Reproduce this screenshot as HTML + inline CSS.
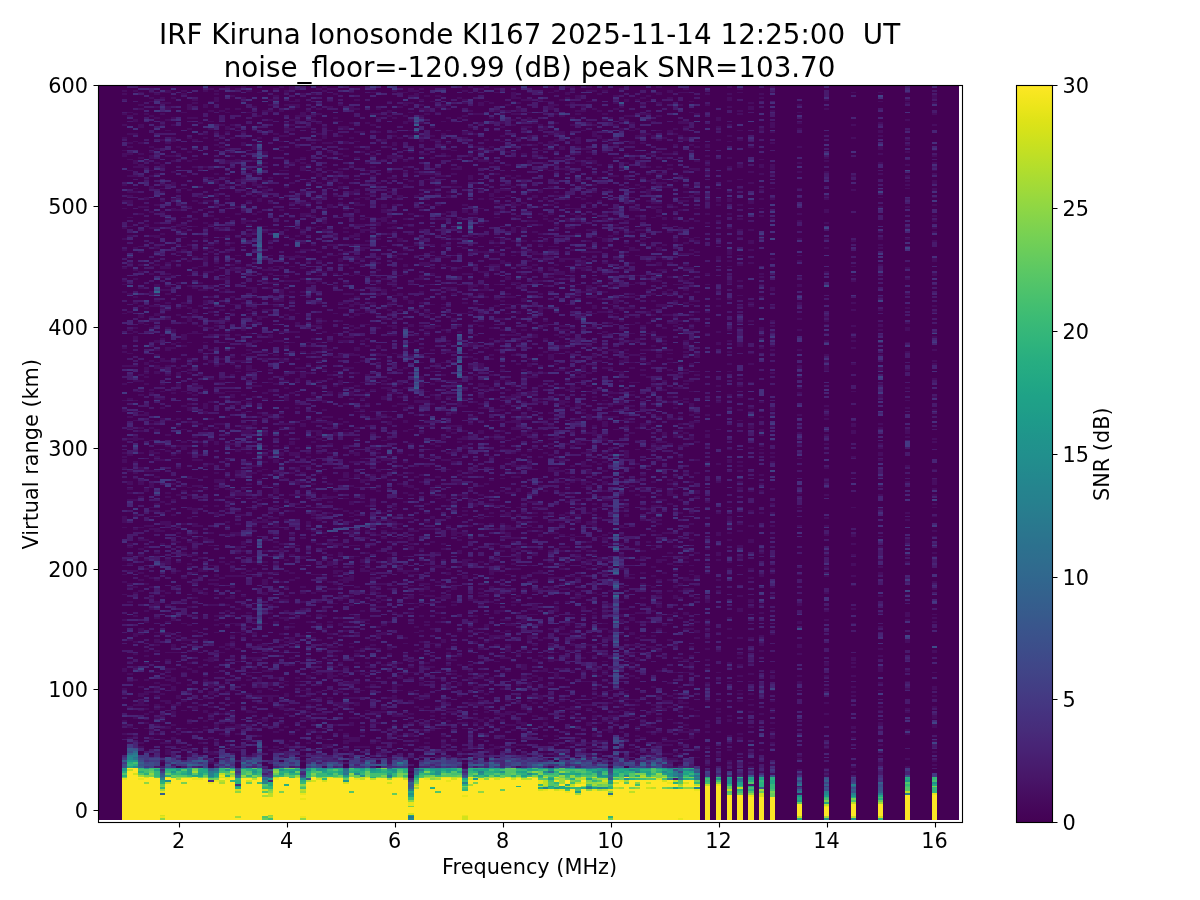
<!DOCTYPE html>
<html lang="en"><head><meta charset="utf-8"><title>IRF Kiruna Ionosonde KI167</title>
<style>html,body{margin:0;padding:0;background:#fff}svg{display:block}text{font-family:"DejaVu Sans","Liberation Sans",sans-serif;fill:#000}.t15{font-size:20.8333px}.t20{font-size:27.7778px}</style></head><body>
<svg width="1200" height="900" viewBox="0 0 1200 900">
<defs><clipPath id="axclip"><rect x="98" y="85" width="864" height="737"/></clipPath>
<linearGradient id="vir" x1="0" y1="0" x2="0" y2="1"><stop offset="0.0000" stop-color="#fde725"/><stop offset="0.0156" stop-color="#f4e61e"/><stop offset="0.0312" stop-color="#eae51a"/><stop offset="0.0469" stop-color="#dfe318"/><stop offset="0.0625" stop-color="#d5e21a"/><stop offset="0.0781" stop-color="#cae11f"/><stop offset="0.0938" stop-color="#c0df25"/><stop offset="0.1094" stop-color="#b5de2b"/><stop offset="0.1250" stop-color="#aadc32"/><stop offset="0.1406" stop-color="#a0da39"/><stop offset="0.1562" stop-color="#95d840"/><stop offset="0.1719" stop-color="#8bd646"/><stop offset="0.1875" stop-color="#81d34d"/><stop offset="0.2031" stop-color="#77d153"/><stop offset="0.2188" stop-color="#6ece58"/><stop offset="0.2344" stop-color="#65cb5e"/><stop offset="0.2500" stop-color="#5cc863"/><stop offset="0.2656" stop-color="#54c568"/><stop offset="0.2812" stop-color="#4cc26c"/><stop offset="0.2969" stop-color="#44bf70"/><stop offset="0.3125" stop-color="#3dbc74"/><stop offset="0.3281" stop-color="#37b878"/><stop offset="0.3438" stop-color="#31b57b"/><stop offset="0.3594" stop-color="#2cb17e"/><stop offset="0.3750" stop-color="#27ad81"/><stop offset="0.3906" stop-color="#24aa83"/><stop offset="0.4062" stop-color="#21a685"/><stop offset="0.4219" stop-color="#1fa287"/><stop offset="0.4375" stop-color="#1f9f88"/><stop offset="0.4531" stop-color="#1e9b8a"/><stop offset="0.4688" stop-color="#1f978b"/><stop offset="0.4844" stop-color="#20938c"/><stop offset="0.5000" stop-color="#21908d"/><stop offset="0.5156" stop-color="#228c8d"/><stop offset="0.5312" stop-color="#23888e"/><stop offset="0.5469" stop-color="#25848e"/><stop offset="0.5625" stop-color="#26818e"/><stop offset="0.5781" stop-color="#287d8e"/><stop offset="0.5938" stop-color="#29798e"/><stop offset="0.6094" stop-color="#2b758e"/><stop offset="0.6250" stop-color="#2c718e"/><stop offset="0.6406" stop-color="#2e6e8e"/><stop offset="0.6562" stop-color="#306a8e"/><stop offset="0.6719" stop-color="#31668e"/><stop offset="0.6875" stop-color="#33628d"/><stop offset="0.7031" stop-color="#355e8d"/><stop offset="0.7188" stop-color="#375a8c"/><stop offset="0.7344" stop-color="#39558c"/><stop offset="0.7500" stop-color="#3b518b"/><stop offset="0.7656" stop-color="#3d4d8a"/><stop offset="0.7812" stop-color="#3f4889"/><stop offset="0.7969" stop-color="#414487"/><stop offset="0.8125" stop-color="#423f85"/><stop offset="0.8281" stop-color="#443a83"/><stop offset="0.8438" stop-color="#453581"/><stop offset="0.8594" stop-color="#46307e"/><stop offset="0.8750" stop-color="#472c7a"/><stop offset="0.8906" stop-color="#482677"/><stop offset="0.9062" stop-color="#482173"/><stop offset="0.9219" stop-color="#481c6e"/><stop offset="0.9375" stop-color="#481769"/><stop offset="0.9531" stop-color="#471164"/><stop offset="0.9688" stop-color="#460b5e"/><stop offset="0.9844" stop-color="#450559"/><stop offset="1.0000" stop-color="#440154"/></linearGradient></defs>
<rect width="1200" height="900" fill="#fff"/>
<g clip-path="url(#axclip)" shape-rendering="crispEdges">
<rect x="94.953" y="84.327" width="863.878" height="735.781" fill="#440154"/>
<g transform="matrix(5.39924 0 0 -1.81227 94.9532 820.1079)" fill="none" stroke-width="1">
<path stroke="#470d60" d="M135 24.5h1m-78 1h1m66 0h1m-3 1h1m11 0h1m4 0h1m-83 1h1m71 0h1m-73 1h1m9 0h1m66 0h1m-94 1h1m35 0h1m5 0h1m22 0h1m13 0h1m18 0h1m9 0h1m-43 1h1m4 0h1m3 0h1m7 0h1m19 0h1m9 0h1m-135 1h1m30 0h1m1 0h1m13 0h1m52 0h1m23 0h1m-134 1h1m25 0h1m15 0h1m17 0h1m20 0h1m14 0h1m8 0h1m37 0h1m-102 1h1m15 0h1m16 0h1m18 0h2m5 0h1m16 0h1m19 0h1m-139 1h1m3 0h1m18 0h1m11 0h1m6 0h1m8 0h1m1 0h1m6 0h1m20 0h1m3 0h1m4 0h1m8 0h1m-102 1h1m6 0h1m10 0h1m5 0h1m3 0h1m21 0h1m2 0h2m2 0h1m17 0h1m5 0h1m23 0h1m14 0h1m14 0h1m-133 1h1m3 0h1m3 0h2m17 0h1m12 0h1m19 0h1m2 0h2m1 0h1m3 0h1m1 0h1m1 0h1m5 0h1m6 0h1m1 0h2m1 0h2m1 0h1m6 0h1m-103 1h1m7 0h1m11 0h2m12 0h1m4 0h1m14 0h1m2 0h1m2 0h1m3 0h1m12 0h1m8 0h1m2 0h1m4 0h1m13 0h1m33 0h1m-143 1h1m3 0h1m7 0h2m5 0h2m7 0h1m4 0h1m14 0h1m2 0h1m3 0h2m2 0h2m26 0h1m10 0h1m5 0h1m5 0h1m-107 1h1m4 0h1m2 0h1m10 0h2m4 0h1m1 0h1m1 0h1m12 0h1m5 0h1m2 0h1m4 0h2m4 0h1m11 0h1m5 0h1m1 0h1m8 0h1m16 0h1m9 0h1m-128 1h1m7 0h1m3 0h1m4 0h1m5 0h1m1 0h1m1 0h1m6 0h1m5 0h3m2 0h1m6 0h1m9 0h1m3 0h1m1 0h2m9 0h1m3 0h2m20 0h1m-90 1h1m10 0h1m1 0h1m4 0h2m13 0h1m6 0h1m8 0h1m4 0h2m24 0h3m1 0h1m26 0h1m9 0h1m-140 1h1m1 0h1m3 0h2m5 0h1m19 0h1m6 0h1m4 0h1m3 0h1m5 0h1m2 0h1m19 0h2m2 0h2m1 0h1m12 0h1m12 0h1m7 0h1m-104 1h1m5 0h1m7 0h1m3 0h1m5 0h3m3 0h1m6 0h1m6 0h1m26 0h2m10 0h3m47 0h1m-146 1h1m1 0h1m1 0h1m18 0h2m7 0h1m4 0h2m2 0h1m2 0h1m4 0h1m4 0h1m6 0h1m7 0h1m8 0h1m8 0h1m11 0h1m9 0h1m-114 1h1m3 0h1m3 0h1m6 0h1m24 0h3m12 0h1m13 0h1m13 0h1m11 0h1m3 0h1m4 0h1m8 0h1m5 0h1m14 0h1m-134 1h1m16 0h1m5 0h1m10 0h1m14 0h1m1 0h1m5 0h1m15 0h1m2 0h1m1 0h1m6 0h1m7 0h1m9 0h1m6 0h1m7 0h1m-121 1h1m5 0h1m3 0h1m7 0h1m2 0h1m9 0h1m9 0h1m8 0h1m2 0h1m13 0h1m19 0h2m9 0h1m15 0h1m30 0h1m-133 1h1m14 0h1m5 0h1m1 0h1m7 0h1m11 0h1m25 0h1m7 0h1m1 0h1m4 0h1m1 0h1m3 0h4m1 0h1m1 0h1m9 0h1m-116 1h1m4 0h1m4 0h1m8 0h1m4 0h1m2 0h1m1 0h2m4 0h1m9 0h1m4 0h1m1 0h1m6 0h1m7 0h1m3 0h1m12 0h2m4 0h1m9 0h1m34 0h1m4 0h1m-142 1h1m2 0h2m2 0h1m1 0h1m7 0h1m16 0h1m10 0h1m9 0h1m3 0h1m11 0h1m9 0h1m16 0h1m1 0h1m15 0h1m14 0h1m-135 1h1m6 0h1m6 0h1m1 0h1m1 0h4m3 0h1m3 0h1m2 0h1m10 0h1m21 0h1m3 0h1m16 0h1m7 0h1m1 0h2m9 0h1m7 0h1m18 0h1m14 0h1m-151 1h1m5 0h1m2 0h1m7 0h1m3 0h1m1 0h1m15 0h1m2 0h1m7 0h1m4 0h1m12 0h1m2 0h2m1 0h1m3 0h1m7 0h1m10 0h1m6 0h1m3 0h1m31 0h1m9 0h1m-147 1h1m7 0h1m5 0h1m1 0h1m8 0h1m12 0h1m3 0h2m5 0h1m2 0h1m5 0h2m1 0h1m7 0h2m3 0h1m7 0h1m1 0h1m7 0h1m5 0h1m17 0h1m19 0h1m-141 1h1m6 0h1m7 0h1m8 0h1m1 0h1m8 0h1m22 0h1m1 0h1m5 0h1m3 0h1m2 0h1m6 0h1m8 0h3m1 0h1m14 0h1m3 0h1m-109 1h1m7 0h1m5 0h1m6 0h2m7 0h2m1 0h1m2 0h1m24 0h2m2 0h2m7 0h1m6 0h1m10 0h1m2 0h1m1 0h1m8 0h1m1 0h1m32 0h1m-144 1h1m3 0h1m9 0h1m11 0h1m4 0h2m7 0h2m3 0h1m11 0h1m5 0h1m1 0h1m10 0h1m5 0h1m2 0h1m2 0h1m4 0h1m3 0h1m50 0h1m-144 1h1m42 0h3m4 0h1m12 0h1m5 0h1m6 0h1m3 0h1m2 0h2m2 0h1m11 0h1m5 0h1m37 0h1m-147 1h1m4 0h1m6 0h1m1 0h1m1 0h1m6 0h1m2 0h1m2 0h1m2 0h2m9 0h1m2 0h1m2 0h1m15 0h3m25 0h1m20 0h1m11 0h1m-126 1h1m3 0h1m5 0h1m1 0h1m1 0h2m2 0h2m9 0h1m11 0h3m8 0h1m2 0h2m5 0h1m3 0h2m2 0h1m7 0h1m3 0h1m3 0h1m2 0h1m3 0h1m4 0h1m6 0h1m5 0h1m3 0h1m24 0h1m-143 1h1m7 0h1m3 0h1m6 0h2m7 0h1m7 0h1m5 0h1m19 0h1m9 0h1m2 0h1m11 0h1m1 0h1m5 0h1m7 0h1m7 0h1m25 0h1m-137 1h1m1 0h1m6 0h1m15 0h2m3 0h1m13 0h1m6 0h1m3 0h3m5 0h1m6 0h1m3 0h1m3 0h3m1 0h1m7 0h1m3 0h3m2 0h1m1 0h1m4 0h1m9 0h1m24 0h1m-145 1h1m5 0h1m5 0h1m2 0h1m11 0h2m3 0h1m7 0h1m6 0h1m5 0h1m1 0h1m1 0h1m22 0h1m1 0h1m8 0h1m8 0h1m2 0h1m35 0h1m9 0h1m-149 1h3m1 0h1m2 0h2m3 0h1m15 0h1m3 0h1m5 0h2m1 0h1m21 0h2m12 0h1m5 0h2m2 0h1m5 0h1m2 0h2m16 0h1m-114 1h1m4 0h1m11 0h1m4 0h2m12 0h2m2 0h1m16 0h1m3 0h2m7 0h1m2 0h1m7 0h1m5 0h1m1 0h2m9 0h2m25 0h1m-128 1h1m3 0h2m2 0h1m15 0h1m6 0h2m17 0h1m5 0h1m6 0h1m4 0h1m3 0h1m5 0h1m9 0h1m3 0h1m4 0h2m1 0h1m4 0h1m1 0h1m3 0h1m5 0h1m-117 1h1m22 0h1m1 0h1m20 0h2m7 0h1m4 0h1m12 0h1m1 0h1m9 0h1m2 0h1m1 0h2m20 0h1m-107 1h1m4 0h1m6 0h1m4 0h1m8 0h1m1 0h1m2 0h3m5 0h2m3 0h3m20 0h1m3 0h1m5 0h1m4 0h2m8 0h1m-100 1h1m2 0h1m3 0h1m13 0h5m1 0h1m1 0h1m1 0h1m15 0h1m11 0h1m10 0h1m1 0h3m1 0h1m8 0h1m10 0h1m1 0h1m2 0h1m30 0h1m14 0h1m-148 1h2m2 0h1m8 0h1m5 0h2m6 0h1m25 0h1m10 0h1m25 0h1m8 0h1m11 0h1m1 0h1m-113 1h2m6 0h1m3 0h2m1 0h1m5 0h1m8 0h1m1 0h1m2 0h2m12 0h1m12 0h1m20 0h1m47 0h1m-130 1h1m2 0h1m10 0h1m4 0h1m6 0h3m8 0h2m6 0h1m38 0h1m2 0h1m20 0h1m5 0h1m19 0h1m-141 1h1m5 0h1m2 0h1m8 0h1m8 0h1m14 0h1m7 0h1m14 0h1m4 0h1m4 0h1m16 0h1m37 0h1m14 0h1m4 0h1m-148 1h1m5 0h1m6 0h1m8 0h1m19 0h1m4 0h1m9 0h1m4 0h2m11 0h1m8 0h1m10 0h1m4 0h1m4 0h1m26 0h1m14 0h1m-144 1h2m3 0h1m3 0h1m1 0h1m3 0h1m2 0h1m1 0h1m2 0h1m1 0h1m3 0h1m9 0h1m3 0h2m3 0h1m4 0h1m1 0h1m1 0h1m8 0h1m1 0h1m3 0h1m-74 1h1m3 0h1m16 0h1m1 0h1m11 0h3m11 0h1m1 0h1m4 0h1m12 0h1m25 0h1m3 0h1m2 0h1m16 0h1m14 0h1m-140 1h1m7 0h1m5 0h2m2 0h1m5 0h1m4 0h1m1 0h1m2 0h1m6 0h2m1 0h2m12 0h1m25 0h2m2 0h1m15 0h1m6 0h1m3 0h1m8 0h1m19 0h1m-144 1h1m1 0h1m3 0h2m5 0h1m5 0h1m1 0h1m1 0h1m29 0h1m8 0h1m3 0h1m4 0h1m3 0h1m4 0h1m27 0h1m-102 1h1m15 0h1m2 0h1m3 0h1m1 0h1m3 0h1m10 0h1m1 0h1m1 0h1m4 0h1m5 0h1m1 0h1m1 0h1m5 0h2m1 0h1m2 0h1m14 0h1m7 0h1m16 0h1m-113 1h1m6 0h1m7 0h1m10 0h1m3 0h2m1 0h1m9 0h1m10 0h1m2 0h1m8 0h1m1 0h1m3 0h1m7 0h1m5 0h1m19 0h1m5 0h1m4 0h1m4 0h1m4 0h1m-135 1h1m34 0h1m1 0h1m1 0h1m3 0h1m7 0h1m8 0h1m4 0h1m13 0h1m6 0h1m1 0h1m26 0h1m-112 1h2m4 0h1m1 0h1m3 0h1m5 0h1m12 0h3m6 0h1m7 0h2m4 0h1m20 0h1m21 0h1m1 0h2m4 0h1m39 0h1m-151 1h1m7 0h1m4 0h1m12 0h2m12 0h1m2 0h1m3 0h1m10 0h1m2 0h1m2 0h1m6 0h1m5 0h2m4 0h1m1 0h1m3 0h1m9 0h1m20 0h1m19 0h1m4 0h1m-146 1h1m7 0h2m2 0h1m7 0h1m3 0h1m10 0h1m16 0h1m17 0h1m3 0h1m3 0h1m2 0h1m6 0h1m1 0h1m3 0h1m10 0h1m2 0h1m31 0h1m-139 1h1m8 0h1m2 0h1m2 0h1m21 0h1m1 0h1m3 0h1m7 0h1m2 0h2m16 0h1m12 0h1m5 0h1m1 0h1m16 0h1m22 0h1m4 0h1m-118 1h1m7 0h1m6 0h1m9 0h1m1 0h1m4 0h1m4 0h1m1 0h1m1 0h1m9 0h1m30 0h1m8 0h1m15 0h1m-127 1h1m7 0h1m6 0h1m8 0h1m7 0h1m3 0h1m2 0h1m1 0h1m3 0h1m1 0h1m4 0h1m37 0h1m10 0h1m6 0h1m3 0h1m13 0h1m4 0h1m-135 1h1m11 0h1m2 0h1m4 0h1m12 0h1m12 0h1m9 0h1m9 0h1m1 0h1m2 0h1m3 0h2m1 0h1m9 0h1m-82 1h1m6 0h2m5 0h1m1 0h1m13 0h1m14 0h2m5 0h2m14 0h1m2 0h2m14 0h1m8 0h1m3 0h1m26 0h1m-125 1h1m4 0h2m2 0h1m2 0h3m5 0h1m2 0h1m7 0h1m4 0h1m4 0h1m17 0h2m6 0h1m3 0h1m2 0h1m7 0h1m1 0h1m7 0h1m10 0h1m20 0h1m-132 1h1m34 0h1m22 0h1m14 0h1m1 0h1m7 0h1m1 0h2m9 0h1m4 0h1m34 0h1m-139 1h1m23 0h1m11 0h1m4 0h1m5 0h1m2 0h1m7 0h1m12 0h1m20 0h1m19 0h1m10 0h1m-118 1h3m6 0h2m6 0h1m3 0h1m30 0h1m3 0h1m3 0h1m5 0h1m5 0h1m5 0h1m2 0h1m2 0h1m2 0h2m53 0h1m-147 1h1m1 0h1m6 0h1m13 0h1m6 0h1m5 0h1m2 0h1m10 0h1m16 0h1m3 0h1m3 0h1m3 0h1m15 0h1m10 0h1m5 0h1m1 0h1m31 0h1m-132 1h1m1 0h1m22 0h1m2 0h1m1 0h1m5 0h1m4 0h1m3 0h1m1 0h1m4 0h1m12 0h2m1 0h1m10 0h1m9 0h1m31 0h1m-132 1h1m8 0h1m1 0h1m6 0h1m10 0h2m2 0h1m2 0h1m3 0h1m8 0h1m30 0h1m3 0h1m3 0h2m1 0h1m4 0h1m19 0h1m-120 1h1m2 0h1m3 0h1m5 0h1m5 0h2m2 0h1m7 0h1m8 0h1m22 0h1m1 0h1m4 0h1m2 0h1m3 0h1m2 0h2m6 0h2m6 0h1m15 0h1m6 0h1m-115 1h1m3 0h1m3 0h1m22 0h1m9 0h1m3 0h3m2 0h1m13 0h1m7 0h1m34 0h1m-117 1h1m3 0h1m13 0h1m9 0h2m7 0h1m15 0h1m3 0h1m5 0h1m1 0h1m12 0h1m64 0h1m-145 1h1m4 0h1m4 0h3m1 0h1m8 0h2m3 0h1m1 0h1m4 0h1m9 0h1m12 0h1m8 0h1m6 0h1m1 0h1m5 0h1m6 0h1m2 0h1m7 0h1m43 0h1m-137 1h1m21 0h1m3 0h1m16 0h1m15 0h1m1 0h1m4 0h1m2 0h1m10 0h2m4 0h1m10 0h1m1 0h1m3 0h1m1 0h1m1 0h1m-115 1h1m7 0h1m9 0h1m12 0h1m6 0h1m6 0h1m20 0h3m4 0h2m8 0h1m1 0h1m2 0h1m5 0h1m1 0h1m19 0h1m-117 1h2m3 0h2m13 0h1m1 0h1m4 0h1m8 0h1m4 0h1m3 0h2m18 0h1m13 0h2m9 0h1m1 0h1m25 0h1m-115 1h1m1 0h1m8 0h1m3 0h1m2 0h1m10 0h1m1 0h1m2 0h1m7 0h1m5 0h1m9 0h2m4 0h1m2 0h1m3 0h1m2 0h1m2 0h1m6 0h1m3 0h1m5 0h1m5 0h1m3 0h1m-108 1h1m9 0h1m8 0h1m18 0h1m13 0h1m6 0h1m8 0h1m11 0h1m6 0h1m15 0h1m1 0h1m-106 1h1m26 0h1m6 0h1m19 0h1m7 0h1m10 0h1m2 0h1m1 0h1m6 0h2m9 0h1m4 0h2m6 0h1m-94 1h1m3 0h1m7 0h1m15 0h1m6 0h1m9 0h1m2 0h1m13 0h1m3 0h1m7 0h1m46 0h1m-129 1h1m4 0h1m3 0h1m14 0h1m1 0h1m1 0h1m7 0h1m7 0h1m10 0h1m3 0h2m4 0h1m4 0h1m1 0h1m15 0h1m4 0h1m2 0h1m-98 1h1m6 0h1m1 0h2m4 0h1m1 0h1m2 0h1m4 0h1m3 0h1m4 0h1m14 0h1m10 0h1m10 0h1m6 0h1m6 0h1m4 0h1m23 0h1m9 0h1m-132 1h1m3 0h1m15 0h1m3 0h1m5 0h1m3 0h1m2 0h1m7 0h1m3 0h1m2 0h1m1 0h1m6 0h1m7 0h2m8 0h1m8 0h1m2 0h1m1 0h1m8 0h1m18 0h1m24 0h1m-151 1h1m8 0h1m7 0h1m12 0h1m12 0h3m19 0h1m4 0h2m2 0h1m17 0h1m1 0h1m13 0h1m21 0h1m14 0h1m-140 1h1m20 0h1m1 0h2m1 0h1m7 0h1m2 0h1m15 0h1m34 0h1m6 0h1m1 0h1m8 0h1m37 0h1m-149 1h1m10 0h1m3 0h2m15 0h1m1 0h2m5 0h1m11 0h1m9 0h1m21 0h1m4 0h1m6 0h1m45 0h1m-134 1h1m6 0h1m6 0h1m6 0h1m2 0h1m14 0h1m23 0h2m6 0h1m5 0h1m2 0h1m1 0h1m4 0h1m1 0h1m2 0h1m40 0h1m4 0h1m-142 1h1m13 0h1m3 0h1m22 0h1m2 0h1m4 0h1m10 0h1m17 0h1m1 0h1m5 0h2m5 0h1m1 0h1m13 0h1m21 0h1m4 0h1m-142 1h1m14 0h1m10 0h1m13 0h1m24 0h2m9 0h1m17 0h1m15 0h1m15 0h1m-126 1h1m15 0h1m11 0h1m3 0h1m37 0h2m3 0h1m4 0h1m1 0h1m1 0h1m2 0h2m20 0h1m20 0h1m-124 1h1m33 0h3m5 0h1m3 0h2m16 0h1m3 0h1m4 0h1m11 0h1m1 0h1m16 0h1m-112 1h2m1 0h1m7 0h2m1 0h1m2 0h1m4 0h1m14 0h1m12 0h1m5 0h1m4 0h1m5 0h1m3 0h1m13 0h1m8 0h1m18 0h1m6 0h1m-120 1h1m6 0h1m4 0h1m13 0h1m6 0h1m4 0h1m7 0h1m1 0h1m14 0h1m15 0h1m3 0h2m5 0h1m28 0h1m-125 1h1m4 0h1m4 0h1m16 0h1m4 0h1m2 0h1m6 0h1m3 0h1m9 0h1m3 0h1m6 0h1m3 0h2m6 0h1m1 0h1m9 0h1m6 0h1m8 0h1m7 0h1m-88 1h2m9 0h1m2 0h1m4 0h1m15 0h2m1 0h1m40 0h1m7 0h1m-112 1h1m7 0h1m5 0h2m20 0h1m5 0h1m1 0h1m3 0h1m4 0h3m11 0h1m11 0h1m11 0h1m5 0h2m2 0h1m-100 1h1m12 0h1m1 0h1m7 0h1m9 0h1m1 0h1m10 0h1m2 0h2m1 0h2m5 0h2m5 0h1m10 0h2m13 0h1m2 0h1m11 0h1m5 0h1m19 0h1m-141 1h1m5 0h1m8 0h1m1 0h1m8 0h1m18 0h1m9 0h1m32 0h1m4 0h1m11 0h1m39 0h1m-144 1h1m5 0h1m6 0h1m10 0h1m6 0h1m1 0h1m11 0h1m18 0h1m2 0h1m1 0h1m12 0h1m2 0h1m11 0h1m30 0h1m-128 1h1m3 0h1m2 0h1m2 0h2m6 0h1m14 0h1m9 0h1m8 0h1m1 0h1m2 0h1m8 0h1m2 0h1m3 0h1m6 0h1m6 0h1m10 0h1m1 0h1m6 0h1m-98 1h1m3 0h1m10 0h1m9 0h2m6 0h1m2 0h1m6 0h1m4 0h1m4 0h1m4 0h1m2 0h1m2 0h1m1 0h1m1 0h2m5 0h1m15 0h2m44 0h1m-150 1h2m2 0h1m4 0h1m9 0h1m9 0h1m2 0h1m6 0h1m2 0h1m3 0h1m8 0h1m4 0h1m6 0h1m10 0h1m12 0h1m5 0h1m3 0h1m17 0h1m-104 1h1m2 0h1m15 0h1m13 0h1m2 0h1m16 0h1m26 0h1m4 0h1m3 0h1m28 0h1m-135 1h1m2 0h1m11 0h2m8 0h1m12 0h1m7 0h2m6 0h2m2 0h1m7 0h1m13 0h1m14 0h1m6 0h1m-104 1h1m12 0h1m12 0h1m2 0h1m8 0h1m2 0h1m10 0h1m5 0h1m2 0h1m88 0h1m-148 1h1m2 0h1m9 0h2m8 0h1m1 0h1m2 0h1m5 0h1m2 0h3m3 0h1m7 0h2m20 0h1m22 0h1m1 0h1m2 0h2m4 0h1m-106 1h1m5 0h1m6 0h1m13 0h1m8 0h2m3 0h1m16 0h1m4 0h1m10 0h3m2 0h1m5 0h1m2 0h2m9 0h1m1 0h1m9 0h1m-113 1h1m9 0h1m2 0h1m1 0h4m1 0h1m12 0h1m1 0h1m2 0h1m20 0h1m10 0h1m8 0h1m1 0h1m12 0h1m7 0h1m11 0h1m11 0h1m4 0h1m-136 1h1m16 0h1m9 0h1m7 0h2m16 0h2m5 0h1m7 0h1m2 0h1m22 0h1m10 0h1m6 0h1m5 0h1m6 0h1m14 0h1m-138 1h1m5 0h1m3 0h1m8 0h1m3 0h1m1 0h1m2 0h1m7 0h1m6 0h1m5 0h1m7 0h1m7 0h1m7 0h2m11 0h1m6 0h1m3 0h1m7 0h1m11 0h1m19 0h1m-140 1h2m7 0h1m3 0h2m4 0h1m2 0h1m6 0h1m8 0h2m3 0h2m5 0h4m13 0h2m7 0h1m24 0h1m2 0h1m-102 1h1m9 0h1m5 0h1m3 0h1m19 0h1m1 0h1m13 0h1m11 0h2m7 0h1m4 0h1m3 0h1m1 0h1m15 0h1m3 0h1m3 0h1m3 0h1m-109 1h1m26 0h1m2 0h1m8 0h1m5 0h3m7 0h1m2 0h1m14 0h1m2 0h1m9 0h1m31 0h1m9 0h1m-141 1h1m14 0h3m2 0h1m12 0h1m4 0h1m5 0h2m12 0h1m4 0h1m5 0h2m4 0h1m4 0h1m21 0h2m1 0h1m29 0h1m-135 1h1m6 0h1m3 0h1m6 0h1m5 0h1m2 0h1m9 0h1m6 0h1m2 0h1m1 0h1m5 0h1m6 0h1m8 0h1m8 0h1m3 0h1m15 0h1m6 0h1m26 0h1m-129 1h2m1 0h1m7 0h1m1 0h1m3 0h1m1 0h1m11 0h1m5 0h1m4 0h1m13 0h1m2 0h1m1 0h1m10 0h1m6 0h1m12 0h1m4 0h1m7 0h1m32 0h1m-146 1h1m1 0h1m1 0h1m3 0h1m21 0h1m9 0h1m3 0h1m1 0h1m2 0h1m7 0h1m1 0h1m3 0h2m3 0h1m13 0h1m1 0h1m1 0h1m1 0h3m4 0h1m3 0h2m9 0h1m29 0h1m-127 1h1m18 0h1m4 0h1m3 0h1m6 0h1m7 0h1m11 0h1m3 0h1m5 0h1m4 0h2m2 0h1m1 0h1m5 0h1m6 0h2m3 0h1m5 0h1m5 0h1m-118 1h1m20 0h1m1 0h1m6 0h1m9 0h1m8 0h1m19 0h2m6 0h1m11 0h1m3 0h1m4 0h1m2 0h1m7 0h1m1 0h1m35 0h1m-150 1h1m1 0h1m8 0h2m14 0h1m2 0h1m6 0h1m1 0h1m32 0h1m2 0h1m7 0h1m2 0h1m4 0h1m17 0h1m19 0h1m4 0h1m9 0h1m-140 1h1m4 0h1m9 0h1m18 0h1m4 0h1m3 0h1m8 0h1m3 0h1m38 0h1m4 0h1m3 0h1m7 0h1m31 0h1m-129 1h1m3 0h1m2 0h1m4 0h1m12 0h1m14 0h1m6 0h2m1 0h1m2 0h1m3 0h1m1 0h1m1 0h1m2 0h1m9 0h1m33 0h1m-128 1h1m9 0h1m7 0h1m7 0h1m7 0h1m15 0h1m1 0h1m3 0h1m12 0h2m3 0h1m7 0h1m9 0h1m2 0h1m9 0h1m9 0h1m-118 1h1m2 0h1m6 0h1m9 0h1m6 0h1m24 0h1m14 0h1m1 0h1m2 0h1m7 0h2m19 0h1m11 0h1m25 0h1m-125 1h1m6 0h1m7 0h2m1 0h1m5 0h1m1 0h2m2 0h1m3 0h1m35 0h1m2 0h1m1 0h1m3 0h1m2 0h1m3 0h1m7 0h1m3 0h1m-114 1h1m5 0h1m14 0h1m6 0h1m6 0h1m1 0h3m12 0h1m5 0h1m9 0h1m4 0h1m15 0h1m1 0h1m15 0h1m26 0h1m-127 1h2m1 0h2m8 0h1m5 0h1m6 0h1m2 0h1m11 0h1m6 0h1m14 0h1m13 0h1m4 0h1m5 0h1m18 0h1m28 0h1m-143 1h2m10 0h2m9 0h1m26 0h1m8 0h1m26 0h1m9 0h1m1 0h1m3 0h1m6 0h1m3 0h1m28 0h1m-135 1h1m1 0h1m1 0h1m17 0h1m11 0h1m2 0h1m2 0h1m1 0h1m16 0h4m9 0h1m5 0h1m13 0h1m4 0h1m-89 1h1m1 0h2m13 0h1m24 0h1m14 0h1m4 0h1m1 0h2m2 0h1m46 0h1m4 0h1m9 0h1m-139 1h1m6 0h1m1 0h1m6 0h1m2 0h1m11 0h1m3 0h1m4 0h1m8 0h1m1 0h1m7 0h1m5 0h1m3 0h1m1 0h1m5 0h1m2 0h1m6 0h1m10 0h1m19 0h1m4 0h1m-126 1h1m5 0h1m3 0h2m15 0h1m4 0h1m3 0h1m2 0h1m11 0h3m7 0h1m7 0h2m9 0h1m9 0h2m3 0h1m4 0h1m1 0h1m-107 1h2m5 0h1m21 0h1m6 0h2m1 0h1m2 0h1m4 0h2m3 0h1m2 0h1m8 0h1m4 0h1m1 0h1m20 0h1m15 0h1m35 0h1m-149 1h1m2 0h2m2 0h1m20 0h1m3 0h1m15 0h2m3 0h3m2 0h1m8 0h1m1 0h2m15 0h1m-89 1h1m2 0h1m13 0h1m5 0h1m3 0h2m8 0h1m2 0h1m5 0h1m1 0h1m22 0h2m3 0h1m15 0h2m18 0h1m5 0h1m-115 1h2m2 0h1m1 0h1m2 0h2m4 0h1m4 0h1m1 0h1m1 0h1m21 0h1m9 0h1m3 0h1m6 0h1m3 0h1m11 0h1m4 0h1m19 0h1m3 0h1m3 0h1m4 0h1m4 0h1m-124 1h2m2 0h1m1 0h1m7 0h1m6 0h1m5 0h1m16 0h1m14 0h1m1 0h1m1 0h1m2 0h1m7 0h1m4 0h2m11 0h1m5 0h1m8 0h1m-115 1h1m6 0h2m10 0h1m4 0h4m6 0h1m7 0h1m3 0h1m2 0h2m5 0h1m17 0h1m1 0h1m2 0h1m4 0h1m1 0h1m-87 1h1m23 0h1m1 0h1m3 0h1m5 0h1m2 0h1m7 0h1m1 0h1m22 0h1m11 0h1m2 0h1m8 0h1m1 0h2m12 0h1m32 0h1m-146 1h1m11 0h1m8 0h1m5 0h2m6 0h1m16 0h2m3 0h1m2 0h1m5 0h1m15 0h1m5 0h1m9 0h1m13 0h1m17 0h1m-131 1h1m1 0h1m2 0h1m20 0h1m9 0h1m5 0h1m7 0h2m5 0h1m10 0h1m6 0h2m7 0h1m8 0h1m18 0h1m37 0h1m-149 1h1m6 0h1m7 0h1m3 0h2m6 0h1m5 0h1m1 0h1m5 0h1m19 0h1m6 0h2m1 0h1m5 0h1m1 0h1m1 0h2m8 0h1m-77 1h1m17 0h1m2 0h1m3 0h1m5 0h1m7 0h1m11 0h1m2 0h1m2 0h1m1 0h1m1 0h1m3 0h1m3 0h1m11 0h2m3 0h1m1 0h1m4 0h1m7 0h1m1 0h1m24 0h1m-141 1h2m1 0h1m4 0h1m7 0h1m5 0h2m2 0h1m4 0h1m4 0h1m1 0h1m19 0h1m23 0h1m2 0h1m1 0h1m9 0h1m13 0h1m-105 1h2m5 0h1m4 0h1m15 0h1m9 0h1m10 0h1m5 0h1m8 0h1m16 0h1m3 0h1m42 0h1m-136 1h1m6 0h1m22 0h1m27 0h1m9 0h1m3 0h2m9 0h1m7 0h1m15 0h1m12 0h1m9 0h1m14 0h1m-136 1h1m1 0h1m7 0h1m2 0h1m7 0h1m8 0h1m4 0h1m9 0h1m4 0h1m3 0h1m4 0h1m17 0h2m4 0h2m-94 1h1m1 0h1m10 0h1m12 0h1m9 0h1m3 0h1m9 0h1m4 0h1m3 0h1m1 0h2m15 0h1m2 0h1m13 0h1m18 0h1m29 0h1m-144 1h1m12 0h1m17 0h1m3 0h1m1 0h1m1 0h1m5 0h1m11 0h1m10 0h2m5 0h1m15 0h1m9 0h1m-108 1h2m6 0h1m15 0h1m4 0h1m5 0h1m23 0h1m3 0h1m4 0h1m19 0h2m1 0h1m6 0h2m2 0h1m-89 1h1m8 0h1m1 0h1m2 0h1m8 0h1m2 0h1m4 0h1m2 0h1m8 0h1m5 0h1m20 0h1m16 0h1m-100 1h1m4 0h1m10 0h2m3 0h1m2 0h1m6 0h1m2 0h3m4 0h1m14 0h1m1 0h1m1 0h1m24 0h1m7 0h1m9 0h1m-97 1h1m1 0h1m8 0h2m8 0h3m3 0h1m6 0h1m8 0h1m3 0h1m1 0h1m2 0h2m2 0h1m9 0h1m15 0h1m2 0h1m3 0h1m1 0h2m27 0h1m9 0h1m9 0h1m-150 1h1m6 0h1m12 0h3m4 0h1m6 0h1m16 0h1m16 0h1m1 0h2m2 0h1m5 0h1m19 0h1m4 0h1m18 0h1m-122 1h1m6 0h1m1 0h1m6 0h1m7 0h1m10 0h1m7 0h1m22 0h1m2 0h1m4 0h1m10 0h1m4 0h1m6 0h1m4 0h1m9 0h1m1 0h1m-118 1h1m2 0h1m10 0h1m1 0h1m1 0h2m1 0h1m5 0h1m6 0h1m10 0h1m7 0h1m2 0h1m6 0h1m8 0h1m8 0h1m13 0h1m2 0h1m2 0h1m11 0h1m5 0h1m29 0h1m-146 1h1m6 0h1m1 0h1m28 0h1m3 0h1m5 0h1m17 0h1m13 0h1m9 0h1m18 0h1m1 0h1m-112 1h1m5 0h1m1 0h2m2 0h1m8 0h1m1 0h1m13 0h1m9 0h2m4 0h1m7 0h1m10 0h1m8 0h1m7 0h1m7 0h1m37 0h1m-140 1h1m1 0h1m1 0h1m3 0h1m13 0h1m8 0h1m2 0h1m2 0h1m12 0h1m10 0h1m4 0h1m14 0h1m2 0h1m3 0h1m3 0h1m7 0h1m16 0h1m31 0h1m-150 1h1m1 0h1m13 0h2m13 0h2m10 0h1m10 0h1m5 0h2m18 0h1m1 0h1m1 0h2m2 0h1m8 0h1m3 0h1m2 0h1m4 0h1m3 0h1m15 0h1m14 0h1m4 0h1m-134 1h2m6 0h1m14 0h2m2 0h2m3 0h1m18 0h1m15 0h1m10 0h1m5 0h1m48 0h1m-149 1h1m7 0h1m1 0h2m16 0h1m11 0h1m5 0h1m7 0h1m13 0h1m6 0h1m2 0h1m1 0h1m1 0h1m2 0h1m1 0h1m4 0h1m35 0h1m-125 1h1m5 0h1m2 0h1m3 0h1m1 0h1m7 0h1m7 0h1m3 0h1m1 0h1m1 0h1m8 0h1m3 0h1m4 0h1m8 0h2m9 0h1m18 0h1m37 0h1m-118 1h1m2 0h1m14 0h1m1 0h1m2 0h1m1 0h1m2 0h1m3 0h1m6 0h1m33 0h1m21 0h1m-117 1h1m14 0h1m3 0h1m1 0h2m3 0h1m2 0h1m1 0h1m2 0h1m4 0h1m11 0h1m10 0h1m8 0h1m8 0h1m3 0h1m5 0h1m11 0h1m1 0h1m-106 1h1m2 0h3m14 0h1m3 0h1m3 0h1m17 0h1m2 0h1m11 0h1m1 0h1m6 0h1m7 0h3m4 0h1m2 0h1m24 0h1m-113 1h3m21 0h1m4 0h2m2 0h1m11 0h1m12 0h1m4 0h1m9 0h2m2 0h1m5 0h1m16 0h1m47 0h1m-151 1h1m2 0h1m6 0h1m21 0h1m17 0h1m14 0h1m2 0h1m10 0h2m13 0h1m35 0h1m-116 1h1m7 0h2m4 0h1m3 0h2m5 0h1m5 0h1m7 0h1m1 0h1m15 0h2m1 0h1m7 0h1m1 0h2m5 0h1m21 0h1m30 0h1m-130 1h1m55 0h1m2 0h1m9 0h1m2 0h1m1 0h1m4 0h1m14 0h1m-111 1h1m1 0h1m20 0h1m2 0h1m1 0h1m2 0h1m10 0h2m1 0h1m1 0h1m4 0h1m8 0h1m23 0h1m1 0h1m1 0h1m18 0h1m3 0h1m1 0h1m5 0h1m-121 1h1m5 0h2m5 0h2m4 0h1m5 0h1m2 0h1m19 0h3m8 0h2m14 0h1m4 0h2m17 0h1m6 0h1m5 0h1m27 0h1m-132 1h2m6 0h1m9 0h1m5 0h1m10 0h1m2 0h2m12 0h2m8 0h1m9 0h1m6 0h1m3 0h1m8 0h1m23 0h1m-126 1h1m5 0h1m27 0h1m4 0h1m17 0h1m10 0h1m8 0h1m8 0h1m6 0h1m9 0h1m16 0h1m14 0h1m-135 1h1m7 0h1m4 0h1m11 0h1m2 0h1m1 0h2m10 0h1m5 0h1m3 0h1m9 0h1m10 0h1m4 0h1m13 0h1m46 0h1m-141 1h1m2 0h1m1 0h2m3 0h1m1 0h1m10 0h1m5 0h1m1 0h2m1 0h1m1 0h1m1 0h1m3 0h2m3 0h1m3 0h1m8 0h1m6 0h1m4 0h1m5 0h1m6 0h2m2 0h1m3 0h1m24 0h1m1 0h1m19 0h1m-136 1h1m2 0h1m12 0h1m5 0h1m18 0h1m14 0h1m7 0h1m3 0h1m1 0h1m10 0h1m3 0h1m2 0h1m-88 1h1m4 0h1m1 0h1m7 0h1m2 0h1m9 0h1m4 0h1m17 0h1m3 0h1m2 0h1m1 0h1m1 0h1m1 0h2m23 0h1m2 0h1m13 0h1m5 0h1m11 0h1m-122 1h1m1 0h1m10 0h1m9 0h1m3 0h1m9 0h2m15 0h1m9 0h1m2 0h1m2 0h1m10 0h1m7 0h1m17 0h1m23 0h1m-133 1h1m1 0h3m2 0h1m10 0h1m1 0h1m1 0h1m3 0h1m6 0h1m16 0h1m4 0h1m6 0h1m12 0h1m15 0h1m3 0h2m3 0h1m9 0h1m-113 1h2m7 0h1m1 0h1m1 0h2m10 0h1m6 0h1m14 0h1m3 0h1m21 0h1m2 0h1m1 0h2m1 0h1m10 0h1m2 0h1m23 0h1m4 0h1m9 0h1m-130 1h1m2 0h1m2 0h1m13 0h1m3 0h1m26 0h1m14 0h1m6 0h1m14 0h2m5 0h1m43 0h1m-151 1h1m1 0h1m2 0h1m7 0h1m2 0h1m31 0h1m35 0h1m4 0h1m5 0h1m2 0h1m21 0h1m-120 1h3m12 0h1m6 0h1m8 0h1m3 0h1m6 0h1m5 0h1m7 0h1m1 0h1m2 0h2m3 0h1m1 0h2m1 0h1m3 0h1m2 0h2m8 0h1m15 0h1m44 0h1m-149 1h1m10 0h1m20 0h2m23 0h1m3 0h1m4 0h1m4 0h1m6 0h1m12 0h1m8 0h1m2 0h1m2 0h1m36 0h1m-138 1h1m10 0h1m6 0h1m3 0h1m5 0h1m2 0h1m24 0h1m4 0h1m4 0h2m2 0h1m8 0h1m1 0h1m10 0h1m1 0h2m4 0h1m9 0h1m11 0h1m-109 1h2m2 0h1m9 0h1m2 0h1m1 0h1m4 0h1m8 0h1m5 0h1m4 0h1m7 0h1m1 0h1m9 0h2m6 0h1m5 0h1m3 0h1m20 0h1m9 0h1m9 0h1m-143 1h1m2 0h1m15 0h3m3 0h1m6 0h2m15 0h1m7 0h1m2 0h1m2 0h1m3 0h1m4 0h1m7 0h1m3 0h1m14 0h2m4 0h1m9 0h1m16 0h1m9 0h1m-140 1h1m4 0h1m8 0h1m2 0h1m7 0h1m6 0h1m2 0h1m4 0h1m6 0h1m6 0h2m6 0h1m3 0h2m1 0h3m7 0h1m5 0h1m18 0h1m7 0h1m26 0h1m-145 1h1m1 0h1m1 0h1m9 0h1m1 0h1m4 0h1m6 0h1m1 0h1m6 0h1m4 0h1m28 0h2m11 0h1m9 0h1m8 0h2m10 0h1m23 0h1m-131 1h1m11 0h2m9 0h1m11 0h1m9 0h3m2 0h3m16 0h1m7 0h1m1 0h1m3 0h1m2 0h1m19 0h1m3 0h1m4 0h1m9 0h1m-131 1h1m7 0h2m2 0h2m5 0h1m4 0h3m1 0h1m4 0h1m1 0h1m8 0h1m14 0h1m8 0h1m4 0h1m10 0h1m6 0h2m5 0h1m1 0h1m29 0h1m4 0h1m-135 1h1m5 0h1m11 0h1m10 0h4m2 0h1m7 0h1m2 0h1m18 0h3m9 0h1m5 0h1m4 0h1m3 0h1m6 0h2m-105 1h1m1 0h2m2 0h2m23 0h1m18 0h1m3 0h2m6 0h3m2 0h2m1 0h2m4 0h1m9 0h1m4 0h1m20 0h1m-108 1h1m2 0h1m5 0h1m11 0h1m7 0h1m3 0h1m5 0h2m2 0h1m19 0h1m3 0h2m3 0h1m4 0h1m1 0h1m2 0h1m3 0h1m7 0h2m27 0h1m-130 1h1m17 0h1m5 0h1m3 0h1m7 0h2m8 0h1m1 0h1m14 0h2m11 0h1m2 0h1m5 0h1m2 0h3m7 0h1m3 0h1m12 0h1m1 0h1m-116 1h2m21 0h2m16 0h1m3 0h1m5 0h1m1 0h1m3 0h1m13 0h1m11 0h1m6 0h1m11 0h1m2 0h1m11 0h1m4 0h1m4 0h1m-127 1h1m10 0h1m6 0h1m2 0h1m35 0h1m17 0h1m5 0h1m20 0h1m-107 1h1m1 0h1m11 0h2m27 0h1m2 0h1m2 0h1m15 0h1m3 0h1m20 0h1m14 0h1m10 0h1m-117 1h1m11 0h1m24 0h1m6 0h1m24 0h2m1 0h2m1 0h1m9 0h1m5 0h1m2 0h1m17 0h1m1 0h1m5 0h1m9 0h1m19 0h1m-144 1h1m4 0h1m2 0h1m14 0h1m1 0h1m10 0h1m8 0h1m13 0h2m13 0h1m1 0h1m12 0h1m5 0h1m13 0h1m3 0h1m24 0h1m-135 1h1m3 0h1m28 0h1m5 0h1m2 0h1m5 0h1m2 0h2m6 0h1m2 0h1m8 0h1m1 0h1m5 0h1m2 0h2m10 0h1m2 0h1m21 0h1m-119 1h1m2 0h1m5 0h1m10 0h1m8 0h1m3 0h1m5 0h2m4 0h1m4 0h1m3 0h1m4 0h1m9 0h1m2 0h1m4 0h1m1 0h2m9 0h1m2 0h1m-90 1h1m6 0h1m13 0h1m16 0h3m5 0h1m2 0h1m8 0h1m1 0h2m3 0h2m9 0h1m6 0h1m1 0h1m2 0h1m5 0h1m7 0h1m-119 1h1m1 0h1m9 0h1m9 0h1m7 0h1m6 0h1m16 0h3m4 0h1m17 0h1m1 0h1m7 0h1m2 0h1m7 0h1m1 0h2m8 0h1m32 0h1m-145 1h1m4 0h2m11 0h1m6 0h1m3 0h1m4 0h1m6 0h1m1 0h1m3 0h1m9 0h1m4 0h1m3 0h1m1 0h1m1 0h1m1 0h1m3 0h1m18 0h1m7 0h1m3 0h1m1 0h1m-91 1h1m3 0h1m5 0h1m14 0h1m2 0h1m2 0h1m2 0h1m3 0h1m1 0h2m4 0h1m4 0h2m14 0h1m2 0h1m10 0h1m12 0h1m25 0h1m9 0h1m-148 1h1m9 0h1m6 0h1m1 0h1m12 0h1m6 0h1m9 0h1m4 0h1m5 0h1m2 0h1m5 0h2m1 0h1m4 0h1m13 0h1m17 0h1m27 0h1m-136 1h1m3 0h1m2 0h1m4 0h2m7 0h1m4 0h1m6 0h1m1 0h1m1 0h1m2 0h1m3 0h2m22 0h1m1 0h2m13 0h2m33 0h1m-124 1h1m4 0h1m3 0h1m7 0h3m5 0h1m10 0h1m3 0h1m10 0h1m2 0h1m8 0h1m9 0h1m3 0h1m7 0h1m2 0h1m2 0h2m3 0h1m6 0h1m29 0h1m-133 1h1m1 0h1m3 0h1m5 0h1m11 0h1m16 0h1m1 0h1m2 0h1m1 0h1m11 0h1m3 0h1m1 0h1m1 0h1m4 0h1m5 0h2m3 0h2m3 0h1m7 0h1m-71 1h1m10 0h1m6 0h2m2 0h1m7 0h1m7 0h1m14 0h2m17 0h2m21 0h1m19 0h1m-136 1h1m2 0h2m8 0h3m10 0h1m2 0h1m3 0h1m11 0h1m10 0h2m4 0h1m1 0h1m2 0h1m5 0h1m2 0h1m11 0h2m10 0h1m3 0h1m-115 1h1m3 0h1m2 0h1m2 0h1m17 0h1m11 0h1m7 0h1m2 0h1m1 0h1m1 0h1m1 0h1m3 0h2m3 0h1m37 0h1m35 0h1m-124 1h2m8 0h1m7 0h1m4 0h1m1 0h1m1 0h3m4 0h1m3 0h1m13 0h1m24 0h2m20 0h1m-115 1h2m9 0h1m15 0h2m1 0h1m3 0h1m3 0h1m7 0h1m9 0h1m1 0h3m6 0h1m1 0h1m10 0h1m9 0h1m5 0h1m1 0h1m3 0h2m-90 1h1m1 0h1m8 0h1m4 0h1m5 0h1m7 0h1m2 0h1m5 0h1m8 0h1m5 0h1m43 0h1m35 0h1m-147 1h1m18 0h1m5 0h1m3 0h1m21 0h1m8 0h1m9 0h3m7 0h2m11 0h1m27 0h1m-123 1h1m4 0h1m1 0h1m3 0h1m5 0h1m9 0h1m2 0h1m4 0h1m1 0h1m4 0h1m13 0h1m5 0h1m2 0h1m5 0h1m10 0h1m10 0h1m6 0h1m2 0h1m-103 1h1m1 0h1m3 0h1m1 0h1m10 0h1m9 0h2m8 0h1m32 0h1m1 0h1m5 0h1m1 0h1m5 0h1m11 0h1m15 0h1m-115 1h1m14 0h1m10 0h1m6 0h1m17 0h1m5 0h1m2 0h1m10 0h1m4 0h1m1 0h1m7 0h1m9 0h1m3 0h1m5 0h1m-109 1h1m7 0h1m10 0h2m2 0h1m9 0h1m13 0h1m18 0h1m3 0h1m5 0h2m3 0h1m1 0h1m8 0h1m4 0h1m2 0h1m25 0h1m9 0h1m4 0h1m-142 1h1m1 0h2m2 0h1m10 0h1m1 0h1m8 0h2m1 0h1m5 0h2m9 0h1m5 0h1m5 0h1m1 0h1m15 0h1m2 0h1m3 0h2m3 0h1m30 0h1m4 0h1m9 0h1m-141 1h3m3 0h1m1 0h1m8 0h1m5 0h1m12 0h1m27 0h1m1 0h1m8 0h1m1 0h1m7 0h1m1 0h1m15 0h1m21 0h1m4 0h1m-127 1h1m13 0h1m1 0h1m13 0h1m12 0h1m10 0h1m7 0h1m6 0h1m1 0h1m4 0h1m16 0h1m7 0h1m6 0h1m3 0h1m18 0h1m14 0h1m-147 1h1m1 0h1m2 0h1m2 0h1m3 0h1m11 0h1m14 0h1m11 0h1m3 0h1m25 0h1m6 0h1m1 0h1m2 0h1m3 0h1m-97 1h1m1 0h2m4 0h1m2 0h1m3 0h3m6 0h2m5 0h1m7 0h1m31 0h1m10 0h2m3 0h2m2 0h1m33 0h1m19 0h1m-144 1h1m2 0h1m1 0h1m5 0h1m7 0h1m2 0h1m2 0h1m4 0h1m9 0h1m1 0h1m11 0h1m3 0h1m2 0h1m6 0h1m3 0h1m3 0h1m6 0h1m2 0h1m7 0h1m-82 1h1m18 0h2m15 0h1m7 0h1m5 0h1m8 0h1m7 0h1m8 0h1m2 0h1m6 0h1m-101 1h1m8 0h1m6 0h1m5 0h1m1 0h1m9 0h1m1 0h2m3 0h2m2 0h1m1 0h1m14 0h1m3 0h1m4 0h1m1 0h1m7 0h1m6 0h2m3 0h1m4 0h1m1 0h1m23 0h1m9 0h1m-140 1h1m21 0h1m10 0h1m6 0h2m3 0h2m2 0h1m19 0h1m2 0h1m6 0h1m2 0h1m9 0h1m7 0h1m4 0h1m3 0h1m5 0h1m3 0h1m-121 1h1m13 0h1m11 0h1m6 0h1m1 0h1m23 0h3m16 0h1m3 0h1m8 0h1m7 0h1m4 0h1m7 0h1m32 0h1m-140 1h1m1 0h1m7 0h1m6 0h1m13 0h2m4 0h1m8 0h1m4 0h1m6 0h1m4 0h1m20 0h2m1 0h1m2 0h2m2 0h2m18 0h1m4 0h1m24 0h1m-151 1h1m7 0h2m20 0h1m6 0h1m5 0h1m3 0h1m7 0h1m11 0h1m3 0h2m8 0h2m5 0h1m15 0h1m13 0h1m16 0h1m-125 1h1m18 0h1m3 0h1m10 0h1m1 0h1m16 0h1m3 0h1m12 0h1m4 0h1m2 0h1m8 0h1m5 0h1m9 0h1m5 0h1m-112 1h1m12 0h1m37 0h1m3 0h2m7 0h1m26 0h1m9 0h1m3 0h1m-109 1h1m3 0h1m1 0h1m2 0h1m3 0h1m3 0h2m2 0h1m3 0h1m2 0h1m1 0h1m4 0h1m4 0h1m6 0h1m4 0h1m6 0h1m2 0h2m12 0h2m5 0h1m3 0h1m2 0h1m2 0h1m10 0h1m3 0h1m30 0h1m-140 1h1m17 0h2m2 0h2m8 0h1m1 0h2m2 0h1m9 0h1m5 0h1m9 0h1m2 0h1m6 0h1m6 0h1m4 0h1m1 0h2m4 0h1m3 0h1m7 0h1m17 0h1m4 0h1m-134 1h1m4 0h1m3 0h1m23 0h1m9 0h1m18 0h1m3 0h1m1 0h1m3 0h1m3 0h1m4 0h1m7 0h1m3 0h1m2 0h1m21 0h1m-119 1h1m8 0h1m7 0h1m7 0h1m13 0h2m33 0h1m4 0h1m10 0h1m5 0h3m34 0h1m14 0h1m-144 1h1m3 0h1m4 0h1m1 0h1m2 0h1m3 0h1m1 0h1m21 0h2m3 0h1m1 0h1m8 0h1m5 0h3m2 0h1m3 0h1m1 0h1m6 0h1m28 0h1m-118 1h1m10 0h3m8 0h1m15 0h1m35 0h1m6 0h2m6 0h1m3 0h1m2 0h2m9 0h1m21 0h1m4 0h1m-134 1h1m6 0h1m3 0h1m5 0h1m9 0h1m1 0h2m4 0h1m11 0h1m6 0h1m3 0h1m1 0h1m9 0h1m16 0h1m8 0h1m11 0h1m9 0h1m-120 1h1m7 0h1m10 0h1m1 0h1m19 0h1m16 0h1m10 0h1m1 0h1m1 0h1m1 0h1m4 0h2m9 0h1m3 0h1m6 0h1m8 0h1m5 0h1m6 0h1m14 0h1m4 0h1m-144 1h1m2 0h1m2 0h1m7 0h1m26 0h1m3 0h1m2 0h1m5 0h2m6 0h1m3 0h1m8 0h1m5 0h1m1 0h3m12 0h1m4 0h1m8 0h1m3 0h1m26 0h1m-132 1h1m2 0h1m17 0h2m5 0h1m6 0h2m2 0h1m1 0h1m1 0h2m3 0h1m3 0h1m11 0h1m2 0h2m13 0h1m5 0h1m5 0h1m11 0h1m14 0h1m4 0h1m-137 1h1m8 0h1m9 0h1m8 0h1m11 0h2m7 0h1m10 0h2m12 0h1m15 0h1m8 0h1m1 0h1m24 0h1m9 0h1m-138 1h1m7 0h1m5 0h1m6 0h1m7 0h1m3 0h1m53 0h1m4 0h1m1 0h1m3 0h2m11 0h1m30 0h1m-141 1h2m5 0h1m6 0h1m4 0h1m12 0h1m2 0h1m9 0h1m15 0h1m11 0h1m13 0h1m9 0h2m2 0h1m9 0h1m3 0h1m9 0h1m-123 1h1m3 0h1m5 0h1m6 0h1m4 0h1m5 0h1m11 0h1m12 0h1m7 0h2m2 0h1m10 0h1m6 0h1m6 0h1m26 0h1m-123 1h1m1 0h1m6 0h1m10 0h1m1 0h2m15 0h1m32 0h1m19 0h1m6 0h1m27 0h1m-128 1h1m2 0h1m3 0h1m2 0h1m16 0h1m12 0h1m3 0h1m8 0h1m9 0h1m18 0h1m4 0h1m2 0h1m4 0h1m1 0h2m3 0h1m-106 1h1m5 0h2m12 0h1m2 0h1m8 0h1m6 0h1m1 0h1m1 0h2m1 0h1m2 0h1m12 0h2m2 0h1m1 0h1m2 0h1m1 0h1m9 0h1m2 0h2m3 0h1m4 0h2m4 0h1m-102 1h1m11 0h1m2 0h1m28 0h1m10 0h1m7 0h1m8 0h1m1 0h1m1 0h1m10 0h2m7 0h1m8 0h1m1 0h1m41 0h1m-143 1h1m4 0h1m4 0h1m1 0h1m2 0h1m2 0h2m3 0h1m11 0h1m5 0h1m1 0h1m2 0h1m12 0h1m9 0h1m12 0h1m1 0h1m5 0h1m36 0h1m4 0h1m-137 1h1m2 0h1m2 0h1m1 0h1m3 0h1m7 0h1m15 0h2m6 0h1m6 0h1m3 0h1m11 0h1m5 0h2m8 0h1m3 0h1m1 0h2m50 0h1m-143 1h1m1 0h2m4 0h1m2 0h1m13 0h1m13 0h1m1 0h1m4 0h1m19 0h1m17 0h1m11 0h2m9 0h1m3 0h1m1 0h1m3 0h1m29 0h1m-131 1h2m5 0h1m7 0h1m6 0h2m2 0h1m10 0h1m1 0h1m5 0h1m5 0h1m1 0h2m7 0h1m7 0h1m8 0h2m4 0h1m19 0h1m-124 1h1m5 0h1m2 0h1m3 0h1m3 0h1m2 0h1m1 0h1m11 0h1m3 0h2m1 0h1m2 0h1m2 0h2m2 0h1m1 0h1m7 0h1m1 0h1m25 0h1m12 0h1m11 0h1m8 0h1m9 0h1m-130 1h1m8 0h1m12 0h2m1 0h1m21 0h1m16 0h1m3 0h1m16 0h1m6 0h1m3 0h1m2 0h2m-85 1h1m6 0h1m12 0h1m9 0h1m6 0h1m9 0h1m4 0h1m13 0h1m2 0h1m18 0h1m1 0h1m-111 1h1m13 0h1m3 0h1m3 0h1m18 0h1m20 0h1m2 0h1m3 0h2m10 0h1m2 0h2m4 0h1m1 0h1m23 0h1m21 0h1m-129 1h1m17 0h1m5 0h1m10 0h1m2 0h2m31 0h1m3 0h1m7 0h1m6 0h1m11 0h1m-114 1h1m3 0h1m2 0h1m20 0h1m11 0h2m4 0h1m3 0h1m9 0h1m4 0h1m4 0h1m5 0h1m6 0h1m9 0h1m2 0h2m2 0h1m2 0h1m40 0h1m-146 1h1m4 0h1m12 0h1m5 0h1m4 0h1m1 0h1m1 0h1m12 0h1m1 0h1m6 0h1m29 0h3m1 0h1m10 0h1m5 0h1m-100 1h2m5 0h2m3 0h1m4 0h1m4 0h1m13 0h1m4 0h1m1 0h1m9 0h1m5 0h2m19 0h1m9 0h1m3 0h1m2 0h1m5 0h1m9 0h1m-118 1h1m9 0h1m4 0h1m4 0h2m2 0h1m19 0h1m12 0h2m2 0h1m2 0h1m3 0h1m2 0h1m8 0h1m2 0h1m27 0h1m5 0h1m-115 1h1m1 0h1m3 0h1m3 0h1m11 0h1m10 0h1m10 0h1m13 0h2m1 0h1m5 0h1m4 0h1m7 0h1m1 0h1m2 0h1m12 0h1m20 0h1m-126 1h1m5 0h1m12 0h1m10 0h1m25 0h1m6 0h1m1 0h2m2 0h1m12 0h1m1 0h1m5 0h1m3 0h1m7 0h2m1 0h1m2 0h1m9 0h1m6 0h1m-116 1h1m3 0h1m12 0h2m5 0h2m5 0h1m5 0h1m1 0h2m2 0h1m18 0h2m2 0h1m11 0h1m2 0h1m3 0h1m16 0h1m-113 1h1m25 0h1m3 0h3m1 0h1m1 0h1m9 0h1m29 0h2m20 0h2m4 0h1m7 0h1m1 0h1m20 0h1m-134 1h1m15 0h2m13 0h1m14 0h1m1 0h1m3 0h2m8 0h1m6 0h1m8 0h1m1 0h1m4 0h1m2 0h1m12 0h1m1 0h1m39 0h1m-139 1h2m10 0h1m10 0h1m16 0h1m7 0h1m11 0h1m3 0h1m2 0h1m4 0h1m3 0h1m12 0h1m4 0h1m1 0h1m14 0h1m6 0h1m-117 1h1m2 0h1m1 0h1m14 0h1m6 0h1m5 0h1m1 0h1m5 0h2m3 0h1m39 0h1m16 0h1m22 0h1m14 0h1m-146 1h1m2 0h1m18 0h1m11 0h1m3 0h1m2 0h1m5 0h1m4 0h1m5 0h2m9 0h1m5 0h2m7 0h1m18 0h1m9 0h1m21 0h1m9 0h1m-148 1h1m11 0h2m19 0h2m28 0h2m9 0h1m2 0h2m1 0h1m46 0h1m-129 1h1m14 0h1m2 0h3m3 0h2m7 0h1m11 0h1m2 0h1m1 0h1m8 0h1m7 0h1m6 0h1m2 0h1m5 0h1m13 0h2m-101 1h1m6 0h2m4 0h1m6 0h1m1 0h1m1 0h1m2 0h1m1 0h1m3 0h1m8 0h1m14 0h1m4 0h1m6 0h1m5 0h1m3 0h1m4 0h3m17 0h2m39 0h1m-145 1h1m3 0h1m1 0h2m1 0h1m3 0h2m1 0h1m5 0h1m4 0h2m1 0h1m8 0h1m4 0h1m6 0h1m7 0h1m3 0h2m5 0h1m1 0h1m1 0h1m27 0h1m8 0h1m22 0h1m-133 1h1m2 0h1m13 0h1m20 0h1m2 0h1m7 0h1m2 0h2m2 0h1m8 0h2m6 0h1m3 0h1m4 0h1m13 0h1m4 0h1m9 0h1m25 0h1m-140 1h1m6 0h1m8 0h1m3 0h1m21 0h1m3 0h1m7 0h2m13 0h2m12 0h2m3 0h1m4 0h1m4 0h1m1 0h1m14 0h1m-108 1h1m2 0h1m2 0h1m18 0h1m1 0h1m3 0h1m5 0h1m23 0h1m4 0h1m2 0h1m2 0h1m3 0h1m11 0h1m14 0h1m12 0h1m24 0h1m-136 1h1m24 0h1m2 0h2m6 0h1m5 0h1m19 0h1m3 0h4m1 0h1m4 0h2m7 0h1m9 0h1m9 0h1m29 0h1m-138 1h1m1 0h1m14 0h4m9 0h1m3 0h1m2 0h1m7 0h3m17 0h2m19 0h1m10 0h1m-105 1h1m14 0h1m5 0h1m4 0h1m5 0h2m14 0h1m17 0h1m5 0h1m8 0h1m5 0h1m1 0h1m18 0h1m10 0h1m-86 1h1m10 0h1m10 0h1m4 0h1m8 0h2m25 0h3m6 0h1m-110 1h1m6 0h1m5 0h1m2 0h1m12 0h1m3 0h1m4 0h1m15 0h1m6 0h4m1 0h1m3 0h1m1 0h2m8 0h4m17 0h1m5 0h1m-113 1h1m10 0h1m1 0h1m1 0h1m17 0h2m9 0h1m7 0h1m12 0h1m8 0h1m4 0h2m2 0h1m7 0h1m2 0h2m3 0h1m5 0h1m6 0h1m3 0h1m-115 1h1m3 0h1m9 0h1m3 0h1m6 0h1m16 0h2m17 0h1m7 0h1m14 0h1m7 0h1m4 0h1m30 0h1m9 0h1m-138 1h1m2 0h1m4 0h1m15 0h1m20 0h1m2 0h3m5 0h1m9 0h1m3 0h2m4 0h2m12 0h1m4 0h1m-87 1h1m2 0h2m2 0h1m15 0h1m2 0h2m2 0h1m1 0h2m8 0h1m2 0h1m1 0h2m16 0h1m22 0h1m39 0h1m-124 1h1m2 0h1m12 0h1m35 0h1m3 0h1m19 0h1m2 0h1m7 0h1m11 0h1m-90 1h1m17 0h1m5 0h1m16 0h1m1 0h1m1 0h1m1 0h1m1 0h1m1 0h1m3 0h1m3 0h1m2 0h1m12 0h1m3 0h1m9 0h1m18 0h1m14 0h1m-151 1h1m14 0h1m12 0h1m2 0h1m15 0h1m3 0h1m3 0h1m3 0h1m1 0h1m1 0h1m6 0h1m18 0h1m6 0h1m5 0h1m2 0h1m19 0h1m4 0h1m9 0h1m4 0h1m-140 1h1m4 0h1m6 0h2m1 0h1m20 0h1m22 0h1m7 0h1m5 0h1m8 0h1m2 0h2m1 0h1m9 0h1m1 0h1m7 0h1m25 0h1m-140 1h1m3 0h2m8 0h1m3 0h1m3 0h1m6 0h1m1 0h1m6 0h1m2 0h2m3 0h1m12 0h1m3 0h1m1 0h1m20 0h1m2 0h1m27 0h1m-112 1h1m15 0h1m9 0h1m4 0h1m4 0h1m5 0h1m3 0h1m23 0h1m6 0h1m6 0h1m1 0h1m-83 1h1m12 0h1m1 0h1m14 0h1m2 0h1m5 0h1m21 0h1m3 0h1m17 0h1m6 0h1m1 0h1m36 0h1m9 0h1m-141 1h1m6 0h1m2 0h1m3 0h1m2 0h2m1 0h1m2 0h1m3 0h2m5 0h3m8 0h1m6 0h1m9 0h1m1 0h1m5 0h1m5 0h2m4 0h1m2 0h2m17 0h1m1 0h1m-117 1h1m4 0h2m2 0h1m1 0h1m3 0h1m2 0h1m16 0h1m5 0h1m7 0h2m10 0h1m10 0h1m1 0h1m7 0h2m9 0h1m9 0h1m8 0h1m32 0h1m4 0h1m-150 1h1m8 0h1m2 0h1m12 0h1m5 0h1m1 0h1m1 0h1m13 0h1m2 0h1m17 0h1m11 0h1m12 0h1m-93 1h1m5 0h2m4 0h1m6 0h1m19 0h2m2 0h1m4 0h1m9 0h1m12 0h1m1 0h1m2 0h1m10 0h1m8 0h1m-95 1h1m8 0h1m6 0h1m14 0h1m8 0h2m1 0h2m15 0h1m18 0h1m22 0h1m21 0h1m-122 1h1m12 0h2m13 0h1m10 0h1m26 0h2m2 0h1m2 0h1m1 0h1m5 0h1m2 0h1m10 0h1m1 0h1m3 0h1m14 0h1m24 0h1m-143 1h1m4 0h1m3 0h1m7 0h1m18 0h1m2 0h2m3 0h1m5 0h2m2 0h1m2 0h1m12 0h1m3 0h1m6 0h1m2 0h1m1 0h1m1 0h1m3 0h1m1 0h1m11 0h1m5 0h1m-120 1h1m9 0h1m7 0h1m11 0h1m10 0h1m2 0h2m1 0h2m7 0h1m1 0h1m9 0h1m2 0h1m11 0h2m4 0h1m5 0h1m1 0h1m1 0h1m1 0h1m-87 1h1m16 0h1m1 0h1m13 0h1m5 0h1m17 0h1m1 0h1m2 0h1m5 0h1m10 0h1m3 0h1m18 0h1m31 0h1m-148 1h1m17 0h1m2 0h1m8 0h2m18 0h1m5 0h1m4 0h2m11 0h1m1 0h1m3 0h1m5 0h1m18 0h1m3 0h1m12 0h1m-121 1h1m1 0h1m5 0h1m8 0h1m2 0h1m17 0h1m4 0h2m10 0h1m2 0h1m5 0h1m29 0h1m30 0h1m-122 1h2m18 0h1m7 0h1m3 0h1m1 0h1m4 0h1m14 0h1m6 0h1m13 0h1m6 0h1m2 0h2m3 0h1m3 0h1m26 0h1m-131 1h1m8 0h1m1 0h1m3 0h1m11 0h1m38 0h1m2 0h1m5 0h1m7 0h2m1 0h1m7 0h1m3 0h1m7 0h1m1 0h1m9 0h1m-116 1h2m7 0h1m7 0h2m12 0h1m3 0h1m9 0h1m6 0h1m21 0h1m17 0h1m2 0h2m2 0h1m37 0h1m4 0h1m-140 1h1m4 0h1m5 0h1m15 0h1m4 0h1m2 0h1m1 0h2m3 0h1m1 0h1m5 0h1m1 0h1m4 0h1m6 0h1m1 0h2m5 0h1m2 0h1m18 0h1m8 0h1m3 0h1m35 0h1m-150 1h1m12 0h1m12 0h1m3 0h1m1 0h2m5 0h1m2 0h1m25 0h1m2 0h1m1 0h1m5 0h1m5 0h1m7 0h1m3 0h2m16 0h1m-117 1h2m5 0h1m5 0h1m1 0h2m6 0h1m1 0h1m10 0h1m51 0h1m8 0h1m5 0h2m3 0h1m1 0h1m1 0h1m3 0h1m-113 1h1m4 0h1m7 0h1m1 0h1m5 0h1m3 0h1m6 0h1m6 0h1m1 0h1m4 0h1m15 0h1m1 0h1m9 0h1m3 0h1m2 0h1m5 0h1m18 0h1m1 0h1m5 0h1m1 0h1m9 0h1m-127 1h1m5 0h1m3 0h1m11 0h2m3 0h1m12 0h2m5 0h1m8 0h1m8 0h1m5 0h2m17 0h1m7 0h2m1 0h1m34 0h1m9 0h1m-150 1h1m12 0h2m1 0h1m6 0h1m12 0h1m1 0h1m11 0h1m2 0h1m5 0h1m7 0h1m2 0h1m4 0h1m3 0h2m4 0h1m18 0h1m24 0h1m-114 1h1m7 0h1m7 0h1m8 0h1m2 0h2m8 0h1m2 0h1m9 0h1m28 0h1m8 0h1m-106 1h2m4 0h1m2 0h1m10 0h1m1 0h1m2 0h1m6 0h1m8 0h2m5 0h1m10 0h1m8 0h1m5 0h1m1 0h1m2 0h1m6 0h1m9 0h1m6 0h1m7 0h1m-101 1h1m13 0h1m16 0h1m12 0h2m8 0h1m2 0h3m5 0h1m12 0h1m6 0h1m20 0h1m16 0h1m4 0h1m9 0h1m-149 1h1m2 0h1m1 0h1m3 0h1m7 0h1m7 0h1m12 0h1m6 0h1m1 0h1m1 0h1m6 0h1m15 0h1m14 0h1m2 0h1m2 0h1m3 0h1m2 0h1m2 0h1m2 0h1m1 0h1m3 0h1m5 0h1m4 0h1m19 0h1m4 0h1m-146 1h1m12 0h2m2 0h1m3 0h1m3 0h1m9 0h1m20 0h2m9 0h1m6 0h1m5 0h1m7 0h1m2 0h1m3 0h2m2 0h1m-105 1h1m6 0h1m1 0h1m12 0h1m1 0h2m11 0h1m14 0h1m5 0h1m12 0h1m13 0h1m1 0h1m7 0h1m3 0h1m45 0h1m-137 1h1m5 0h1m1 0h1m6 0h1m6 0h1m4 0h1m3 0h1m4 0h1m1 0h1m13 0h1m12 0h1m24 0h2m15 0h1m33 0h1m-134 1h1m3 0h1m4 0h1m11 0h1m14 0h1m3 0h1m22 0h1m16 0h2m3 0h1m9 0h1m32 0h1m4 0h1m-147 1h1m16 0h1m12 0h1m21 0h2m6 0h1m8 0h3m9 0h1m7 0h1m9 0h1m10 0h1m-99 1h1m2 0h1m2 0h1m4 0h1m11 0h1m1 0h1m7 0h2m13 0h1m7 0h1m15 0h1m4 0h1m2 0h1m7 0h1m-104 1h2m2 0h1m5 0h1m24 0h1m9 0h1m11 0h2m4 0h1m6 0h1m1 0h1m16 0h2m11 0h1m31 0h1m9 0h1m-140 1h1m10 0h1m18 0h1m3 0h1m14 0h3m3 0h1m7 0h1m17 0h1m9 0h1m1 0h2m7 0h1m9 0h1m1 0h1m19 0h1m9 0h1m-142 1h1m14 0h1m10 0h1m4 0h1m8 0h1m2 0h1m1 0h1m3 0h1m21 0h1m27 0h1m7 0h1m8 0h1m4 0h1m-130 1h1m3 0h1m23 0h2m2 0h1m4 0h1m6 0h1m33 0h1m2 0h2m20 0h1m1 0h1m5 0h1m37 0h1m-137 1h1m1 0h1m6 0h1m9 0h1m6 0h1m20 0h2m15 0h1m2 0h2m7 0h1m1 0h1m8 0h1m3 0h2m13 0h1m-119 1h3m2 0h1m5 0h1m1 0h1m9 0h1m7 0h1m3 0h1m8 0h1m5 0h1m9 0h1m34 0h1m1 0h1m12 0h1m1 0h1m3 0h1m1 0h1m-118 1h1m3 0h1m22 0h1m3 0h1m7 0h1m28 0h1m8 0h1m4 0h1m2 0h1m7 0h1m4 0h1m6 0h1m5 0h1m3 0h1m1 0h1m24 0h1m-144 1h1m3 0h1m12 0h1m6 0h1m4 0h1m1 0h1m11 0h1m22 0h1m6 0h1m2 0h1m4 0h1m1 0h1m1 0h1m5 0h1m2 0h1m28 0h1m14 0h1m9 0h1m-149 1h1m1 0h1m4 0h1m2 0h1m6 0h3m2 0h1m7 0h1m14 0h1m4 0h1m13 0h2m7 0h1m6 0h1m1 0h1m1 0h2m18 0h1m1 0h1m21 0h1m-130 1h1m9 0h1m1 0h1m7 0h1m8 0h1m1 0h1m6 0h1m8 0h1m4 0h1m7 0h1m4 0h1m27 0h1m4 0h1m18 0h1m-116 1h1m1 0h1m18 0h1m1 0h1m6 0h1m9 0h1m5 0h3m5 0h1m4 0h1m13 0h1m3 0h3m3 0h1m4 0h1m2 0h1m5 0h1m11 0h1m17 0h1m-131 1h1m4 0h1m2 0h2m10 0h1m20 0h1m4 0h1m2 0h2m9 0h1m3 0h1m12 0h1m30 0h1m41 0h1m-151 1h2m1 0h1m6 0h1m15 0h1m13 0h1m14 0h2m2 0h1m4 0h1m9 0h1m1 0h1m7 0h1m8 0h1m3 0h2m1 0h2m38 0h1m-136 1h1m6 0h1m6 0h1m6 0h1m11 0h1m5 0h1m1 0h1m6 0h1m12 0h1m1 0h1m2 0h2m13 0h1m2 0h1m9 0h1m2 0h1m2 0h1m39 0h1m-146 1h1m28 0h1m4 0h1m21 0h1m4 0h1m2 0h3m10 0h1m72 0h1m-145 1h1m12 0h1m4 0h1m16 0h1m3 0h1m14 0h1m6 0h1m5 0h1m4 0h1m2 0h1m3 0h2m53 0h1m-140 1h1m3 0h1m4 0h1m7 0h1m5 0h1m4 0h1m2 0h1m10 0h1m5 0h1m15 0h2m1 0h1m12 0h1m2 0h1m21 0h1m1 0h1m7 0h1m8 0h1m14 0h1m-124 1h1m4 0h1m1 0h1m25 0h1m8 0h1m14 0h1m1 0h1m2 0h1m11 0h1m10 0h1m2 0h1m2 0h1m36 0h1m-145 1h1m1 0h1m4 0h1m13 0h1m2 0h1m9 0h1m1 0h2m2 0h1m8 0h1m7 0h1m1 0h1m16 0h1m1 0h1m4 0h1m5 0h1m3 0h1m1 0h1m23 0h1m-119 1h1m6 0h1m19 0h1m9 0h1m1 0h1m1 0h1m3 0h2m6 0h1m7 0h2m5 0h1m1 0h2m5 0h2m3 0h1m2 0h1m4 0h1m1 0h1m11 0h1m5 0h1m-106 1h1m1 0h1m3 0h1m3 0h1m18 0h1m11 0h1m6 0h1m1 0h2m8 0h1m12 0h1m2 0h2m4 0h1m9 0h1m3 0h2m5 0h1m3 0h1m30 0h1m-146 1h1m8 0h1m2 0h1m2 0h1m4 0h1m1 0h1m2 0h1m11 0h1m4 0h1m8 0h1m11 0h1m9 0h1m1 0h1m8 0h1m3 0h1m11 0h1m3 0h1m30 0h1m-118 1h1m10 0h2m6 0h1m2 0h1m9 0h1m2 0h1m1 0h1m1 0h1m12 0h1m4 0h1m11 0h2m6 0h2m1 0h1m4 0h1m8 0h1m27 0h1m-140 1h2m12 0h1m12 0h1m7 0h1m22 0h1m3 0h1m1 0h1m13 0h1m1 0h1m5 0h1m8 0h2m4 0h1m-86 1h1m1 0h1m2 0h1m20 0h2m2 0h1m2 0h1m12 0h2m6 0h1m8 0h2m5 0h1m13 0h1m18 0h1m19 0h1m-133 1h1m15 0h1m5 0h2m6 0h1m7 0h1m6 0h1m6 0h1m8 0h1m4 0h1m10 0h1m6 0h1m1 0h1m4 0h1m1 0h1m2 0h1m5 0h1m3 0h1m3 0h1m21 0h1m4 0h1m-134 1h1m3 0h1m2 0h1m10 0h2m9 0h1m35 0h2m13 0h1m2 0h1m6 0h1m15 0h1m6 0h1m-123 1h1m15 0h1m1 0h1m12 0h1m2 0h1m2 0h2m15 0h1m6 0h1m5 0h1m3 0h2m2 0h1m25 0h1m5 0h1m9 0h1m-121 1h1m2 0h1m3 0h1m1 0h1m8 0h1m1 0h1m10 0h1m14 0h1m25 0h1m4 0h1m1 0h1m3 0h1m3 0h1m3 0h1m20 0h1m7 0h1m14 0h1m14 0h1m-137 1h1m15 0h1m5 0h1m5 0h1m2 0h1m6 0h1m2 0h1m10 0h1m3 0h1m5 0h1m3 0h1m5 0h1m7 0h1m8 0h2m15 0h1m4 0h1m14 0h1m-139 1h1m4 0h1m8 0h1m22 0h2m11 0h2m5 0h1m9 0h2m2 0h2m9 0h1m13 0h1m4 0h2m-103 1h1m5 0h1m18 0h1m3 0h2m2 0h1m17 0h1m18 0h1m2 0h1m13 0h1m2 0h2m3 0h1m12 0h1m34 0h1m-140 1h1m2 0h1m2 0h2m25 0h1m7 0h1m2 0h1m9 0h1m1 0h1m5 0h1m6 0h1m7 0h1m6 0h1m19 0h1m-110 1h1m3 0h1m19 0h1m6 0h2m1 0h1m13 0h1m2 0h1m2 0h1m7 0h1m17 0h1m11 0h2m4 0h1m-100 1h1m1 0h1m1 0h1m2 0h1m25 0h1m2 0h1m9 0h2m8 0h1m8 0h2m3 0h1m1 0h2m6 0h1m3 0h1m4 0h1m6 0h2m8 0h1m7 0h1m35 0h1m-150 1h1m9 0h1m7 0h1m3 0h1m9 0h1m15 0h1m3 0h1m4 0h1m16 0h1m2 0h1m26 0h1m19 0h1m-110 1h1m1 0h1m7 0h2m1 0h1m4 0h1m14 0h1m6 0h1m7 0h1m4 0h1m1 0h1m1 0h1m10 0h2m2 0h1m25 0h1m5 0h1m-118 1h1m4 0h1m3 0h1m6 0h1m1 0h1m9 0h1m4 0h1m5 0h2m3 0h1m7 0h2m3 0h1m12 0h1m5 0h1m7 0h1m3 0h1m24 0h1m13 0h1m-125 1h1m1 0h1m3 0h1m2 0h1m8 0h1m7 0h1m5 0h1m3 0h1m8 0h1m6 0h2m19 0h1m5 0h1m6 0h1m19 0h1m3 0h1m-114 1h1m8 0h1m2 0h1m11 0h1m2 0h3m7 0h1m11 0h1m2 0h1m3 0h1m6 0h1m4 0h1m7 0h2m1 0h1m13 0h1m6 0h1m4 0h1m16 0h1m-119 1h2m4 0h1m38 0h2m9 0h1m2 0h1m1 0h1m4 0h1m9 0h1m7 0h1m7 0h1m16 0h1m28 0h1m4 0h1m-146 1h1m10 0h2m4 0h1m8 0h2m5 0h1m10 0h1m7 0h1m9 0h1m4 0h1m5 0h2m6 0h2m5 0h1m3 0h1m7 0h1m34 0h1m-128 1h1m3 0h1m9 0h2m3 0h1m10 0h1m11 0h1m7 0h1m10 0h2m1 0h1m3 0h1m11 0h1m1 0h1m16 0h1m17 0h1m14 0h1m-141 1h1m1 0h1m1 0h1m7 0h1m4 0h1m39 0h1m9 0h2m8 0h1m1 0h1m11 0h1m4 0h1m10 0h1m5 0h1m31 0h1m-131 1h1m7 0h1m24 0h2m1 0h1m1 0h1m13 0h1m11 0h1m6 0h1m5 0h1m52 0h1m-151 1h1m5 0h1m4 0h1m5 0h1m15 0h1m1 0h1m3 0h1m14 0h1m17 0h1m9 0h1m5 0h1m10 0h1m8 0h1m3 0h1m5 0h1m-116 1h1m1 0h1m1 0h2m16 0h1m4 0h1m11 0h1m3 0h1m4 0h2m16 0h1m2 0h1m2 0h1m3 0h1m2 0h1m16 0h1m1 0h1m1 0h2m9 0h1m5 0h1m14 0h1m4 0h1m-141 1h1m1 0h1m5 0h1m2 0h1m3 0h1m1 0h1m5 0h1m6 0h1m6 0h1m12 0h1m2 0h2m8 0h1m16 0h1m2 0h1m2 0h2m1 0h1m11 0h1m-86 1h1m4 0h1m6 0h1m2 0h1m4 0h1m1 0h2m13 0h1m1 0h1m10 0h1m2 0h1m22 0h1m11 0h1m9 0h1m-96 1h1m2 0h1m6 0h1m1 0h1m5 0h1m26 0h1m2 0h1m11 0h1m2 0h2m2 0h1m12 0h1m12 0h1m7 0h1m-103 1h1m1 0h1m12 0h1m12 0h1m11 0h1m10 0h2m3 0h1m1 0h1m11 0h2m3 0h1m4 0h1"/>
<path stroke="#481a6c" d="M130 14.5h1m-1 4h1m-10 1h1m-15 3h1m32 2h1m-110 1h1m87 0h1m10 0h1m4 0h1m9 0h1m-1 1h1m-33 1h1m7 0h1m-91 1h1m85 0h1m37 0h1m-145 1h2m3 0h1m2 0h1m2 0h1m13 0h1m14 0h1m18 0h1m35 0h1m3 0h1m4 0h1m1 0h1m5 0h1m-110 1h1m43 0h1m36 0h1m14 0h1m8 0h1m3 0h1m-102 1h1m18 0h1m4 0h1m45 0h1m7 0h1m5 0h1m6 0h1m3 0h1m1 0h1m-99 1h1m4 0h1m15 0h1m2 0h1m3 0h1m17 0h1m14 0h1m12 0h1m2 0h1m1 0h1m5 0h2m5 0h1m1 0h1m7 0h1m1 0h1m9 0h1m9 0h1m-131 1h1m4 0h1m23 0h1m38 0h1m7 0h1m2 0h1m3 0h1m3 0h1m52 0h1m-132 1h1m32 0h2m7 0h1m4 0h1m5 0h1m4 0h1m8 0h1m6 0h2m4 0h1m3 0h1m10 0h1m3 0h1m-110 1h1m4 0h1m7 0h1m1 0h1m5 0h1m6 0h2m1 0h1m1 0h1m3 0h1m1 0h1m2 0h1m1 0h1m6 0h1m4 0h1m1 0h1m6 0h1m1 0h1m4 0h1m5 0h1m3 0h1m1 0h1m5 0h1m2 0h1m15 0h1m-110 1h1m10 0h1m3 0h1m1 0h1m3 0h1m5 0h1m10 0h1m3 0h1m11 0h1m13 0h1m1 0h1m6 0h1m27 0h1m1 0h1m8 0h1m-122 1h1m1 0h1m10 0h1m12 0h3m6 0h1m4 0h2m2 0h1m9 0h2m10 0h1m3 0h1m6 0h1m2 0h1m11 0h1m13 0h1m29 0h1m-136 1h1m5 0h1m1 0h1m1 0h1m17 0h1m1 0h1m14 0h1m1 0h1m7 0h2m16 0h1m6 0h1m3 0h1m26 0h1m-107 1h1m14 0h1m3 0h1m10 0h1m15 0h1m14 0h1m6 0h1m5 0h1m12 0h3m6 0h1m1 0h1m1 0h1m34 0h1m-138 1h2m11 0h2m8 0h1m1 0h1m4 0h1m8 0h1m1 0h1m6 0h1m2 0h1m4 0h1m1 0h1m3 0h1m6 0h2m19 0h1m5 0h1m7 0h1m17 0h1m19 0h1m-139 1h1m4 0h1m4 0h1m26 0h1m10 0h1m2 0h2m11 0h1m3 0h1m4 0h1m3 0h1m4 0h1m9 0h1m5 0h1m9 0h1m14 0h1m14 0h1m-141 1h1m4 0h1m1 0h1m30 0h2m14 0h1m16 0h1m3 0h1m1 0h2m3 0h1m4 0h1m-96 1h1m43 0h1m5 0h2m5 0h1m7 0h1m15 0h1m11 0h1m20 0h1m13 0h1m-131 1h1m9 0h1m3 0h2m18 0h1m16 0h1m9 0h1m2 0h1m6 0h2m2 0h2m3 0h1m4 0h1m7 0h1m1 0h1m7 0h1m36 0h1m-139 1h1m33 0h1m12 0h1m14 0h1m4 0h1m4 0h3m15 0h1m-69 1h1m16 0h1m2 0h1m4 0h1m4 0h1m14 0h2m22 0h1m56 0h1m-150 1h1m17 0h1m19 0h1m12 0h1m6 0h1m4 0h1m10 0h1m8 0h1m8 0h1m8 0h1m22 0h1m-121 1h1m1 0h1m1 0h1m1 0h1m2 0h1m33 0h1m1 0h1m20 0h1m9 0h1m16 0h1m2 0h1m14 0h1m18 0h1m-119 1h2m1 0h1m1 0h1m24 0h1m1 0h1m4 0h1m6 0h1m3 0h1m8 0h1m3 0h1m6 0h1m13 0h1m1 0h1m1 0h1m21 0h1m-124 1h1m21 0h2m1 0h1m9 0h1m19 0h2m10 0h1m12 0h1m1 0h1m5 0h1m-91 1h1m6 0h1m15 0h1m3 0h2m17 0h1m10 0h1m3 0h1m15 0h1m4 0h1m1 0h1m33 0h1m11 0h1m-130 1h1m33 0h1m4 0h2m4 0h1m5 0h1m3 0h1m3 0h1m4 0h1m16 0h1m8 0h1m33 0h1m-109 1h1m14 0h1m22 0h1m11 0h1m35 0h1m6 0h1m3 0h1m1 0h1m-105 1h1m20 0h1m20 0h1m1 0h1m11 0h1m27 0h1m13 0h1m5 0h1m1 0h1m6 0h1m-110 1h1m3 0h1m34 0h1m12 0h1m3 0h2m3 0h1m3 0h1m7 0h1m4 0h1m45 0h1m-134 1h1m6 0h1m4 0h2m5 0h1m2 0h1m15 0h1m7 0h1m10 0h1m4 0h1m3 0h1m3 0h1m11 0h1m14 0h1m5 0h1m-108 1h1m2 0h1m2 0h1m6 0h1m7 0h1m6 0h1m12 0h1m18 0h1m8 0h1m7 0h2m6 0h1m-89 1h1m6 0h1m27 0h1m9 0h2m4 0h1m7 0h1m1 0h1m3 0h1m7 0h2m4 0h2m18 0h1m50 0h1m-114 1h2m3 0h1m9 0h1m9 0h1m6 0h1m11 0h1m8 0h1m2 0h1m3 0h1m42 0h1m-133 1h1m21 0h1m1 0h2m2 0h1m19 0h3m21 0h1m5 0h1m13 0h1m44 0h1m-144 1h2m5 0h1m21 0h1m4 0h1m2 0h1m2 0h1m107 0h1m-145 1h1m5 0h1m9 0h1m1 0h1m10 0h1m4 0h1m5 0h1m16 0h1m3 0h1m2 0h1m3 0h2m12 0h1m10 0h1m18 0h1m-100 1h1m9 0h1m6 0h1m2 0h1m19 0h2m3 0h1m9 0h1m12 0h1m6 0h1m7 0h1m32 0h1m-126 1h1m2 0h1m2 0h1m1 0h1m12 0h2m8 0h2m8 0h1m1 0h1m5 0h1m3 0h1m3 0h2m9 0h1m1 0h1m6 0h3m7 0h1m2 0h2m23 0h1m19 0h1m-122 1h1m6 0h1m4 0h1m1 0h1m7 0h1m4 0h1m15 0h1m5 0h1m5 0h1m3 0h1m28 0h1m12 0h1m19 0h1m4 0h1m-148 1h1m10 0h1m21 0h1m7 0h1m10 0h1m5 0h1m7 0h1m12 0h1m1 0h1m1 0h1m6 0h1m5 0h1m6 0h1m3 0h1m14 0h1m9 0h1m4 0h1m4 0h1m4 0h1m-151 1h1m12 0h1m2 0h1m2 0h1m3 0h1m20 0h1m3 0h1m11 0h1m5 0h1m23 0h1m5 0h1m2 0h1m8 0h1m9 0h1m-106 1h1m3 0h1m15 0h1m21 0h2m21 0h1m3 0h1m2 0h1m3 0h1m1 0h1m28 0h1m9 0h1m-131 1h1m20 0h1m12 0h2m5 0h1m12 0h1m17 0h2m2 0h1m2 0h1m7 0h1m3 0h1m8 0h1m5 0h1m3 0h1m7 0h1m-113 1h1m7 0h1m28 0h1m2 0h2m2 0h1m6 0h1m4 0h1m1 0h1m3 0h1m10 0h1m9 0h1m2 0h1m3 0h1m33 0h1m19 0h1m-151 1h1m7 0h1m3 0h1m1 0h1m6 0h1m6 0h1m8 0h1m1 0h1m6 0h1m7 0h1m3 0h1m3 0h1m3 0h1m9 0h1m5 0h2m24 0h1m16 0h1m-94 1h1m1 0h1m3 0h1m1 0h1m2 0h1m16 0h1m26 0h1m3 0h1m3 0h1m20 0h1m1 0h1m-113 1h1m14 0h1m2 0h1m1 0h1m11 0h1m7 0h2m9 0h1m1 0h1m11 0h1m5 0h1m4 0h1m62 0h1m-129 1h1m8 0h1m6 0h1m1 0h1m4 0h1m1 0h1m13 0h2m8 0h1m10 0h1m10 0h1m16 0h1m2 0h1m3 0h1m3 0h1m1 0h1m11 0h1m9 0h1m-125 1h1m2 0h1m4 0h2m8 0h1m5 0h1m7 0h1m11 0h1m4 0h1m2 0h1m10 0h1m7 0h1m2 0h1m2 0h1m24 0h1m1 0h1m24 0h1m-129 1h1m15 0h1m5 0h1m1 0h1m5 0h2m1 0h1m5 0h2m3 0h1m25 0h1m4 0h1m7 0h1m13 0h1m20 0h1m-135 1h1m10 0h1m6 0h2m8 0h1m10 0h1m2 0h1m8 0h2m5 0h1m3 0h1m3 0h1m4 0h1m11 0h1m4 0h1m12 0h2m-97 1h1m9 0h2m8 0h1m1 0h1m17 0h1m9 0h1m7 0h1m15 0h1m3 0h1m6 0h2m16 0h1m7 0h1m11 0h1m-120 1h1m8 0h1m5 0h2m17 0h1m10 0h2m8 0h1m2 0h1m15 0h1m12 0h1m4 0h1m2 0h1m-100 1h1m3 0h1m42 0h1m5 0h1m3 0h1m2 0h1m7 0h1m17 0h1m2 0h1m8 0h1m12 0h1m26 0h1m-138 1h1m6 0h1m8 0h2m6 0h1m2 0h1m15 0h1m3 0h1m23 0h1m3 0h1m1 0h1m3 0h1m1 0h1m9 0h1m1 0h1m16 0h1m9 0h1m-113 1h1m17 0h4m1 0h1m7 0h1m5 0h1m20 0h1m10 0h1m7 0h1m5 0h1m16 0h1m11 0h1m-129 1h1m19 0h1m18 0h1m13 0h2m6 0h2m1 0h1m13 0h1m1 0h1m3 0h2m4 0h1m7 0h1m44 0h1m-145 1h1m20 0h1m1 0h1m10 0h2m9 0h1m3 0h1m4 0h1m14 0h1m2 0h1m2 0h1m11 0h1m1 0h1m13 0h1m9 0h1m-110 1h1m9 0h1m14 0h1m9 0h1m12 0h1m19 0h1m11 0h1m1 0h1m13 0h1m6 0h1m7 0h1m-116 1h1m6 0h1m24 0h1m13 0h1m12 0h1m4 0h1m16 0h1m2 0h1m1 0h1m22 0h1m-109 1h1m5 0h1m20 0h1m23 0h1m12 0h1m15 0h1m1 0h1m13 0h1m4 0h2m5 0h1m9 0h1m9 0h1m9 0h1m-139 1h1m14 0h1m2 0h1m4 0h1m15 0h2m9 0h1m4 0h1m9 0h2m15 0h1m31 0h1m23 0h1m4 0h1m-133 1h1m23 0h1m7 0h1m7 0h1m6 0h1m5 0h1m8 0h1m11 0h1m2 0h1m6 0h1m2 0h1m1 0h1m13 0h1m1 0h1m11 0h1m19 0h1m-131 1h1m8 0h1m13 0h1m13 0h1m3 0h1m4 0h1m3 0h1m2 0h1m7 0h2m16 0h1m45 0h1m-130 1h2m38 0h1m5 0h1m19 0h1m1 0h1m4 0h1m3 0h1m3 0h1m2 0h1m2 0h1m12 0h1m-116 1h1m12 0h1m1 0h1m14 0h2m5 0h1m49 0h1m5 0h1m11 0h1m7 0h1m20 0h1m9 0h1m-146 1h2m10 0h1m2 0h1m1 0h1m8 0h1m3 0h1m5 0h1m1 0h2m4 0h1m17 0h1m10 0h1m4 0h1m3 0h1m5 0h2m30 0h1m9 0h1m14 0h1m-141 1h1m3 0h1m14 0h1m21 0h1m20 0h1m6 0h1m6 0h1m14 0h1m2 0h1m10 0h1m3 0h1m15 0h1m-127 1h1m18 0h3m2 0h2m1 0h1m3 0h1m14 0h1m5 0h1m9 0h1m4 0h1m7 0h1m1 0h1m2 0h1m7 0h1m2 0h1m6 0h1m13 0h1m-112 1h1m6 0h1m3 0h1m3 0h1m9 0h1m1 0h1m2 0h2m1 0h1m1 0h1m13 0h1m1 0h1m1 0h1m25 0h2m7 0h1m2 0h1m2 0h1m-100 1h1m3 0h1m11 0h1m3 0h1m2 0h1m2 0h1m10 0h1m27 0h1m10 0h1m2 0h1m8 0h1m6 0h1m9 0h1m14 0h1m-114 1h1m24 0h1m23 0h1m18 0h1m13 0h1m8 0h1m9 0h1m9 0h1m11 0h1m-127 1h1m58 0h1m8 0h1m9 0h1m6 0h1m6 0h3m17 0h1m-106 1h1m8 0h1m1 0h1m7 0h1m7 0h1m6 0h1m1 0h1m18 0h1m2 0h1m3 0h1m2 0h1m2 0h1m2 0h4m32 0h1m6 0h1m-120 1h1m7 0h1m9 0h1m7 0h1m8 0h1m1 0h1m7 0h1m3 0h1m1 0h1m3 0h1m2 0h1m6 0h1m7 0h1m28 0h1m-100 1h1m5 0h1m16 0h1m6 0h1m20 0h1m18 0h1m28 0h1m1 0h1m19 0h1m-131 1h1m13 0h1m28 0h1m6 0h1m15 0h1m21 0h1m9 0h1m41 0h1m-91 1h1m7 0h1m5 0h1m4 0h1m4 0h4m8 0h1m4 0h1m7 0h1m20 0h1m9 0h1m4 0h1m9 0h1m-141 1h1m1 0h1m7 0h1m28 0h1m13 0h1m7 0h1m7 0h1m5 0h1m10 0h1m1 0h1m14 0h1m7 0h1m23 0h1m-119 1h1m7 0h1m11 0h1m30 0h1m10 0h1m25 0h1m14 0h1m24 0h1m-151 1h1m1 0h1m4 0h1m17 0h1m50 0h1m19 0h1m13 0h1m39 0h1m-145 1h1m15 0h1m1 0h1m18 0h1m4 0h1m4 0h1m9 0h1m4 0h1m3 0h1m4 0h1m10 0h1m11 0h1m7 0h1m7 0h1m3 0h1m19 0h1m-118 1h1m11 0h1m8 0h1m14 0h1m3 0h2m3 0h1m13 0h1m4 0h1m5 0h1m2 0h1m2 0h1m4 0h1m-102 1h1m6 0h1m12 0h1m29 0h1m9 0h1m41 0h1m10 0h1m1 0h1m-110 1h1m5 0h1m8 0h1m14 0h1m28 0h1m5 0h1m10 0h1m1 0h1m1 0h1m7 0h1m-92 1h1m5 0h1m2 0h1m4 0h1m1 0h2m8 0h1m13 0h2m3 0h1m5 0h1m4 0h1m1 0h1m8 0h2m5 0h1m24 0h1m-100 1h1m4 0h1m19 0h1m10 0h1m19 0h1m4 0h1m10 0h1m2 0h2m7 0h1m15 0h1m9 0h1m-117 1h1m1 0h1m8 0h1m6 0h1m1 0h1m9 0h2m20 0h1m20 0h1m5 0h1m2 0h1m14 0h1m27 0h1m-115 1h1m14 0h1m5 0h2m3 0h1m8 0h2m16 0h1m9 0h1m2 0h1m1 0h1m5 0h2m2 0h2m6 0h1m22 0h1m4 0h1m-120 1h1m3 0h2m15 0h1m6 0h1m77 0h1m17 0h1m19 0h1m-146 1h1m3 0h1m3 0h1m6 0h1m2 0h1m4 0h1m8 0h2m31 0h1m6 0h1m12 0h1m3 0h1m6 0h1m18 0h1m19 0h1m-141 1h2m1 0h1m11 0h1m10 0h1m47 0h2m13 0h1m6 0h1m5 0h1m1 0h1m7 0h1m3 0h1m13 0h1m4 0h1m-126 1h1m27 0h1m2 0h1m3 0h1m7 0h1m2 0h2m17 0h3m2 0h1m18 0h1m30 0h1m9 0h1m4 0h1m-141 1h1m3 0h2m2 0h1m7 0h2m3 0h1m3 0h1m27 0h1m6 0h3m21 0h1m16 0h1m18 0h1m14 0h1m-136 1h1m5 0h1m24 0h1m1 0h1m7 0h1m12 0h1m9 0h1m16 0h2m24 0h1m-109 1h1m7 0h1m4 0h1m7 0h1m11 0h1m2 0h1m4 0h1m6 0h1m11 0h1m5 0h1m4 0h1m7 0h1m9 0h1m4 0h2m8 0h1m-108 1h2m2 0h1m41 0h2m40 0h1m8 0h1m6 0h1m2 0h1m-107 1h1m9 0h1m5 0h1m3 0h1m6 0h1m13 0h1m8 0h2m6 0h1m6 0h1m16 0h1m27 0h1m3 0h1m-112 1h1m8 0h1m10 0h1m3 0h1m1 0h1m10 0h3m1 0h1m12 0h1m4 0h1m5 0h1m3 0h1m2 0h1m3 0h1m28 0h1m9 0h1m4 0h1m24 0h1m-145 1h1m18 0h1m1 0h1m5 0h1m3 0h1m5 0h1m20 0h1m2 0h2m8 0h4m4 0h1m7 0h1m1 0h2m1 0h2m4 0h1m25 0h1m-130 1h1m4 0h1m2 0h1m5 0h1m9 0h1m4 0h1m16 0h1m2 0h1m2 0h1m1 0h1m12 0h1m1 0h1m1 0h1m3 0h1m17 0h2m20 0h1m13 0h1m-122 1h1m36 0h1m5 0h1m25 0h1m1 0h1m3 0h1m11 0h1m13 0h1m1 0h1m12 0h1m-118 1h1m1 0h1m8 0h1m21 0h2m6 0h1m5 0h1m2 0h2m1 0h2m17 0h1m9 0h1m2 0h1m9 0h1m10 0h1m-102 1h1m9 0h1m16 0h1m5 0h1m2 0h1m13 0h1m2 0h1m3 0h1m12 0h1m3 0h1m2 0h1m14 0h2m33 0h1m9 0h1m-139 1h1m10 0h1m15 0h1m10 0h1m24 0h2m5 0h1m1 0h1m2 0h1m2 0h1m8 0h1m2 0h1m13 0h1m8 0h1m14 0h1m4 0h1m-133 1h2m8 0h1m11 0h2m20 0h1m12 0h1m1 0h1m6 0h1m4 0h1m3 0h1m2 0h1m33 0h1m-124 1h1m3 0h1m1 0h1m5 0h1m12 0h1m19 0h1m13 0h1m3 0h1m8 0h1m28 0h1m41 0h1m-139 1h1m3 0h1m13 0h1m22 0h1m4 0h1m1 0h1m16 0h1m2 0h1m6 0h1m3 0h1m2 0h1m3 0h1m8 0h1m37 0h1m-129 1h1m10 0h1m26 0h1m11 0h1m2 0h1m9 0h1m3 0h1m3 0h1m5 0h1m3 0h1m20 0h1m-108 1h1m4 0h1m12 0h1m1 0h1m13 0h1m5 0h3m6 0h1m2 0h1m3 0h1m14 0h1m5 0h1m3 0h1m29 0h1m11 0h1m-131 1h1m4 0h1m3 0h1m47 0h1m4 0h1m7 0h1m45 0h1m-108 1h1m7 0h1m4 0h1m3 0h1m24 0h1m16 0h1m2 0h1m10 0h1m10 0h1m36 0h1m-128 1h1m1 0h1m11 0h1m2 0h1m20 0h1m3 0h1m16 0h1m2 0h1m2 0h1m9 0h1m13 0h1m32 0h1m24 0h1m-150 1h1m2 0h1m2 0h1m18 0h1m1 0h1m8 0h1m13 0h1m13 0h1m7 0h1m2 0h1m4 0h1m1 0h2m2 0h1m1 0h1m3 0h2m1 0h1m17 0h1m35 0h1m-144 1h1m28 0h1m2 0h1m12 0h1m4 0h1m7 0h1m1 0h1m18 0h1m9 0h1m23 0h1m-118 1h1m11 0h1m6 0h1m5 0h1m7 0h1m2 0h1m7 0h1m9 0h1m4 0h1m19 0h1m2 0h1m16 0h1m15 0h1m11 0h1m19 0h1m-145 1h1m6 0h1m8 0h1m9 0h1m4 0h1m17 0h1m13 0h1m2 0h2m4 0h1m8 0h1m8 0h1m9 0h1m7 0h1m15 0h1m19 0h1m-151 1h3m1 0h3m1 0h1m6 0h1m2 0h1m4 0h1m5 0h1m15 0h1m46 0h1m4 0h1m4 0h1m13 0h1m13 0h1m14 0h1m-140 1h1m5 0h1m9 0h1m4 0h1m6 0h1m5 0h1m1 0h1m10 0h1m3 0h1m6 0h1m5 0h2m11 0h2m5 0h1m9 0h1m1 0h2m14 0h1m16 0h1m-128 1h1m1 0h2m34 0h1m3 0h1m3 0h1m1 0h3m7 0h1m5 0h1m10 0h1m21 0h1m8 0h1m5 0h1m19 0h1m-132 1h2m12 0h1m5 0h1m7 0h1m6 0h1m5 0h1m6 0h1m8 0h1m6 0h1m2 0h1m2 0h1m12 0h1m23 0h1m3 0h1m4 0h1m14 0h1m-135 1h1m14 0h1m6 0h1m1 0h1m1 0h1m15 0h1m6 0h1m18 0h1m9 0h1m2 0h1m17 0h1m12 0h1m1 0h1m19 0h1m-132 1h1m1 0h1m5 0h1m14 0h1m1 0h1m1 0h1m11 0h2m10 0h1m4 0h1m14 0h1m11 0h3m9 0h1m-95 1h1m2 0h1m8 0h1m8 0h1m7 0h1m5 0h1m3 0h1m13 0h1m2 0h2m3 0h1m3 0h2m8 0h1m7 0h1m5 0h1m12 0h1m7 0h1m4 0h1m4 0h1m19 0h1m-150 1h1m6 0h1m4 0h1m3 0h1m21 0h1m12 0h1m11 0h1m2 0h1m2 0h2m27 0h1m5 0h1m-102 1h1m8 0h2m15 0h1m14 0h2m7 0h1m1 0h1m7 0h1m3 0h1m26 0h1m44 0h1m4 0h1m4 0h1m-146 1h1m10 0h1m24 0h1m7 0h1m1 0h2m11 0h1m20 0h1m3 0h1m3 0h1m1 0h1m5 0h1m-101 1h1m7 0h1m13 0h1m3 0h1m3 0h1m6 0h2m1 0h1m1 0h1m26 0h1m5 0h1m6 0h1m3 0h1m42 0h1m-130 1h1m1 0h1m5 0h1m16 0h1m17 0h1m10 0h1m5 0h1m2 0h1m15 0h1m6 0h1m5 0h2m4 0h1m4 0h1m15 0h1m24 0h1m-145 1h1m8 0h1m3 0h1m10 0h2m12 0h1m8 0h1m6 0h2m2 0h1m4 0h1m1 0h2m3 0h1m9 0h1m11 0h3m-95 1h2m3 0h1m11 0h1m1 0h1m2 0h1m11 0h1m6 0h1m3 0h1m6 0h1m5 0h1m36 0h1m1 0h1m5 0h1m1 0h1m-105 1h2m9 0h1m13 0h1m3 0h1m13 0h1m2 0h1m1 0h1m1 0h1m6 0h1m8 0h1m1 0h1m21 0h1m9 0h1m1 0h1m15 0h1m9 0h1m4 0h1m4 0h1m-137 1h1m19 0h1m11 0h1m22 0h1m3 0h1m12 0h1m53 0h1m-116 1h1m3 0h1m3 0h1m29 0h1m4 0h1m2 0h1m6 0h1m1 0h1m9 0h1m22 0h1m31 0h1m-134 1h1m5 0h1m1 0h1m15 0h1m2 0h2m1 0h1m17 0h1m11 0h1m4 0h1m2 0h1m2 0h2m2 0h1m26 0h1m-89 1h1m14 0h2m1 0h1m11 0h1m9 0h2m19 0h1m3 0h1m12 0h1m9 0h1m3 0h1m-68 1h1m8 0h1m42 0h1m24 0h1m-118 1h1m29 0h2m4 0h1m3 0h1m5 0h1m5 0h1m4 0h1m4 0h1m9 0h1m1 0h1m11 0h1m10 0h1m13 0h1m1 0h1m5 0h1m-117 1h1m16 0h1m10 0h1m7 0h1m2 0h1m2 0h1m1 0h1m5 0h1m3 0h2m4 0h1m14 0h5m5 0h2m6 0h1m5 0h1m-100 1h1m31 0h1m13 0h1m24 0h1m2 0h1m17 0h1m11 0h1m-103 1h1m6 0h1m13 0h1m9 0h1m10 0h2m10 0h1m1 0h1m4 0h1m3 0h1m6 0h1m3 0h1m21 0h1m20 0h1m19 0h1m-143 1h1m14 0h1m4 0h1m2 0h1m9 0h1m7 0h1m1 0h1m4 0h1m14 0h1m20 0h1m2 0h1m5 0h1m53 0h1m-147 1h1m2 0h1m5 0h1m2 0h1m2 0h1m3 0h1m3 0h1m6 0h1m2 0h1m8 0h1m7 0h1m4 0h1m19 0h1m5 0h1m5 0h1m5 0h1m14 0h1m3 0h1m-116 1h1m13 0h1m2 0h1m1 0h1m9 0h1m4 0h1m11 0h1m22 0h1m3 0h1m8 0h1m1 0h1m7 0h1m4 0h1m1 0h1m4 0h1m4 0h1m3 0h1m10 0h1m14 0h1m-132 1h1m4 0h1m12 0h2m10 0h1m15 0h1m2 0h1m18 0h2m5 0h2m1 0h1m8 0h1m1 0h1m6 0h1m12 0h1m-113 1h1m13 0h1m2 0h1m3 0h1m1 0h1m2 0h2m2 0h1m1 0h1m22 0h1m9 0h1m4 0h1m8 0h1m9 0h1m2 0h1m7 0h1m1 0h1m5 0h1m3 0h1m-116 1h1m15 0h1m4 0h1m6 0h1m2 0h1m2 0h2m7 0h1m2 0h1m4 0h1m4 0h1m10 0h1m18 0h1m12 0h1m17 0h1m-96 1h1m5 0h1m18 0h1m15 0h1m7 0h1m1 0h2m2 0h1m8 0h1m3 0h1m2 0h1m7 0h1m20 0h1m-117 1h1m9 0h1m4 0h1m5 0h1m12 0h1m4 0h1m12 0h1m4 0h1m45 0h1m3 0h1m8 0h1m-121 1h2m7 0h1m2 0h1m17 0h1m10 0h1m18 0h1m2 0h1m5 0h1m8 0h2m1 0h1m21 0h1m7 0h1m3 0h1m4 0h1m-113 1h1m9 0h1m10 0h1m1 0h2m6 0h1m6 0h1m22 0h1m11 0h1m2 0h2m15 0h1m9 0h1m3 0h1m-110 1h1m1 0h3m12 0h1m14 0h1m5 0h2m4 0h1m11 0h1m15 0h1m5 0h1m24 0h1m10 0h1m-111 1h1m7 0h1m1 0h1m1 0h1m1 0h1m11 0h1m7 0h2m7 0h1m22 0h1m22 0h1m3 0h1m3 0h1m-110 1h1m16 0h1m4 0h1m6 0h1m22 0h1m9 0h1m17 0h1m2 0h1m5 0h1m11 0h1m13 0h1m-98 1h1m3 0h1m6 0h1m24 0h1m6 0h1m3 0h1m11 0h1m7 0h1m1 0h1m5 0h2m16 0h1m20 0h1m-92 1h1m4 0h1m9 0h1m11 0h1m4 0h1m9 0h1m1 0h1m51 0h1m-140 1h1m16 0h1m3 0h1m10 0h1m6 0h2m2 0h2m11 0h1m19 0h2m1 0h1m5 0h1m9 0h1m1 0h1m5 0h1m3 0h1m16 0h1m4 0h1m-113 1h1m21 0h1m6 0h1m17 0h1m8 0h1m3 0h3m11 0h1m13 0h1m38 0h1m-139 1h1m37 0h1m6 0h1m3 0h1m2 0h3m3 0h1m6 0h1m14 0h1m18 0h1m23 0h1m-131 1h1m4 0h1m4 0h1m20 0h1m5 0h1m14 0h1m10 0h2m12 0h1m2 0h1m14 0h1m-93 1h1m10 0h1m14 0h2m1 0h1m13 0h1m6 0h1m2 0h2m3 0h2m12 0h1m4 0h1m2 0h1m4 0h1m4 0h1m2 0h1m11 0h1m1 0h1m7 0h1m11 0h1m-97 1h2m10 0h1m49 0h1m11 0h1m5 0h1m1 0h1m8 0h1m9 0h1m9 0h1m4 0h1m-151 1h1m1 0h1m19 0h1m11 0h1m11 0h1m1 0h1m17 0h1m19 0h1m2 0h2m1 0h1m1 0h1m10 0h1m2 0h1m-104 1h1m3 0h1m11 0h2m9 0h1m16 0h1m20 0h1m9 0h1m6 0h1m14 0h1m1 0h1m11 0h1m-108 1h1m9 0h1m2 0h1m6 0h1m9 0h1m9 0h1m2 0h1m10 0h1m16 0h1m15 0h1m3 0h1m34 0h1m4 0h1m4 0h1m-138 1h1m13 0h1m5 0h1m3 0h1m10 0h1m15 0h1m5 0h1m34 0h1m3 0h1m3 0h1m3 0h1m3 0h1m8 0h1m14 0h1m9 0h1m-151 1h1m33 0h1m2 0h1m5 0h1m4 0h1m10 0h1m4 0h1m17 0h1m3 0h1m1 0h1m8 0h1m3 0h1m38 0h1m-133 1h1m8 0h1m5 0h1m7 0h1m2 0h1m4 0h3m4 0h1m5 0h1m11 0h1m2 0h1m2 0h1m4 0h1m14 0h1m12 0h1m41 0h1m-144 1h1m7 0h1m1 0h1m4 0h1m1 0h1m5 0h1m25 0h1m1 0h1m11 0h1m4 0h1m3 0h1m22 0h1m2 0h1m3 0h1m3 0h1m21 0h1m-116 1h1m19 0h1m1 0h2m4 0h1m1 0h1m10 0h2m3 0h1m4 0h1m4 0h1m28 0h1m24 0h1m-108 1h1m3 0h1m9 0h2m4 0h1m1 0h1m3 0h1m1 0h1m3 0h1m11 0h1m4 0h1m4 0h1m2 0h1m5 0h1m12 0h1m-62 1h1m1 0h1m1 0h1m2 0h1m24 0h1m2 0h1m13 0h1m10 0h2m1 0h1m8 0h1m-102 1h1m1 0h1m13 0h1m15 0h2m7 0h1m3 0h1m6 0h1m1 0h1m9 0h1m10 0h1m9 0h1m8 0h2m35 0h1m4 0h1m-128 1h1m13 0h1m4 0h1m5 0h1m8 0h1m7 0h1m2 0h1m16 0h1m4 0h1m6 0h1m8 0h1m11 0h1m9 0h1m-106 1h1m11 0h1m2 0h1m12 0h1m4 0h1m36 0h2m5 0h1m12 0h1m41 0h1m-145 1h1m24 0h1m34 0h1m2 0h1m6 0h1m8 0h1m1 0h1m19 0h1m5 0h1m16 0h1m4 0h1m14 0h1m-145 1h2m10 0h1m3 0h1m12 0h1m2 0h2m1 0h2m4 0h1m2 0h1m9 0h1m3 0h1m2 0h1m8 0h2m7 0h1m11 0h1m5 0h1m1 0h2m-102 1h1m6 0h1m14 0h1m3 0h1m2 0h1m7 0h1m5 0h3m1 0h1m1 0h1m6 0h1m20 0h1m9 0h1m2 0h1m6 0h1m5 0h1m46 0h1m-128 1h1m17 0h1m3 0h1m22 0h1m12 0h1m1 0h1m7 0h1m7 0h2m2 0h1m4 0h1m3 0h1m7 0h1m9 0h1m4 0h1m9 0h1m-146 1h1m4 0h1m13 0h1m1 0h1m14 0h1m1 0h1m3 0h1m6 0h1m16 0h1m5 0h1m3 0h1m21 0h1m21 0h1m4 0h1m14 0h1m-120 1h1m27 0h2m13 0h1m27 0h2m10 0h1m30 0h1m-135 1h1m2 0h1m17 0h1m1 0h1m27 0h1m5 0h2m14 0h1m1 0h1m13 0h1m4 0h2m15 0h1m3 0h1m-109 1h1m3 0h1m2 0h1m12 0h1m8 0h1m18 0h1m14 0h1m13 0h2m4 0h1m7 0h1m30 0h1m14 0h1m-146 1h1m27 0h1m2 0h1m8 0h1m23 0h2m21 0h2m3 0h1m11 0h1m7 0h1m12 0h1m-86 1h1m6 0h1m1 0h2m13 0h2m3 0h2m4 0h2m4 0h1m48 0h1m-129 1h1m15 0h1m4 0h1m17 0h3m2 0h1m3 0h1m8 0h1m5 0h1m22 0h1m4 0h1m11 0h1m10 0h1m-103 1h2m26 0h1m6 0h1m21 0h1m11 0h1m1 0h1m12 0h1m17 0h1m-115 1h1m1 0h1m7 0h1m13 0h1m7 0h1m8 0h1m6 0h1m4 0h1m13 0h1m10 0h1m12 0h1m5 0h1m14 0h1m15 0h1m-130 1h1m2 0h1m10 0h1m14 0h1m17 0h1m29 0h1m18 0h1m42 0h1m9 0h1m-151 1h1m1 0h1m16 0h1m4 0h1m12 0h1m1 0h1m22 0h1m11 0h1m2 0h3m7 0h1m5 0h1m4 0h1m46 0h1m-125 1h1m14 0h1m9 0h1m3 0h1m3 0h1m18 0h1m10 0h1m20 0h1m8 0h1m35 0h1m-145 1h1m21 0h1m50 0h1m24 0h1m7 0h1m1 0h1m1 0h1m1 0h1m-118 1h1m5 0h1m3 0h1m1 0h1m8 0h1m6 0h1m2 0h1m15 0h1m7 0h3m1 0h1m3 0h1m1 0h1m10 0h2m5 0h1m15 0h1m17 0h1m-116 1h1m3 0h1m14 0h1m14 0h1m25 0h1m4 0h1m13 0h1m9 0h1m4 0h1m8 0h1m28 0h1m-132 1h1m21 0h1m7 0h1m25 0h1m12 0h1m9 0h1m4 0h1m5 0h1m-72 1h1m3 0h1m17 0h1m2 0h1m19 0h1m3 0h1m1 0h1m26 0h1m4 0h1m43 0h1m-149 1h1m17 0h1m26 0h1m16 0h1m3 0h1m1 0h1m10 0h1m16 0h1m2 0h1m8 0h1m-109 1h1m13 0h2m8 0h1m2 0h1m2 0h1m20 0h1m6 0h1m5 0h1m4 0h1m2 0h1m2 0h1m19 0h1m5 0h1m26 0h1m19 0h1m-148 1h1m19 0h1m8 0h1m1 0h2m8 0h1m2 0h2m6 0h1m5 0h1m1 0h2m11 0h1m4 0h1m2 0h1m11 0h1m21 0h1m26 0h1m-133 1h2m2 0h1m1 0h1m1 0h1m12 0h1m17 0h1m6 0h1m8 0h1m14 0h1m3 0h1m4 0h2m2 0h2m7 0h1m-101 1h1m11 0h1m50 0h1m6 0h1m8 0h1m4 0h1m22 0h1m-110 1h2m3 0h1m8 0h1m2 0h1m1 0h1m2 0h1m14 0h1m4 0h1m9 0h2m15 0h1m13 0h1m9 0h1m19 0h1m33 0h1m-150 1h1m2 0h1m2 0h1m5 0h1m9 0h1m1 0h1m7 0h2m12 0h1m12 0h2m13 0h2m1 0h1m6 0h1m2 0h1m1 0h1m7 0h1m36 0h1m14 0h1m-145 1h1m14 0h1m10 0h2m25 0h1m4 0h1m2 0h1m10 0h1m17 0h1m-96 1h1m34 0h1m7 0h1m4 0h1m20 0h1m2 0h1m2 0h1m14 0h1m2 0h1m15 0h1m9 0h1m-108 1h1m20 0h1m1 0h1m15 0h1m7 0h1m15 0h1m1 0h2m19 0h1m16 0h1m23 0h1m-137 1h1m1 0h2m10 0h1m21 0h1m8 0h1m6 0h1m16 0h1m5 0h1m2 0h1m12 0h1m6 0h1m5 0h1m36 0h1m-141 1h1m22 0h1m1 0h1m1 0h1m4 0h2m1 0h1m2 0h2m13 0h1m15 0h1m1 0h1m4 0h1m1 0h1m1 0h1m39 0h1m24 0h1m-137 1h1m20 0h1m15 0h1m8 0h2m4 0h1m3 0h1m16 0h1m4 0h1m3 0h1m11 0h1m-106 1h1m9 0h1m14 0h1m3 0h1m13 0h1m13 0h1m6 0h1m18 0h1m9 0h2m8 0h1m7 0h1m30 0h1m-144 1h1m5 0h1m3 0h2m14 0h1m14 0h1m11 0h1m3 0h1m6 0h1m1 0h1m4 0h1m4 0h1m20 0h1m-94 1h2m1 0h2m1 0h3m2 0h4m21 0h1m20 0h1m1 0h1m8 0h1m1 0h1m4 0h1m11 0h1m3 0h1m6 0h1m30 0h1m-99 1h1m12 0h1m9 0h2m7 0h1m9 0h1m21 0h1m1 0h1m26 0h1m4 0h1m4 0h1m-128 1h1m4 0h1m27 0h1m2 0h1m14 0h1m7 0h1m5 0h1m1 0h1m4 0h1m12 0h1m1 0h1m7 0h1m5 0h1m5 0h1m-120 1h1m18 0h1m3 0h1m1 0h1m5 0h1m17 0h1m20 0h1m2 0h1m9 0h1m15 0h1m1 0h1m11 0h1m25 0h1m4 0h1m4 0h1m-144 1h1m3 0h1m11 0h1m10 0h1m2 0h1m7 0h1m5 0h2m10 0h1m10 0h1m3 0h2m5 0h1m26 0h1m37 0h1m-150 1h1m12 0h1m9 0h1m28 0h1m9 0h1m2 0h1m22 0h1m8 0h1m6 0h2m3 0h1m7 0h1m-119 1h2m13 0h2m1 0h2m2 0h1m1 0h1m3 0h1m11 0h1m7 0h1m22 0h1m11 0h1m8 0h2m4 0h2m2 0h2m4 0h1m1 0h1m9 0h1m-120 1h1m16 0h1m20 0h1m29 0h1m6 0h1m15 0h1m8 0h2m9 0h1m22 0h1m4 0h1m4 0h1m-138 1h1m9 0h1m5 0h1m2 0h1m2 0h2m3 0h1m6 0h1m3 0h1m2 0h1m1 0h1m1 0h1m12 0h2m7 0h1m1 0h1m25 0h1m41 0h1m-142 1h1m2 0h1m3 0h1m19 0h1m8 0h1m9 0h1m7 0h1m11 0h1m4 0h1m11 0h1m3 0h1m13 0h1m2 0h1m21 0h1m-123 1h1m4 0h1m76 0h1m8 0h1m18 0h1m-111 1h1m4 0h1m33 0h1m2 0h1m5 0h1m41 0h1m1 0h1m44 0h1m-137 1h1m1 0h1m9 0h1m5 0h1m11 0h1m10 0h1m6 0h2m6 0h1m79 0h1m-134 1h1m2 0h1m1 0h1m32 0h1m13 0h2m10 0h1m9 0h2m-66 1h1m24 0h1m9 0h1m2 0h2m19 0h1m13 0h1m6 0h1m27 0h1m4 0h1m9 0h1m-144 1h1m6 0h1m13 0h1m2 0h1m13 0h1m19 0h1m11 0h1m10 0h1m14 0h1m21 0h1m19 0h1m-140 1h1m1 0h1m11 0h1m9 0h1m1 0h2m1 0h1m55 0h1m-85 1h1m14 0h1m5 0h2m9 0h1m1 0h1m7 0h1m6 0h1m1 0h1m9 0h1m22 0h1m2 0h1m2 0h2m10 0h1m25 0h1m14 0h1m-135 1h1m8 0h1m4 0h2m11 0h1m16 0h1m5 0h1m11 0h1m9 0h2m3 0h1m3 0h1m19 0h1m7 0h1m24 0h1m-142 1h1m11 0h1m10 0h1m7 0h1m4 0h1m15 0h2m1 0h1m3 0h1m1 0h1m15 0h1m5 0h1m1 0h1m2 0h1m3 0h1m17 0h1m3 0h1m26 0h1m-122 1h2m5 0h1m4 0h1m29 0h1m17 0h1m4 0h1m26 0h1m23 0h1m-139 1h1m1 0h1m9 0h1m2 0h1m1 0h1m28 0h1m11 0h1m18 0h1m8 0h1m9 0h1m11 0h1m-96 1h1m1 0h1m2 0h1m18 0h1m12 0h1m21 0h2m1 0h1m27 0h2m-107 1h1m4 0h1m9 0h1m7 0h1m11 0h1m14 0h1m7 0h1m4 0h1m1 0h2m12 0h1m3 0h1m7 0h1m24 0h1m1 0h1m-99 1h2m1 0h1m11 0h1m8 0h1m10 0h1m7 0h1m12 0h1m8 0h2m5 0h1m11 0h1m7 0h1m3 0h1m28 0h1m-141 1h1m1 0h1m9 0h2m21 0h1m33 0h1m9 0h1m2 0h1m4 0h1m2 0h1m8 0h1m15 0h1m19 0h1m-139 1h1m4 0h1m9 0h1m24 0h1m26 0h1m8 0h1m5 0h1m8 0h1m-72 1h1m15 0h1m19 0h1m14 0h1m10 0h2m10 0h1m8 0h1m12 0h1m-104 1h2m8 0h2m5 0h1m5 0h1m20 0h1m14 0h2m8 0h1m8 0h1m8 0h1m2 0h1m-89 1h1m1 0h1m20 0h1m1 0h1m1 0h1m3 0h1m4 0h1m16 0h1m13 0h1m5 0h1m5 0h1m8 0h1m2 0h1m5 0h1m25 0h1m-138 1h1m38 0h3m28 0h1m7 0h1m6 0h1m4 0h1m20 0h1m5 0h1m-121 1h1m3 0h2m24 0h1m10 0h1m4 0h1m6 0h1m50 0h2m8 0h1m35 0h1m-134 1h1m37 0h1m4 0h1m19 0h1m4 0h1m16 0h1m-102 1h1m13 0h1m2 0h1m3 0h1m11 0h1m1 0h1m15 0h1m8 0h1m7 0h1m22 0h2m2 0h1m15 0h1m-107 1h1m11 0h1m13 0h2m5 0h1m4 0h1m11 0h1m4 0h1m11 0h2m2 0h1m9 0h1m2 0h1m1 0h1m6 0h1m5 0h1m6 0h1m-111 1h1m12 0h1m4 0h1m7 0h1m10 0h1m1 0h1m27 0h2m3 0h1m4 0h1m11 0h1m7 0h1m16 0h1m-108 1h2m2 0h1m4 0h1m6 0h1m8 0h1m13 0h1m6 0h2m13 0h1m5 0h1m12 0h1m30 0h1m29 0h1m-135 1h3m17 0h1m2 0h1m18 0h1m2 0h1m3 0h1m9 0h1m25 0h1m12 0h1m25 0h1m-139 1h1m4 0h1m6 0h1m16 0h1m17 0h1m1 0h1m26 0h1m26 0h1m2 0h1m3 0h1m17 0h1m19 0h1m-143 1h1m2 0h1m17 0h1m1 0h1m2 0h1m15 0h1m5 0h1m1 0h1m1 0h1m15 0h1m7 0h1m6 0h1m1 0h1m18 0h1m-96 1h1m2 0h1m3 0h1m24 0h1m5 0h1m21 0h1m6 0h1m9 0h2m6 0h1m11 0h1m15 0h1m14 0h1m-96 1h1m6 0h1m3 0h1m23 0h1m54 0h1m-117 1h1m11 0h1m13 0h1m3 0h1m5 0h1m5 0h1m13 0h1m2 0h1m2 0h1m3 0h1m4 0h2m15 0h1m1 0h1m10 0h1m4 0h1m14 0h1m-146 1h1m6 0h1m30 0h1m6 0h2m6 0h1m2 0h1m8 0h1m33 0h1m50 0h1m-130 1h1m22 0h1m20 0h1m2 0h1m3 0h1m1 0h1m4 0h2m3 0h1m7 0h1m21 0h1m5 0h1m19 0h1m-133 1h1m8 0h1m3 0h1m1 0h2m4 0h1m21 0h1m8 0h1m15 0h1m14 0h1m2 0h1m11 0h1m18 0h1m-125 1h1m2 0h1m1 0h1m8 0h1m7 0h1m4 0h1m11 0h1m3 0h1m4 0h1m6 0h1m9 0h1m9 0h1m6 0h1m18 0h1m11 0h1m1 0h1m3 0h1m-109 1h1m3 0h1m28 0h1m14 0h1m15 0h1m9 0h1m6 0h1m8 0h1m-103 1h1m1 0h2m12 0h1m1 0h1m15 0h1m1 0h1m4 0h2m49 0h1m3 0h1m17 0h1m35 0h1m-145 1h2m1 0h1m2 0h1m8 0h1m27 0h2m5 0h1m6 0h1m15 0h1m4 0h1m4 0h2m4 0h1m20 0h1m13 0h1m9 0h1m-129 1h1m15 0h1m5 0h1m17 0h1m6 0h1m5 0h1m3 0h2m6 0h1m2 0h1m12 0h1m41 0h1m9 0h1m4 0h1m-141 1h1m6 0h1m9 0h1m5 0h1m20 0h1m9 0h1m1 0h1m2 0h1m6 0h1m5 0h1m1 0h1m6 0h1m5 0h1m5 0h1m26 0h1m-127 1h1m1 0h1m16 0h1m24 0h1m4 0h3m2 0h1m4 0h1m29 0h1m6 0h1m19 0h1m-119 1h1m16 0h2m14 0h2m22 0h1m2 0h1m12 0h2m2 0h1m4 0h1m17 0h1m7 0h1m39 0h1m-117 1h2m3 0h2m5 0h2m10 0h1m2 0h1m2 0h1m3 0h1m15 0h1m1 0h1m25 0h1m-109 1h1m4 0h1m6 0h1m9 0h1m3 0h1m3 0h2m9 0h2m12 0h1m13 0h1m13 0h1m2 0h1m13 0h1m35 0h1m9 0h1m-138 1h2m6 0h1m13 0h1m38 0h1m4 0h1m12 0h2m4 0h1m1 0h1m4 0h1m8 0h1m3 0h1m-98 1h1m27 0h2m2 0h1m3 0h1m4 0h1m1 0h1m5 0h1m1 0h1m1 0h1m5 0h1m11 0h2m2 0h1m13 0h1m1 0h1m37 0h1m-150 1h1m2 0h1m14 0h1m2 0h1m3 0h1m10 0h1m1 0h1m19 0h1m1 0h1m4 0h1m13 0h1m6 0h1m2 0h1m1 0h1m3 0h1m3 0h1m3 0h2m34 0h1m-136 1h1m1 0h1m5 0h1m5 0h1m3 0h1m1 0h1m3 0h1m20 0h1m2 0h1m4 0h1m7 0h1m3 0h1m4 0h1m2 0h1m13 0h1m10 0h1m-104 1h1m22 0h1m16 0h1m8 0h1m10 0h1m1 0h1m10 0h1m7 0h1m1 0h1m13 0h1m14 0h1m7 0h1m4 0h1m9 0h1m4 0h1m-132 1h1m16 0h1m18 0h1m12 0h1m3 0h1m13 0h1m1 0h1m14 0h1m4 0h2m6 0h1m5 0h1m32 0h1m-144 1h1m20 0h2m3 0h1m1 0h1m9 0h1m8 0h1m7 0h1m20 0h1m4 0h1m9 0h1m2 0h1m11 0h1m1 0h1m29 0h1m-134 1h1m11 0h1m3 0h1m1 0h1m6 0h1m8 0h1m25 0h1m1 0h1m9 0h1m17 0h1m1 0h1m12 0h1m7 0h1m-115 1h2m5 0h1m5 0h1m1 0h1m9 0h1m2 0h1m20 0h1m17 0h1m13 0h1m3 0h1m8 0h1m5 0h1m-88 1h1m8 0h1m9 0h1m26 0h1m11 0h1m2 0h1m2 0h1m2 0h1m1 0h1m1 0h1m2 0h2m9 0h2m4 0h1m29 0h1m-137 1h2m12 0h1m2 0h1m14 0h1m24 0h1m3 0h1m2 0h1m3 0h1m1 0h1m13 0h1m3 0h1m1 0h1m45 0h1m-141 1h1m34 0h1m14 0h1m12 0h1m3 0h3m13 0h1m2 0h1m5 0h3m23 0h1m21 0h1m-140 1h1m6 0h1m1 0h1m4 0h1m7 0h1m13 0h1m19 0h1m7 0h1m7 0h2m16 0h1m5 0h2m-94 1h1m9 0h1m8 0h1m2 0h1m4 0h1m1 0h1m1 0h1m77 0h1m20 0h1m-130 1h1m10 0h1m9 0h1m16 0h1m4 0h1m7 0h1m8 0h1m17 0h1m4 0h1m18 0h1m1 0h1m34 0h1m-146 1h1m6 0h1m3 0h1m2 0h1m5 0h1m3 0h1m1 0h1m4 0h1m15 0h1m20 0h2m6 0h1m1 0h2m16 0h1m1 0h1m-98 1h1m3 0h1m11 0h1m19 0h1m4 0h1m3 0h1m7 0h1m1 0h1m18 0h1m9 0h1m1 0h1m3 0h1m4 0h3m3 0h1m9 0h1m3 0h1m18 0h1m-126 1h1m8 0h1m26 0h1m3 0h1m4 0h1m1 0h1m3 0h1m8 0h1m35 0h1m-100 1h1m1 0h1m2 0h1m2 0h1m1 0h1m20 0h1m4 0h1m2 0h1m1 0h1m3 0h1m3 0h1m7 0h1m5 0h1m8 0h1m9 0h1m2 0h1m-87 1h1m4 0h1m6 0h1m10 0h1m3 0h1m8 0h2m24 0h1m3 0h1m7 0h1m1 0h1m10 0h1m46 0h1m-132 1h1m7 0h1m1 0h2m3 0h1m1 0h1m8 0h1m4 0h1m8 0h1m3 0h1m21 0h1m59 0h1m-136 1h1m4 0h1m7 0h1m23 0h1m1 0h1m49 0h1m12 0h1m11 0h1m-111 1h1m8 0h1m8 0h1m16 0h1m6 0h1m8 0h1m6 0h1m3 0h1m8 0h1m1 0h1m7 0h1m4 0h1m6 0h1m12 0h1m34 0h1m4 0h1m-145 1h2m2 0h1m19 0h1m10 0h1m1 0h1m6 0h1m5 0h1m7 0h1m10 0h1m22 0h1m4 0h1m4 0h1m26 0h1m14 0h1m-150 1h1m3 0h1m13 0h1m7 0h1m26 0h1m5 0h1m1 0h1m2 0h1m2 0h1m11 0h1m6 0h1m10 0h2m6 0h1m1 0h1m1 0h1m39 0h1m-147 1h1m8 0h1m9 0h1m9 0h1m18 0h1m2 0h2m28 0h1m4 0h1m4 0h1m9 0h1m-63 1h1m2 0h1m9 0h1m5 0h1m8 0h1m6 0h1m2 0h1m8 0h1m19 0h1m3 0h1m3 0h1m16 0h1m-98 1h2m1 0h1m8 0h1m3 0h2m13 0h1m7 0h1m4 0h1m3 0h1m58 0h1m-144 1h1m18 0h1m12 0h1m23 0h1m4 0h1m16 0h4m18 0h1m37 0h1m-131 1h1m13 0h1m2 0h1m1 0h1m9 0h1m8 0h1m7 0h1m2 0h1m4 0h1m1 0h2m1 0h1m8 0h1m17 0h1m11 0h1m1 0h1m3 0h1m-114 1h1m13 0h1m13 0h1m3 0h1m3 0h1m8 0h1m5 0h2m2 0h1m2 0h1m7 0h1m3 0h1m19 0h1m1 0h1m3 0h1m1 0h1m14 0h1m10 0h1m-125 1h1m1 0h1m8 0h1m5 0h1m4 0h1m2 0h1m29 0h1m1 0h2m1 0h1m8 0h1m32 0h1m26 0h1m-123 1h1m8 0h1m1 0h1m12 0h1m10 0h1m2 0h1m12 0h1m8 0h1m11 0h1m10 0h1m5 0h1m3 0h1m3 0h1m4 0h1m-107 1h1m4 0h1m2 0h1m3 0h1m25 0h3m21 0h1m3 0h1m2 0h1m19 0h1m8 0h1m42 0h1m-146 1h1m1 0h1m16 0h2m24 0h1m7 0h1m22 0h1m12 0h1m35 0h1m-126 1h1m2 0h1m3 0h2m2 0h1m74 0h1m5 0h2m2 0h1m13 0h1m14 0h1m-125 1h1m2 0h1m7 0h1m7 0h1m3 0h1m3 0h1m1 0h1m11 0h1m17 0h1m6 0h1m6 0h1m8 0h1m3 0h1m1 0h1m26 0h1m-89 1h1m8 0h1m4 0h1m10 0h1m3 0h1m2 0h1m2 0h2m8 0h1m6 0h1m3 0h1m6 0h1m13 0h1m6 0h1m27 0h1m9 0h1m-142 1h1m2 0h1m22 0h1m3 0h2m21 0h1m2 0h1m26 0h1m19 0h1m27 0h1m-137 1h1m2 0h1m26 0h1m6 0h2m1 0h1m15 0h1m27 0h2m6 0h1m13 0h1m3 0h1m25 0h1m4 0h1m-144 1h1m3 0h2m33 0h1m19 0h1m7 0h1m2 0h1m12 0h1m1 0h1m3 0h1m14 0h1m-91 1h1m1 0h1m16 0h1m25 0h1m3 0h1m5 0h1m2 0h2m10 0h1m3 0h1m11 0h1m32 0h1m-132 1h1m6 0h1m2 0h1m7 0h1m3 0h1m8 0h1m13 0h1m5 0h1m11 0h1m36 0h1m9 0h1m5 0h1m-119 1h1m9 0h1m6 0h1m2 0h1m8 0h2m4 0h1m26 0h2m4 0h1m11 0h1m7 0h2m3 0h1m20 0h1m-100 1h1m10 0h2m9 0h1m14 0h1m9 0h1m5 0h1m1 0h1m2 0h1m11 0h1m3 0h1m2 0h1m6 0h1m6 0h1m-108 1h1m8 0h1m7 0h1m12 0h1m14 0h1m4 0h1m33 0h1m3 0h1m1 0h1m3 0h1m10 0h1m1 0h1m3 0h1m-109 1h1m5 0h1m12 0h1m8 0h1m3 0h1m17 0h1m38 0h1m9 0h1m4 0h1m31 0h1m4 0h1m-137 1h1m17 0h1m5 0h1m37 0h1m5 0h1m1 0h1m13 0h1m4 0h1m-96 1h1m3 0h1m2 0h1m24 0h1m1 0h1m2 0h1m6 0h1m3 0h1m4 0h1m23 0h2m11 0h1m1 0h1m10 0h1m1 0h1m36 0h1m-145 1h2m29 0h1m2 0h1m1 0h1m20 0h2m1 0h1m8 0h1m7 0h1m5 0h1m13 0h2m4 0h1m1 0h1m13 0h1m4 0h1m4 0h1m-131 1h1m9 0h1m2 0h1m5 0h1m2 0h1m5 0h1m1 0h1m1 0h1m7 0h1m5 0h1m1 0h2m29 0h1m13 0h1m14 0h1m-96 1h2m3 0h1m4 0h1m2 0h3m10 0h1m10 0h1m31 0h2m1 0h1m22 0h1m31 0h1m-138 1h1m11 0h1m15 0h1m5 0h1m3 0h1m8 0h1m13 0h1m1 0h1m15 0h2m10 0h1m1 0h1m17 0h1m3 0h1m-118 1h1m3 0h2m3 0h1m6 0h1m3 0h2m4 0h1m17 0h4m6 0h1m7 0h1m19 0h1m2 0h2m10 0h1m26 0h1m-88 1h1m6 0h1m4 0h1m14 0h1m4 0h1m8 0h1m3 0h1m-76 1h1m5 0h1m10 0h1m15 0h1m5 0h1m4 0h2m5 0h2m7 0h1m5 0h1m39 0h1m3 0h1m11 0h1m-123 1h1m2 0h1m6 0h1m2 0h1m24 0h1m8 0h1m11 0h1m2 0h1m2 0h1m2 0h1m15 0h1m13 0h1m33 0h1m-141 1h1m6 0h1m11 0h1m7 0h2m5 0h1m7 0h1m6 0h1m5 0h1m8 0h2m5 0h1m4 0h1m2 0h1m8 0h2m8 0h1m11 0h1m9 0h1m-117 1h1m1 0h1m9 0h1m5 0h3m7 0h1m2 0h1m3 0h1m8 0h1m6 0h1m2 0h1m15 0h1m4 0h1m4 0h1m55 0h1m-139 1h1m4 0h1m9 0h2m3 0h1m14 0h1m1 0h1m3 0h1m2 0h1m5 0h1m5 0h2m8 0h1m1 0h1m8 0h1m4 0h1m1 0h1m11 0h1m1 0h1m7 0h1m21 0h1m4 0h1m4 0h1m-137 1h1m10 0h1m2 0h1m11 0h1m6 0h1m19 0h1m19 0h1m21 0h1m35 0h1m9 0h1m-143 1h1m28 0h1m6 0h1m1 0h1m1 0h1m6 0h1m9 0h1m32 0h1m26 0h1m9 0h1m-129 1h1m10 0h1m9 0h1m5 0h2m14 0h1m1 0h1m4 0h1m5 0h1m7 0h1m15 0h1m12 0h1m34 0h1m4 0h1m-134 1h1m34 0h1m1 0h1m6 0h1m8 0h1m19 0h2m6 0h1m5 0h1m8 0h1m1 0h1m3 0h1m-98 1h1m11 0h1m2 0h1m1 0h1m11 0h1m9 0h2m1 0h1m2 0h1m13 0h1m1 0h1m1 0h1m1 0h1m11 0h1m5 0h1m8 0h2m39 0h1m-137 1h1m2 0h1m28 0h1m4 0h1m1 0h2m5 0h2m2 0h1m2 0h1m8 0h1m9 0h2m2 0h1m3 0h1m23 0h1m3 0h1m-107 1h1m3 0h1m3 0h1m1 0h1m3 0h1m1 0h1m3 0h1m3 0h1m11 0h1m10 0h1m2 0h1m1 0h1m9 0h2m6 0h1m3 0h1m1 0h1m3 0h1m9 0h1m33 0h1m19 0h1m-120 1h1m7 0h1m16 0h1m4 0h1m28 0h1m1 0h1m1 0h1m21 0h1m-113 1h1m13 0h1m1 0h1m16 0h1m3 0h1m13 0h1m3 0h1m16 0h2m14 0h1m15 0h1m5 0h1m-110 1h1m4 0h1m7 0h1m3 0h2m22 0h1m1 0h1m1 0h1m8 0h2m8 0h1m15 0h1m9 0h1m-86 1h1m7 0h1m14 0h1m16 0h1m1 0h1m12 0h1m36 0h1m42 0h1m4 0h1m-145 1h1m21 0h2m5 0h1m2 0h1m14 0h1m11 0h1m12 0h1m4 0h1m8 0h1m3 0h1m2 0h1m1 0h1m1 0h1m6 0h1m-101 1h1m2 0h1m3 0h1m19 0h1m13 0h1m6 0h2m2 0h2m8 0h1m3 0h1m18 0h1m2 0h1m31 0h1m4 0h1m-130 1h1m16 0h1m15 0h1m5 0h1m1 0h1m24 0h1m10 0h1m3 0h1m14 0h1m47 0h1m-150 1h1m18 0h1m18 0h1m11 0h1m3 0h1m1 0h1m18 0h1m1 0h1m1 0h1m-76 1h1m1 0h1m15 0h1m1 0h1m12 0h1m8 0h1m4 0h1m15 0h3m34 0h1m4 0h1m9 0h1m-114 1h1m3 0h1m1 0h1m6 0h2m13 0h1m4 0h1m15 0h2m1 0h1m10 0h1m5 0h1m2 0h1m10 0h1m8 0h2m29 0h1m-101 1h1m4 0h1m2 0h2m5 0h1m2 0h1m4 0h1m1 0h1m2 0h1m13 0h1m13 0h1m3 0h2m1 0h2m3 0h1m3 0h1m9 0h1m-81 1h1m19 0h1m2 0h1m2 0h1m5 0h1m6 0h1m3 0h1m2 0h1m-61 1h1m8 0h1m3 0h1m10 0h1m9 0h1m13 0h1m78 0h1m-138 1h1m4 0h2m43 0h1m23 0h1m33 0h1m-117 1h1m3 0h1m1 0h1m25 0h1m1 0h2m11 0h1m15 0h1m5 0h1m3 0h1m1 0h1m5 0h1m9 0h1m9 0h1m16 0h1m1 0h1m9 0h1m-123 1h1m9 0h1m9 0h1m20 0h1m3 0h1m1 0h1m5 0h2m28 0h1m3 0h1m2 0h1m15 0h1m30 0h1m-134 1h1m26 0h1m9 0h1m6 0h1m2 0h1m16 0h1m1 0h1m37 0h1m13 0h1m-125 1h4m4 0h1m2 0h1m1 0h1m2 0h1m3 0h1m4 0h1m5 0h1m1 0h1m16 0h1m14 0h2m7 0h1m18 0h1m1 0h1m-97 1h1m9 0h1m9 0h1m1 0h1m2 0h1m4 0h1m1 0h1m2 0h2m4 0h1m2 0h1m4 0h1m1 0h1m17 0h1m3 0h2m3 0h2m3 0h2m20 0h1m7 0h1m6 0h1m-121 1h1m15 0h1m5 0h1m5 0h1m3 0h1m11 0h1m6 0h1m1 0h1m16 0h1m1 0h1m2 0h1m9 0h1m7 0h1m17 0h1m8 0h1m-106 1h1m14 0h1m1 0h1m2 0h1m24 0h1m8 0h1m11 0h1m17 0h1m5 0h1m34 0h1m-140 1h1m18 0h2m3 0h1m2 0h1m13 0h1m3 0h1m32 0h1m9 0h1m10 0h1m12 0h1m-102 1h1m3 0h1m5 0h1m6 0h1m2 0h1m5 0h1m20 0h1m1 0h1m2 0h1m1 0h1m12 0h1m1 0h1m3 0h1m3 0h1m10 0h1m34 0h1m-134 1h1m15 0h1m8 0h1m1 0h1m33 0h2m1 0h1m2 0h2m14 0h1m1 0h1m5 0h2m5 0h1m2 0h1m-108 1h1m10 0h1m10 0h1m4 0h1m3 0h2m1 0h2m10 0h1m13 0h1m9 0h1m19 0h1m9 0h1m10 0h1m12 0h1m-108 1h1m7 0h1m7 0h1m12 0h1m8 0h1m6 0h1m7 0h1m2 0h1m1 0h1m9 0h2m16 0h1m15 0h1m-117 1h1m13 0h1m1 0h1m2 0h1m8 0h1m11 0h1m3 0h1m6 0h1m17 0h1m3 0h1m14 0h1m5 0h1m4 0h1m21 0h1m-111 1h1m2 0h1m1 0h2m2 0h1m5 0h1m3 0h1m8 0h1m35 0h1m28 0h1m11 0h1m-106 1h1m8 0h1m1 0h1m8 0h1m7 0h1m4 0h1m1 0h2m6 0h1m5 0h1m13 0h1m16 0h1m24 0h1m-121 1h1m16 0h1m8 0h1m1 0h1m19 0h1m22 0h1m24 0h1m11 0h1m3 0h1m3 0h1m33 0h1m-127 1h1m17 0h1m14 0h1m10 0h1m1 0h1m1 0h1m1 0h1m5 0h1m9 0h1m6 0h1m14 0h1m37 0h1m-149 1h1m24 0h1m1 0h1m4 0h1m3 0h2m5 0h1m7 0h1m3 0h1m5 0h1m5 0h1m4 0h1m3 0h1m1 0h1m4 0h1m8 0h1m5 0h1m1 0h1m37 0h1m-137 1h2m3 0h1m3 0h1m3 0h1m5 0h1m11 0h1m1 0h1m3 0h1m5 0h1m21 0h1m3 0h1m2 0h1m1 0h1m4 0h1m18 0h1m15 0h1m-112 1h1m9 0h1m5 0h1m4 0h1m5 0h1m25 0h1m3 0h1m10 0h2m6 0h3m13 0h1m1 0h1m43 0h1m-142 1h1m31 0h1m3 0h1m8 0h1m1 0h1m6 0h1m2 0h1m14 0h1m2 0h1m16 0h1m5 0h1m5 0h1m-107 1h1m32 0h1m19 0h1m21 0h1m40 0h1m1 0h1m-121 1h1m5 0h2m14 0h1m7 0h1m3 0h1m3 0h1m1 0h1m4 0h1m15 0h1m9 0h1m4 0h1m6 0h2m6 0h1m8 0h2m1 0h1m10 0h1m35 0h1m-138 1h1m14 0h1m7 0h1m28 0h1m9 0h1m9 0h1m17 0h1m2 0h1m-96 1h1m19 0h1m1 0h1m6 0h1m2 0h1m7 0h1m14 0h1m13 0h1m4 0h1m6 0h1m1 0h1m35 0h1m-128 1h1m23 0h1m2 0h1m5 0h1m13 0h2m21 0h1m2 0h2m15 0h1m1 0h1m6 0h1m3 0h1m23 0h1m19 0h1m-145 1h1m31 0h1m6 0h1m1 0h1m7 0h1m8 0h1m1 0h1m9 0h1m6 0h1m5 0h1m6 0h1m1 0h1m6 0h1m24 0h1m14 0h1m-141 1h1m15 0h1m9 0h1m10 0h1m22 0h1m4 0h1m5 0h2m18 0h1m11 0h1m11 0h1m9 0h1m19 0h1m-146 1h1m9 0h1m2 0h2m12 0h1m10 0h1m7 0h1m6 0h2m5 0h1m4 0h1m1 0h1m2 0h1m7 0h1m9 0h1m-93 1h2m22 0h1m7 0h1m7 0h1m3 0h1m16 0h1m22 0h1m7 0h1m24 0h1m26 0h1m-145 1h1m15 0h1m5 0h1m15 0h1m1 0h1m6 0h1m5 0h1m1 0h1m26 0h3m8 0h2m6 0h2m2 0h1m1 0h1m5 0h1m5 0h1"/>
<path stroke="#482475" d="M32 21.5h1m25 1h1m58 2h1m1 0h1m-82 1h1m76 0h1m5 0h1m28 0h1m-119 1h1m35 0h1m50 0h1m30 0h1m-139 1h1m110 0h1m11 0h1m9 0h1m-108 1h1m74 0h1m9 0h1m1 0h1m-108 1h1m10 0h1m1 0h1m1 0h1m3 0h1m6 0h1m15 0h2m1 0h1m3 0h1m4 0h1m2 0h1m3 0h1m3 0h1m5 0h1m15 0h1m2 0h2m9 0h1m25 0h1m-98 1h1m5 0h1m7 0h1m12 0h1m11 0h1m12 0h1m4 0h2m33 0h1m-111 1h1m1 0h1m6 0h1m30 0h1m4 0h1m18 0h1m7 0h1m7 0h1m-95 1h1m15 0h1m6 0h2m2 0h2m15 0h1m8 0h1m4 0h2m7 0h1m12 0h1m4 0h1m7 0h2m-90 1h1m1 0h1m13 0h1m2 0h4m3 0h1m1 0h2m1 0h1m2 0h1m1 0h1m5 0h1m1 0h1m1 0h1m11 0h1m6 0h1m16 0h1m1 0h1m4 0h1m4 0h1m7 0h1m16 0h1m4 0h1m-132 1h1m3 0h1m15 0h1m7 0h2m16 0h2m8 0h1m7 0h2m8 0h1m6 0h1m9 0h1m29 0h1m-131 1h1m5 0h1m27 0h3m13 0h1m15 0h1m1 0h3m2 0h1m15 0h1m6 0h1m1 0h1m9 0h1m41 0h1m-145 1h1m6 0h1m8 0h1m2 0h1m5 0h2m1 0h1m4 0h1m2 0h1m10 0h1m8 0h1m2 0h2m3 0h1m4 0h1m8 0h2m7 0h1m36 0h1m-126 1h1m3 0h2m4 0h1m6 0h1m26 0h1m6 0h2m9 0h1m12 0h1m1 0h1m9 0h1m5 0h2m-97 1h1m18 0h1m16 0h1m5 0h1m2 0h1m5 0h2m2 0h1m14 0h1m6 0h1m1 0h1m4 0h2m7 0h1m2 0h1m2 0h1m1 0h2m-103 1h1m5 0h1m9 0h1m44 0h2m19 0h1m3 0h1m6 0h1m38 0h1m14 0h1m-149 1h1m3 0h1m25 0h1m8 0h1m19 0h1m14 0h1m2 0h1m3 0h1m4 0h1m3 0h1m2 0h1m3 0h1m-98 1h1m21 0h1m28 0h1m12 0h1m4 0h1m3 0h1m8 0h1m40 0h1m-124 1h1m8 0h1m10 0h1m6 0h1m2 0h1m39 0h1m25 0h1m4 0h1m14 0h1m11 0h1m-127 1h1m3 0h1m1 0h1m8 0h1m4 0h1m4 0h1m34 0h1m20 0h1m1 0h1m5 0h1m18 0h1m1 0h1m10 0h1m14 0h1m-135 1h1m10 0h1m4 0h2m14 0h1m57 0h1m3 0h1m-97 1h1m8 0h1m9 0h1m9 0h1m13 0h1m2 0h1m30 0h3m-71 1h1m9 0h1m15 0h1m20 0h1m3 0h1m2 0h1m20 0h1m41 0h1m-129 1h1m2 0h1m1 0h1m41 0h1m16 0h1m9 0h1m8 0h1m19 0h1m14 0h1m19 0h1m-129 1h1m3 0h1m5 0h1m12 0h1m1 0h1m16 0h1m13 0h1m19 0h1m51 0h1m-135 1h1m9 0h1m2 0h1m3 0h1m1 0h1m20 0h1m4 0h1m1 0h1m2 0h1m12 0h1m10 0h1m25 0h1m-102 1h1m4 0h1m8 0h1m3 0h1m26 0h1m15 0h1m25 0h1m6 0h1m40 0h1m-136 1h2m31 0h1m34 0h1m16 0h1m1 0h2m9 0h1m36 0h1m-136 1h1m16 0h1m1 0h1m1 0h1m1 0h1m3 0h1m5 0h1m14 0h1m4 0h2m1 0h1m5 0h1m25 0h1m2 0h1m-94 1h1m21 0h1m2 0h1m15 0h1m42 0h1m2 0h1m7 0h1m19 0h1m-106 1h1m4 0h3m8 0h1m16 0h1m37 0h1m14 0h1m-94 1h1m15 0h1m15 0h1m7 0h1m10 0h1m4 0h1m13 0h1m10 0h1m3 0h1m-88 1h1m30 0h3m2 0h1m22 0h1m8 0h1m12 0h1m5 0h1m22 0h1m1 0h1m3 0h1m4 0h1m9 0h1m-135 1h2m24 0h1m6 0h1m27 0h1m29 0h2m9 0h1m1 0h1m10 0h1m23 0h1m-124 1h1m1 0h1m20 0h1m8 0h1m34 0h1m8 0h1m41 0h1m-129 1h1m25 0h1m16 0h1m29 0h1m44 0h1m24 0h1m-138 1h1m41 0h1m3 0h1m2 0h1m5 0h2m26 0h1m5 0h1m-102 1h1m16 0h1m3 0h1m2 0h2m10 0h1m20 0h1m11 0h1m31 0h1m-94 1h1m7 0h1m16 0h1m14 0h2m11 0h1m2 0h1m11 0h1m11 0h1m1 0h1m20 0h1m-98 1h1m30 0h1m1 0h1m1 0h1m20 0h1m21 0h1m-66 1h1m9 0h1m7 0h1m5 0h1m13 0h1m5 0h1m26 0h1m18 0h1m21 0h1m-139 1h1m22 0h1m3 0h2m16 0h1m10 0h1m76 0h1m-125 1h1m7 0h1m26 0h1m24 0h2m8 0h1m3 0h1m10 0h1m11 0h1m11 0h1m-115 1h1m5 0h1m12 0h1m19 0h1m13 0h1m9 0h1m1 0h1m4 0h1m26 0h1m10 0h1m-100 1h1m7 0h1m41 0h1m5 0h1m9 0h1m23 0h1m12 0h1m-107 1h1m5 0h2m19 0h1m22 0h2m19 0h1m8 0h1m10 0h2m3 0h1m3 0h1m12 0h1m-126 1h1m10 0h1m20 0h1m28 0h1m-45 1h1m31 0h2m13 0h1m7 0h2m22 0h1m2 0h1m4 0h1m40 0h1m-142 1h1m2 0h1m5 0h1m1 0h1m1 0h1m2 0h1m20 0h1m29 0h1m4 0h1m22 0h1m12 0h1m-108 1h1m14 0h1m8 0h1m12 0h1m18 0h1m13 0h1m5 0h1m7 0h1m26 0h1m3 0h1m4 0h1m-126 1h2m22 0h1m3 0h1m12 0h1m17 0h1m7 0h1m1 0h2m20 0h1m12 0h1m15 0h1m4 0h1m19 0h1m-133 1h1m1 0h1m10 0h1m1 0h1m41 0h1m2 0h2m35 0h1m-98 1h1m20 0h1m1 0h1m15 0h2m16 0h2m1 0h1m2 0h1m7 0h1m8 0h1m2 0h1m21 0h1m11 0h1m-92 1h1m5 0h1m28 0h1m30 0h1m-105 1h1m4 0h1m14 0h1m2 0h1m10 0h1m19 0h1m3 0h1m1 0h1m17 0h1m18 0h1m6 0h1m2 0h1m3 0h1m37 0h1m-61 1h1m27 0h1m-100 1h1m2 0h1m10 0h1m22 0h1m13 0h1m3 0h1m10 0h1m-45 1h2m9 0h1m43 0h1m-94 1h1m17 0h2m9 0h1m11 0h1m1 0h1m13 0h1m8 0h1m11 0h2m9 0h1m3 0h1m3 0h1m-74 1h2m4 0h1m15 0h1m17 0h1m3 0h1m12 0h1m27 0h1m12 0h1m4 0h1m-128 1h2m21 0h1m11 0h1m24 0h1m27 0h1m2 0h1m10 0h1m-96 1h1m7 0h1m6 0h1m20 0h1m2 0h1m36 0h1m2 0h1m2 0h1m2 0h1m29 0h1m-113 1h1m6 0h1m2 0h1m1 0h2m2 0h2m19 0h1m4 0h1m21 0h1m6 0h1m1 0h1m63 0h1m-145 1h1m3 0h1m21 0h1m3 0h1m18 0h1m8 0h1m18 0h1m9 0h1m12 0h1m9 0h1m28 0h1m-135 1h1m7 0h1m9 0h1m5 0h1m3 0h1m41 0h1m14 0h1m-96 1h1m24 0h1m21 0h1m9 0h1m8 0h1m13 0h1m2 0h1m20 0h1m39 0h1m-135 1h1m5 0h1m4 0h1m9 0h1m5 0h1m10 0h1m2 0h1m16 0h1m14 0h1m7 0h1m1 0h1m2 0h1m18 0h1m-111 1h1m61 0h1m-67 1h1m8 0h1m12 0h1m27 0h1m4 0h1m7 0h1m6 0h1m2 0h1m1 0h1m1 0h1m3 0h1m9 0h1m3 0h1m-70 1h1m18 0h1m8 0h1m27 0h1m2 0h1m-78 1h1m14 0h2m10 0h1m7 0h1m30 0h1m15 0h1m1 0h1m7 0h1m2 0h1m10 0h1m-106 1h1m1 0h2m19 0h1m26 0h1m6 0h1m11 0h1m4 0h1m1 0h1m22 0h1m-109 1h1m12 0h1m7 0h1m25 0h1m30 0h1m8 0h1m11 0h1m-75 1h1m3 0h1m7 0h1m62 0h1m-100 1h1m9 0h1m14 0h1m35 0h1m17 0h1m19 0h1m7 0h1m-111 1h1m7 0h1m1 0h1m11 0h1m5 0h1m32 0h1m5 0h1m3 0h1m1 0h1m56 0h1m-97 1h1m16 0h1m20 0h1m7 0h1m-73 1h1m4 0h1m12 0h1m15 0h1m3 0h1m36 0h1m4 0h1m51 0h1m-111 1h1m18 0h1m15 0h1m7 0h1m11 0h1m17 0h1m36 0h1m-134 1h1m2 0h1m9 0h1m2 0h1m3 0h1m6 0h1m39 0h2m8 0h1m1 0h1m18 0h1m14 0h1m-117 1h1m18 0h1m13 0h1m2 0h1m1 0h1m4 0h1m1 0h1m30 0h1m6 0h2m15 0h1m45 0h1m-150 1h1m20 0h1m39 0h1m4 0h1m62 0h1m-96 1h1m2 0h1m2 0h1m1 0h1m58 0h1m15 0h1m1 0h1m-120 1h1m17 0h1m42 0h1m1 0h1m9 0h1m10 0h1m1 0h1m16 0h1m25 0h1m4 0h1m-123 1h1m70 0h2m6 0h1m25 0h1m-77 1h1m5 0h1m30 0h1m1 0h1m-81 1h2m1 0h1m72 0h1m20 0h2m1 0h1m-98 1h1m8 0h1m9 0h1m7 0h1m4 0h1m13 0h1m20 0h1m1 0h1m9 0h1m14 0h2m18 0h1m-111 1h1m1 0h1m17 0h1m60 0h2m29 0h1m14 0h1m-129 1h1m7 0h1m27 0h1m4 0h1m1 0h1m34 0h1m5 0h1m8 0h1m39 0h1m-131 1h1m15 0h1m2 0h1m29 0h1m4 0h1m-57 1h1m25 0h1m1 0h1m12 0h1m7 0h1m7 0h1m1 0h1m72 0h1m-132 1h1m14 0h1m16 0h1m4 0h1m6 0h1m42 0h2m5 0h1m-96 1h1m18 0h1m13 0h1m8 0h1m15 0h1m22 0h1m20 0h1m7 0h1m-101 1h1m4 0h1m10 0h2m10 0h1m2 0h1m51 0h1m38 0h1m-132 1h1m1 0h1m2 0h1m7 0h1m1 0h2m23 0h1m16 0h1m15 0h1m12 0h1m2 0h1m-92 1h1m21 0h1m2 0h1m1 0h2m2 0h1m3 0h1m8 0h1m3 0h1m6 0h1m35 0h1m19 0h1m-92 1h1m4 0h1m2 0h1m1 0h1m4 0h1m60 0h1m21 0h1m19 0h1m4 0h1m-149 1h1m24 0h1m11 0h1m22 0h1m24 0h1m-51 1h2m2 0h1m22 0h1m13 0h1m14 0h1m-48 1h1m22 0h1m6 0h1m2 0h1m2 0h1m8 0h1m2 0h1m11 0h1m-101 1h1m3 0h1m7 0h1m21 0h1m45 0h1m2 0h1m14 0h1m-86 1h1m8 0h1m5 0h1m7 0h1m7 0h1m2 0h1m16 0h2m14 0h1m18 0h1m-102 1h1m5 0h1m16 0h1m12 0h1m13 0h1m9 0h1m4 0h1m17 0h1m-62 1h2m8 0h2m22 0h1m3 0h1m11 0h1m8 0h1m1 0h1m26 0h1m3 0h1m31 0h1m-150 1h1m16 0h1m6 0h1m45 0h1m15 0h1m32 0h1m-118 1h1m41 0h1m5 0h2m33 0h1m2 0h1m2 0h1m27 0h1m14 0h1m9 0h1m-116 1h1m38 0h1m19 0h1m-31 1h1m4 0h1m24 0h1m12 0h1m9 0h1m7 0h1m19 0h1m-118 1h1m12 0h2m17 0h1m31 0h1m-48 1h1m15 0h1m53 0h1m34 0h1m-144 1h1m21 0h2m2 0h1m12 0h1m4 0h1m8 0h1m31 0h1m2 0h1m19 0h1m-110 1h1m32 0h1m58 0h1m18 0h1m12 0h1m-84 1h1m36 0h1m9 0h1m3 0h1m5 0h1m12 0h1m5 0h1m1 0h1m-118 1h1m17 0h1m7 0h1m27 0h1m29 0h1m-75 1h1m1 0h1m12 0h1m7 0h2m9 0h2m15 0h1m1 0h1m2 0h1m20 0h1m-85 1h1m15 0h1m25 0h1m4 0h1m1 0h1m18 0h1m17 0h1m2 0h1m22 0h1m6 0h1m-85 1h2m6 0h1m4 0h1m4 0h1m4 0h1m12 0h1m11 0h1m28 0h1m21 0h1m4 0h1m4 0h1m-149 1h1m20 0h1m8 0h1m17 0h1m22 0h3m12 0h1m1 0h1m1 0h1m10 0h1m16 0h1m19 0h1m-136 1h1m4 0h1m5 0h1m6 0h1m21 0h1m4 0h1m28 0h1m-59 1h1m10 0h1m35 0h1m6 0h1m5 0h1m7 0h1m3 0h1m46 0h1m-139 1h1m6 0h1m21 0h1m29 0h1m6 0h1m6 0h1m-47 1h1m25 0h1m8 0h1m4 0h1m9 0h1m6 0h1m21 0h1m-108 1h1m1 0h1m9 0h1m1 0h1m4 0h1m13 0h1m29 0h1m65 0h1m-127 1h1m3 0h1m1 0h1m9 0h1m2 0h1m3 0h1m8 0h1m43 0h1m1 0h1m29 0h1m-45 1h1m45 0h1m25 0h1m-136 1h2m1 0h1m10 0h1m14 0h1m6 0h1m35 0h1m1 0h1m6 0h1m-68 1h1m25 0h1m46 0h1m4 0h1m20 0h1m-117 1h1m6 0h1m27 0h1m12 0h1m16 0h1m5 0h1m3 0h1m3 0h1m2 0h1m-70 1h1m7 0h1m23 0h1m17 0h1m7 0h1m3 0h2m24 0h1m6 0h1m9 0h1m19 0h1m9 0h1m-151 1h1m11 0h1m31 0h1m1 0h1m46 0h1m8 0h1m5 0h1m-101 1h1m22 0h1m11 0h1m46 0h1m1 0h1m2 0h1m4 0h1m49 0h1m-132 1h1m22 0h1m7 0h1m1 0h1m17 0h1m15 0h1m16 0h1m4 0h1m16 0h1m-118 1h2m23 0h1m17 0h1m14 0h1m19 0h1m58 0h1m-134 1h1m2 0h1m12 0h1m12 0h1m16 0h1m15 0h1m3 0h1m6 0h2m21 0h1m-87 1h2m3 0h2m59 0h1m13 0h1m-71 1h1m10 0h1m23 0h1m11 0h1m3 0h1m1 0h1m11 0h1m3 0h1m-95 1h1m52 0h1m19 0h2m4 0h1m38 0h1m-117 1h1m39 0h1m13 0h1m3 0h1m2 0h1m2 0h1m11 0h1m12 0h1m4 0h1m14 0h1m-113 1h1m5 0h1m4 0h2m4 0h2m6 0h2m6 0h1m8 0h1m16 0h1m28 0h1m55 0h1m-128 1h1m6 0h1m8 0h1m42 0h1m7 0h1m-35 1h1m47 0h1m35 0h1m-116 1h1m11 0h2m12 0h1m20 0h1m1 0h1m31 0h1m-90 1h1m3 0h1m16 0h1m7 0h2m17 0h1m4 0h1m2 0h2m15 0h1m8 0h1m5 0h1m8 0h1m-76 1h1m62 0h1m27 0h1m9 0h1m-135 1h1m3 0h1m9 0h1m8 0h1m45 0h1m14 0h1m11 0h1m-103 1h1m3 0h1m44 0h1m11 0h1m3 0h1m6 0h1m33 0h1m-103 1h1m15 0h2m30 0h1m21 0h1m14 0h1m10 0h1m-90 1h1m12 0h1m12 0h1m11 0h1m19 0h1m22 0h1m6 0h2m-100 1h1m53 0h1m8 0h1m3 0h1m10 0h1m10 0h1m19 0h1m-110 1h1m34 0h1m27 0h1m14 0h1m-52 1h1m25 0h1m2 0h1m22 0h1m2 0h1m12 0h1m7 0h1m9 0h1m-112 1h1m11 0h1m2 0h1m43 0h1m18 0h1m11 0h1m11 0h1m34 0h1m-138 1h1m2 0h1m4 0h1m9 0h1m18 0h1m12 0h1m1 0h1m5 0h1m4 0h1m38 0h1m2 0h1m16 0h1m4 0h1m9 0h1m-136 1h1m29 0h1m32 0h1m13 0h1m7 0h2m48 0h1m9 0h1m-145 1h1m6 0h1m6 0h1m3 0h1m9 0h2m4 0h1m34 0h1m11 0h1m57 0h1m-144 1h1m8 0h1m51 0h1m16 0h1m1 0h1m15 0h1m9 0h1m-103 1h1m7 0h1m19 0h1m57 0h1m6 0h1m8 0h1m36 0h1m-137 1h1m29 0h3m48 0h1m4 0h1m1 0h1m3 0h1m14 0h1m8 0h1m-122 1h1m18 0h1m2 0h1m33 0h1m3 0h1m5 0h1m4 0h1m6 0h1m7 0h2m1 0h1m3 0h1m5 0h1m8 0h1m-103 1h1m22 0h1m15 0h1m38 0h1m16 0h1m12 0h1m-108 1h1m6 0h1m6 0h1m50 0h1m13 0h1m5 0h1m5 0h1m11 0h1m30 0h1m-140 1h1m27 0h1m21 0h1m22 0h1m12 0h1m1 0h1m9 0h1m-101 1h1m4 0h1m10 0h1m29 0h1m8 0h1m22 0h1m2 0h1m5 0h1m20 0h1m-110 1h1m33 0h1m5 0h1m24 0h1m12 0h1m28 0h1m-59 1h1m11 0h2m12 0h1m21 0h1m2 0h1m6 0h1m-107 1h1m14 0h1m7 0h1m1 0h1m3 0h1m1 0h1m9 0h1m-46 1h1m29 0h1m37 0h1m3 0h1m1 0h1m8 0h1m1 0h1m2 0h1m-87 1h2m63 0h1m6 0h1m8 0h1m1 0h1m7 0h1m-93 1h1m15 0h2m39 0h1m7 0h2m5 0h1m19 0h1m5 0h2m11 0h1m3 0h1m-115 1h1m1 0h1m2 0h1m14 0h1m36 0h1m13 0h2m13 0h1m4 0h1m2 0h1m43 0h1m-105 1h1m4 0h1m16 0h1m31 0h1m12 0h1m8 0h1m7 0h1m-119 1h1m7 0h1m8 0h1m2 0h1m16 0h2m8 0h1m4 0h2m6 0h1m1 0h1m19 0h1m7 0h1m1 0h1m3 0h1m19 0h1m1 0h1m-116 1h1m24 0h1m3 0h1m33 0h1m23 0h1m5 0h1m51 0h1m-143 1h1m13 0h1m8 0h1m6 0h2m6 0h1m5 0h1m4 0h1m28 0h1m3 0h1m1 0h1m7 0h1m17 0h1m31 0h1m-148 1h1m15 0h1m4 0h1m4 0h1m8 0h1m7 0h1m26 0h1m23 0h1m-81 1h1m32 0h1m12 0h1m1 0h1m23 0h1m1 0h1m7 0h1m1 0h1m10 0h1m3 0h1m-112 1h1m9 0h1m23 0h1m15 0h1m1 0h1m3 0h1m5 0h1m1 0h1m12 0h1m3 0h1m1 0h1m3 0h1m5 0h1m-90 1h1m36 0h1m18 0h1m50 0h1m-107 1h1m40 0h1m12 0h3m3 0h1m16 0h1m1 0h1m20 0h1m14 0h1m-124 1h1m17 0h1m2 0h1m4 0h1m22 0h1m3 0h1m6 0h1m12 0h1m10 0h1m12 0h1m10 0h1m3 0h1m-62 1h1m8 0h1m1 0h1m2 0h1m16 0h1m-76 1h1m13 0h2m12 0h1m5 0h1m2 0h1m1 0h1m6 0h1m22 0h1m2 0h1m10 0h1m3 0h1m3 0h2m12 0h1m-113 1h1m40 0h1m23 0h1m13 0h1m7 0h1m15 0h1m2 0h1m9 0h1m-111 1h1m4 0h1m5 0h1m1 0h1m6 0h1m16 0h1m24 0h1m17 0h1m-83 1h1m3 0h1m9 0h1m4 0h1m32 0h1m24 0h1m4 0h1m3 0h2m2 0h1m19 0h1m23 0h1m-123 1h1m27 0h1m9 0h1m9 0h1m17 0h2m7 0h1m5 0h1m30 0h1m-94 1h2m7 0h1m13 0h1m6 0h1m20 0h1m9 0h1m1 0h1m2 0h1m8 0h1m27 0h1m-128 1h2m1 0h1m5 0h1m1 0h1m3 0h1m47 0h1m3 0h1m2 0h1m41 0h1m-110 1h1m14 0h1m2 0h1m15 0h1m29 0h1m8 0h1m50 0h1m-132 1h1m38 0h1m13 0h1m11 0h1m6 0h2m6 0h1m22 0h1m3 0h1m3 0h1m-92 1h1m32 0h1m36 0h1m-77 1h1m2 0h1m17 0h1m1 0h1m1 0h1m8 0h1m2 0h1m19 0h1m2 0h1m8 0h1m3 0h1m6 0h1m16 0h1m4 0h1m4 0h1m-130 1h1m14 0h1m2 0h1m19 0h1m30 0h1m3 0h1m8 0h1m-83 1h1m2 0h1m2 0h1m11 0h1m37 0h1m12 0h1m12 0h2m40 0h1m19 0h1m-142 1h1m21 0h1m49 0h1m3 0h1m12 0h1m3 0h1m14 0h1m-90 1h1m2 0h1m9 0h1m21 0h1m1 0h1m64 0h1m-123 1h1m4 0h1m3 0h1m51 0h1m15 0h1m18 0h1m3 0h1m8 0h1m22 0h1m-131 1h1m18 0h1m3 0h1m15 0h1m6 0h1m29 0h1m5 0h1m8 0h1m1 0h1m46 0h1m-125 1h1m6 0h1m13 0h1m8 0h1m3 0h1m13 0h1m6 0h1m3 0h1m7 0h1m5 0h2m49 0h1m-132 1h1m32 0h1m33 0h1m2 0h1m3 0h2m3 0h1m6 0h1m15 0h1m3 0h1m19 0h1m-131 1h1m39 0h1m40 0h1m3 0h1m10 0h1m23 0h1m-130 1h2m53 0h1m1 0h1m1 0h1m27 0h1m9 0h1m7 0h1m-107 1h1m12 0h1m5 0h2m1 0h1m11 0h1m18 0h1m1 0h2m2 0h1m28 0h1m4 0h1m12 0h1m-72 1h1m63 0h1m20 0h1m19 0h1m-123 1h1m20 0h1m3 0h1m12 0h1m10 0h1m6 0h1m5 0h1m33 0h1m5 0h1m4 0h1m-122 1h1m12 0h1m2 0h1m50 0h1m21 0h1m6 0h1m1 0h1m9 0h1m-104 1h2m2 0h1m5 0h1m8 0h1m3 0h1m1 0h1m28 0h1m7 0h1m8 0h1m3 0h1m2 0h1m11 0h1m18 0h1m-110 1h1m13 0h1m25 0h1m14 0h1m7 0h1m9 0h1m2 0h1m6 0h1m13 0h1m-82 1h1m3 0h1m22 0h1m17 0h1m21 0h1m4 0h1m1 0h1m10 0h1m1 0h1m7 0h1m9 0h1m-125 1h1m42 0h1m39 0h1m24 0h1m-60 1h1m3 0h1m14 0h1m4 0h1m13 0h1m4 0h1m2 0h2m27 0h1m-114 1h1m6 0h1m18 0h1m6 0h1m4 0h1m20 0h1m6 0h1m26 0h1m29 0h1m-124 1h1m32 0h1m7 0h1m20 0h1m16 0h2m42 0h1m-120 1h1m1 0h1m13 0h1m15 0h1m34 0h1m10 0h1m50 0h1m-139 1h1m46 0h1m13 0h1m-57 1h1m11 0h1m4 0h1m4 0h1m5 0h1m23 0h1m1 0h1m2 0h1m7 0h2m15 0h1m12 0h1m3 0h1m33 0h1m-144 1h1m11 0h1m3 0h1m10 0h1m1 0h1m10 0h1m4 0h1m8 0h1m23 0h1m3 0h1m35 0h1m4 0h1m-72 1h1m26 0h1m3 0h1m34 0h1m-124 1h1m5 0h1m3 0h1m9 0h1m6 0h1m15 0h1m28 0h1m12 0h1m14 0h1m-83 1h1m21 0h1m2 0h3m5 0h1m9 0h1m2 0h2m2 0h1m18 0h1m22 0h1m-100 1h1m10 0h1m31 0h1m1 0h1m55 0h1m-114 1h1m12 0h1m32 0h1m2 0h1m13 0h1m17 0h1m-81 1h1m22 0h1m7 0h1m3 0h1m30 0h1m2 0h1m11 0h1m1 0h1m13 0h1m10 0h1m14 0h1m-126 1h1m1 0h1m38 0h1m24 0h2m46 0h1m5 0h1m-72 1h1m9 0h1m5 0h1m15 0h1m17 0h1m14 0h1m35 0h1m-146 1h1m28 0h1m2 0h1m2 0h1m6 0h1m12 0h1m9 0h1m12 0h1m21 0h1m8 0h1m35 0h1m-149 1h1m24 0h1m18 0h1m2 0h1m3 0h1m29 0h1m6 0h1m1 0h1m7 0h1m-82 1h2m20 0h1m3 0h1m19 0h1m18 0h1m4 0h1m3 0h1m12 0h1m18 0h1m-114 1h1m4 0h1m23 0h1m3 0h1m3 0h1m20 0h1m3 0h1m5 0h2m2 0h1m33 0h1m6 0h1m-117 1h1m3 0h1m3 0h1m27 0h1m11 0h1m9 0h1m28 0h1m-82 1h1m19 0h1m5 0h1m7 0h1m2 0h1m14 0h1m6 0h1m10 0h1m-45 1h1m32 0h1m16 0h1m26 0h1m-114 1h1m9 0h1m22 0h1m31 1h1m21 0h1m13 0h1m3 0h1m-106 1h1m22 0h1m17 0h1m12 0h1m10 0h1m1 0h1m1 0h1m5 0h1m24 0h1m-100 1h1m21 0h1m21 0h1m14 0h1m19 0h1m3 0h1m18 0h1m-107 1h1m7 0h1m22 0h1m2 0h2m21 0h1m1 0h1m8 0h1m2 0h2m5 0h1m59 0h1m-136 1h1m1 0h1m42 0h1m1 0h1m14 0h2m2 0h1m12 0h1m4 0h1m1 0h1m4 0h1m23 0h1m29 0h1m-121 1h1m6 0h1m4 0h1m4 0h2m81 0h1m-110 1h1m28 0h1m7 0h2m2 0h2m7 0h1m3 0h1m7 0h1m5 0h1m24 0h1m-106 1h1m9 0h2m34 0h1m3 0h1m12 0h1m9 0h1m4 0h1m4 0h1m6 0h1m14 0h1m35 0h1m-142 1h2m78 0h2m34 0h1m14 0h1m-98 1h1m31 0h1m16 0h2m26 0h1m9 0h1m4 0h1m-132 1h1m4 0h1m19 0h1m6 0h1m3 0h1m5 0h1m3 0h1m3 0h1m1 0h1m7 0h1m1 0h1m18 0h1m6 0h1m11 0h2m6 0h1m27 0h1m-135 1h1m19 0h2m22 0h1m7 0h1m5 0h1m16 0h1m1 0h1m22 0h1m11 0h1m-111 1h1m6 0h1m10 0h1m8 0h1m10 0h1m31 0h1m35 0h1m5 0h1m29 0h1m-145 1h1m26 0h1m7 0h1m4 0h1m33 0h1m22 0h1m-84 1h1m1 0h1m41 0h1m18 0h1m5 0h1m40 0h1m-130 1h1m20 0h1m2 0h1m36 0h1m17 0h1m6 0h2m4 0h1m-94 1h2m4 0h1m8 0h1m34 0h1m1 0h1m20 0h1m6 0h1m6 0h1m24 0h1m-112 1h1m1 0h1m5 0h1m13 0h1m4 0h1m17 0h1m22 0h1m75 0h1m-141 1h2m8 0h1m6 0h2m33 0h1m10 0h1m2 0h1m30 0h1m3 0h1m7 0h1m-102 1h2m4 0h1m27 0h2m3 0h1m15 0h1m3 0h1m12 0h1m4 0h1m-64 1h1m6 0h1m6 0h1m8 0h1m13 0h1m16 0h1m1 0h1m13 0h1m5 0h2m5 0h1m-109 1h1m9 0h1m15 0h1m5 0h1m16 0h1m3 0h1m11 0h1m1 0h1m7 0h1m52 0h1m19 0h1m-144 1h1m9 0h1m8 0h1m1 0h1m6 0h1m6 0h1m3 0h1m20 0h1m16 0h1m14 0h1m5 0h1m-46 1h1m5 0h1m1 0h1m1 0h1m-69 1h1m12 0h1m14 0h1m33 0h1m24 0h1m6 0h1m3 0h1m24 0h1m-119 1h1m2 0h1m7 0h1m12 0h1m5 0h1m8 0h1m25 0h1m2 0h1m1 0h1m23 0h1m2 0h1m3 0h1m21 0h1m-121 1h1m13 0h3m23 0h1m9 0h1m9 0h1m-67 1h1m21 0h1m4 0h1m3 0h1m1 0h1m18 0h1m26 0h1m17 0h1m10 0h1m32 0h1m-134 1h1m10 0h1m11 0h1m14 0h1m32 0h1m-65 1h1m6 0h1m1 0h1m14 0h1m1 0h1m35 0h1m23 0h1m2 0h1m16 0h1m-111 1h1m1 0h1m4 0h2m1 0h1m1 0h1m1 0h1m1 0h1m34 0h1m9 0h1m14 0h1m4 0h1m6 0h1m1 0h1m6 0h1m-108 1h1m23 0h1m4 0h1m26 0h1m11 0h1m1 0h1m25 0h1m10 0h1m12 0h1m14 0h1m-138 1h1m32 0h1m8 0h1m18 0h1m17 0h1m19 0h1m7 0h1m1 0h1m37 0h1m-142 1h1m18 0h1m41 0h1m17 0h1m8 0h1m20 0h1m6 0h1m19 0h1m-137 1h1m7 0h1m26 0h1m12 0h1m16 0h1m23 0h1m41 0h1m-126 1h1m23 0h1m11 0h1m47 0h1m3 0h1m6 0h1m-108 1h1m6 0h1m4 0h1m1 0h1m4 0h1m18 0h1m13 0h1m54 0h1m34 0h1m-138 1h2m8 0h1m6 0h1m12 0h1m7 0h1m7 0h1m20 0h1m54 0h1m-86 1h1m14 0h1m2 0h2m20 0h1m7 0h1m36 0h1m19 0h1m-150 1h1m39 0h1m5 0h1m31 0h1m3 0h1m34 0h1m-111 1h1m8 0h1m17 0h2m19 0h1m4 0h1m13 0h1m15 0h1m6 0h1m-93 1h1m10 0h1m31 0h1m35 0h1m5 0h2m1 0h1m35 0h1m-130 1h1m8 0h1m2 0h1m4 0h1m18 0h1m8 0h3m7 0h1m3 0h1m6 0h1m14 0h1m4 0h1m4 0h1m32 0h1m-124 1h2m9 0h1m1 0h1m18 0h1m2 0h1m12 0h1m20 0h1m6 0h1m19 0h1m31 0h1m-127 1h1m19 0h1m18 0h1m2 0h1m3 0h1m19 0h1m3 0h2m13 0h2m6 0h1m7 0h1m44 0h1m-111 1h1m12 0h1m14 0h1m33 0h1m9 0h1m32 0h1m-121 1h1m12 0h1m1 0h1m5 0h1m12 0h1m17 0h1m-44 1h1m1 0h1m7 0h1m1 0h1m35 0h1m27 0h1m9 0h1m9 0h1m19 0h1m-132 1h1m13 0h1m6 0h1m8 0h2m33 0h1m5 0h1m2 0h1m7 0h2m-103 1h1m29 0h1m7 0h1m7 0h1m3 0h1m13 0h1m9 0h1m4 0h1m24 0h1m20 0h1m-125 1h1m1 0h1m6 0h1m8 0h1m1 0h1m6 0h2m12 0h1m15 0h1m2 0h1m12 0h1m12 0h1m-75 1h1m3 0h1m9 0h1m13 0h1m13 0h1m2 0h1m3 0h1m34 0h1m3 0h1m-73 1h1m11 0h1m3 0h1m16 0h1m4 0h1m12 0h1m8 0h1m11 0h1m-95 1h1m48 0h1m3 0h1m3 0h1m10 0h1m13 0h1m13 0h2m-104 1h1m47 0h1m9 0h1m5 0h1m8 0h1m3 0h1m1 0h1m1 0h1m-76 1h1m4 0h1m11 0h1m49 0h1m4 0h1m22 0h1m-95 1h1m13 0h1m37 0h1m39 0h1m2 0h1m-95 1h1m33 0h1m8 0h1m29 0h1m4 0h1m15 0h1m14 0h1m16 0h1m-112 1h1m12 0h1m19 0h1m26 0h1m17 0h1m-99 1h1m8 0h1m26 0h1m10 0h1m3 0h1m17 0h1m9 0h1m3 0h1m-79 1h1m6 0h1m6 0h1m11 0h1m27 0h2m5 0h1m41 0h1m-106 1h1m2 0h1m4 0h1m1 0h1m10 0h1m3 0h1m4 0h1m11 0h1m27 0h1m2 0h2m11 0h1m16 0h1m19 0h1m-130 1h1m5 0h1m2 0h1m13 0h1m11 0h1m2 0h1m1 0h1m18 0h1m19 0h1m1 0h1m25 0h1m-108 1h1m15 0h1m16 0h1m2 0h1m8 0h1m11 0h1m38 0h1m4 0h1m-99 1h1m32 0h2m11 0h1m4 0h1m30 0h1m43 0h1m-117 1h1m7 0h1m27 0h1m14 0h1m13 0h2m5 0h1m11 0h1m4 0h1m8 0h1m-91 1h1m15 0h1m16 0h1m6 0h1m6 0h2m11 0h1m4 0h1m10 0h1m46 0h1m-137 1h1m5 0h1m3 0h1m14 0h1m25 0h1m3 0h1m4 0h1m23 0h1m7 0h2m1 0h1m-102 1h1m3 0h1m26 0h1m3 0h1m30 0h1m19 0h2m1 0h1m7 0h1m-101 1h1m24 0h1m4 0h1m26 0h1m3 0h1m20 0h1m7 0h1m17 0h1m3 0h1m27 0h1m-123 1h1m9 0h1m3 0h1m9 0h1m3 0h1m35 0h1m1 0h1m2 0h1m8 0h2m14 0h1m32 0h1m4 0h1m-134 1h1m1 0h1m35 0h1m1 0h1m2 0h1m19 0h1m-73 1h1m37 0h1m3 0h1m34 0h1m2 0h1m56 0h1m-137 1h1m12 0h1m10 0h1m2 0h1m35 0h1m-46 1h1m9 0h1m26 0h1m-57 1h1m3 0h1m2 0h1m11 0h1m1 0h1m1 0h1m7 0h1m14 0h1m3 0h1m2 0h1m31 0h1m22 0h1m3 0h1m-106 1h1m14 0h1m11 0h1m6 0h1m52 0h1m-33 1h1m8 0h1m9 0h1m1 0h2m25 0h1m21 0h1m9 0h1m-143 1h1m9 0h1m31 0h1m14 0h1m13 0h1m1 0h1m14 0h1m43 0h1m4 0h1m4 0h1m-131 1h1m2 0h2m11 0h1m5 0h1m7 0h1m6 0h1m5 0h1m28 0h1m-86 1h1m3 0h1m24 0h1m4 0h1m4 0h1m3 0h1m6 0h1m11 0h1m10 0h1m4 0h1m11 0h1m14 0h1m12 0h1m-119 1h2m13 0h1m17 0h1m13 0h1m16 0h1m6 0h1m8 0h1m16 0h1m-105 1h1m14 0h1m1 0h1m1 0h1m8 0h1m17 0h1m11 0h1m29 0h1m36 0h1m-94 1h1m13 0h1m22 0h1m3 0h1m28 0h1m42 0h1m-98 1h1m15 0h1m8 0h1m1 0h1m14 0h1m-86 1h1m42 0h2m2 0h1m1 0h1m36 0h1m53 0h1m-115 1h1m4 0h1m4 0h1m19 0h1m28 0h1m5 0h3m21 0h1m4 0h1m24 0h1m-145 1h1m25 0h1m4 0h1m3 0h1m1 0h1m4 0h1m13 0h1m11 0h1m-69 1h1m18 0h1m8 0h2m10 0h1m38 0h2m2 0h2m2 0h1m12 0h1m9 0h1m-93 1h1m8 0h1m3 0h1m1 0h1m10 0h1m7 0h1m2 0h1m22 0h1m-77 1h1m9 0h1m52 0h1m6 0h1m1 0h2m3 0h1m1 0h1m6 0h1m35 0h1m-122 1h1m10 0h1m27 0h1m31 0h1m3 0h1m13 0h2m8 0h1m-107 1h1m1 0h1m1 0h1m31 0h1m5 0h2m37 0h1m20 0h1m45 0h1m-147 1h1m17 0h1m20 0h1m7 0h1m25 0h1m2 0h1m1 0h1m8 0h1m1 0h1m12 0h1m28 0h1m-128 1h1m3 0h1m2 0h1m3 0h1m7 0h1m17 0h2m3 0h1m10 0h1m6 0h1m1 0h2m3 0h1m5 0h1m6 0h2m-65 1h1m7 0h1m32 0h1m23 0h1m5 0h1m23 0h1m-98 1h1m1 0h1m20 0h1m20 0h1m8 0h1m7 0h1m1 0h1m16 0h1m21 0h1m4 0h1m-91 1h1m11 0h1m1 0h1m12 0h1m9 0h1m16 0h1m13 0h1m1 0h1m39 0h1m-148 1h1m6 0h1m8 0h1m2 0h1m2 0h1m18 0h1m23 0h1m11 0h1m4 0h1m4 0h1m-79 1h1m13 0h1m29 0h1m30 0h1m6 0h1m2 0h1m7 0h1m14 0h1m24 0h1m-135 1h2m1 0h1m11 0h1m7 0h1m9 0h1m47 0h1m17 0h1m-55 1h1m10 0h1m1 0h1m13 0h1m3 0h1m62 0h1m-133 1h1m4 0h2m49 0h1m2 0h2m13 0h1m11 0h1m35 0h1m-121 1h1m4 0h1m2 0h1m7 0h1m21 0h1m14 0h1m1 0h1m2 0h2m15 0h1m7 0h1m36 0h1m-133 1h1m12 0h1m14 0h1m33 0h1m11 0h1m3 0h1m8 0h1m-66 1h1m4 0h1m9 0h1m18 0h1m14 0h3m14 0h2m22 0h1m-114 1h1m9 0h1m22 0h1m21 0h1m4 0h1m14 0h2m32 0h1m-106 1h1m24 0h1m32 0h1m7 0h1m38 0h1m8 0h1m19 0h1m-140 1h1m15 0h1m12 0h1m30 0h1m4 0h1m2 0h1m7 0h1m11 0h1m15 0h1m-87 1h1m5 0h1m5 0h1m13 0h1m39 0h2m-83 1h1m8 0h1m17 0h1m6 0h1m40 0h1m2 0h1m30 0h1m11 0h1m-130 1h2m14 0h1m2 0h1m46 0h1m15 0h1m5 0h2m4 0h1m12 0h1m-101 1h1m6 0h1m21 0h1m12 0h1m2 0h1m29 0h2m4 0h1m2 0h1m11 0h1m9 0h1m30 0h1m-138 1h1m6 0h1m20 0h1m7 0h1m7 0h1m8 0h1m8 0h1m2 0h1m9 0h1m34 0h1m31 0h1m-151 1h1m32 0h2m45 0h1m8 0h1m7 0h1m18 0h1m-117 1h1m3 0h1m35 0h1m5 0h1m1 0h1m14 0h1m7 0h1m10 0h1m9 0h1m47 0h1m-135 1h1m4 0h1m28 0h1m19 0h1m1 0h1m23 0h1m2 0h1m3 0h1m9 0h1m1 0h1m2 0h1m-99 1h1m8 0h1m4 0h1m37 0h1m1 0h1m6 0h1m4 0h1m9 0h2m2 0h1m5 0h1m19 0h1m23 0h1m-108 1h2m11 0h1m9 0h1m24 0h1m17 0h1m3 0h1m1 0h1m-104 1h1m14 0h1m3 0h2m23 0h1m5 0h1m13 0h1m13 0h1m-26 1h1m8 0h1m27 1h1m3 0h1m9 0h1m38 0h1m4 0h1m-140 1h1m13 0h1m25 0h2m10 0h1m32 0h1m8 0h1m24 0h1m19 0h1m-134 1h1m4 0h1m1 0h1m17 0h1m12 0h1m11 0h1m1 0h1m23 0h1m-77 1h1m14 0h1m22 0h1m9 0h1m11 0h1m10 0h1m2 0h1m20 0h1m27 0h1m-136 1h1m4 0h1m15 0h1m62 0h1m6 0h2m-88 1h1m22 0h1m9 0h1m12 0h1m8 0h1m19 0h1m2 0h2m-86 1h1m1 0h1m6 0h1m4 0h1m11 0h1m18 0h1m5 0h1m6 0h1m5 0h1m10 0h1m13 0h1m14 0h1m-104 1h1m3 0h1m5 0h1m45 0h1m56 0h1m-118 1h1m8 0h1m19 0h1m22 0h1m17 0h1m6 0h1m6 0h1m49 0h1m4 0h1m-87 1h1m13 0h1m28 0h1m-70 1h1m45 0h1m4 0h1m21 0h1m6 0h1m-87 1h1m44 0h1m9 0h1m3 0h1m38 0h1m-117 1h1m2 0h1m33 0h1m13 0h1m7 0h1m14 0h1m13 0h1m6 0h1m3 0h1m36 0h1m-134 1h1m5 0h1m10 0h1m43 0h1m41 0h1m-101 1h1m17 0h1m19 0h1m5 0h1m6 0h1m24 0h1m9 0h1m8 0h1m19 0h1m-84 1h2m10 0h1m3 0h1m27 0h1m2 0h1m2 0h1m13 0h1m23 0h1m-69 1h1m1 0h1m53 0h1m-119 1h1m58 0h1m3 0h2m24 0h1m1 0h1m3 0h1m-86 1h1m47 0h1m28 0h1m10 0h1m26 0h1m-114 1h1m6 0h1m1 0h1m13 0h1m2 0h1m14 0h1m5 0h1m6 0h1m11 0h1m66 0h1m-142 1h1m37 0h1m3 0h1m88 0h1m-127 1h1m24 0h1m13 0h1m-39 1h1m11 0h1m12 0h2m20 0h1m4 0h1m-50 1h1m6 0h1m7 0h1m11 0h1m16 0h1m17 0h1m16 0h1m-90 1h2m1 0h1m15 0h1m10 0h1m8 0h1m2 0h2m27 0h1m6 0h1m38 0h1m24 0h1m-114 1h1m7 0h1m6 0h1m13 0h1m19 0h1m6 0h1m1 0h1m6 0h1m5 0h2m25 0h1m19 0h1m-149 1h1m22 0h1m4 0h1m4 0h1m1 0h1m7 0h1m4 0h1m28 0h1m19 0h1m30 0h1"/>
<path stroke="#472f7d" d="M26 19.5h1m-6 2h1m123 0h1m-1 2h1m-16 1h1m14 0h1m-114 1h1m90 0h1m-98 1h1m11 0h1m82 0h1m3 0h1m-11 1h1m3 0h1m-5 1h1m-102 1h1m9 0h1m3 0h1m5 0h1m10 0h1m2 0h2m3 0h3m9 0h1m5 0h1m5 0h1m24 0h1m8 0h1m13 0h1m-103 1h1m1 0h1m3 0h1m42 0h1m11 0h2m2 0h2m2 0h1m4 0h1m-85 1h1m5 0h1m16 0h1m8 0h1m3 0h1m1 0h1m11 0h1m15 0h1m7 0h1m9 0h1m6 0h1m20 0h1m-117 1h1m14 0h1m6 0h1m1 0h1m36 0h1m2 0h1m4 0h1m1 0h2m8 0h1m1 0h1m1 0h1m4 0h1m5 0h1m13 0h1m10 0h1m-119 1h1m4 0h2m5 0h1m3 0h1m10 0h1m11 0h1m7 0h1m8 0h1m6 0h1m5 0h2m6 0h1m3 0h1m2 0h1m3 0h1m8 0h1m-105 1h1m4 0h1m4 0h1m1 0h1m4 0h1m5 0h1m11 0h1m3 0h2m16 0h1m10 0h1m1 0h2m3 0h1m5 0h1m23 0h1m10 0h1m-104 1h1m14 0h1m2 0h1m7 0h1m4 0h1m2 0h1m24 0h1m4 0h1m4 0h1m1 0h1m5 0h1m25 0h1m-99 1h1m9 0h1m8 0h1m2 0h2m17 0h1m4 0h1m11 0h1m22 0h1m4 0h1m-93 1h1m5 0h1m47 0h1m4 0h1m4 0h1m16 0h1m14 0h1m-103 1h1m11 0h1m24 0h1m33 0h1m3 0h1m16 0h1m21 0h1m-108 1h1m1 0h1m18 0h1m12 0h1m29 0h1m1 0h1m9 1h1m16 0h1m-87 1h1m2 0h1m15 0h1m47 0h1m-52 1h1m34 0h1m17 0h1m20 0h1m-110 1h1m26 0h1m45 0h1m7 0h1m25 0h1m-108 1h1m75 0h1m30 0h1m26 0h1m14 0h1m-137 1h1m19 0h1m77 0h1m-61 1h1m21 0h1m16 0h1m-70 1h1m11 0h1m20 0h1m18 0h1m7 0h1m35 0h1m-100 1h1m11 0h1m29 0h1m2 0h1m10 0h1m-38 1h1m5 0h1m57 0h1m-86 1h1m2 0h1m43 0h1m8 0h1m2 0h1m18 0h1m-60 1h1m15 0h1m3 0h1m11 0h1m10 0h1m-17 1h1m-64 1h1m7 0h1m39 0h1m21 0h1m26 0h1m-75 1h1m26 0h1m94 0h1m4 0h1m-112 1h1m12 0h1m-50 1h1m19 0h1m15 0h1m40 0h1m2 0h1m61 0h1m-146 1h1m19 0h1m26 0h1m48 0h1m28 0h1m-118 1h1m23 0h1m10 0h1m19 0h1m-15 1h1m13 0h1m-12 1h1m67 0h1m-80 1h1m33 0h1m13 0h1m-31 1h1m8 0h1m15 0h1m18 0h1m4 0h1m-109 1h1m27 0h1m20 1h1m-46 1h1m45 0h1m18 0h1m22 0h1m-81 1h1m22 0h1m-32 1h1m19 0h1m4 0h1m49 0h1m24 0h1m-46 1h1m37 0h2m9 0h1m-108 1h1m9 0h1m25 0h1m15 0h1m35 0h1m-7 1h1m15 0h1m8 0h1m-35 1h1m27 0h1m15 0h1m-51 1h1m5 0h1m4 0h2m27 0h1m-91 1h1m93 0h1m5 0h1m-104 1h1m55 0h1m-55 1h1m18 0h1m13 0h1m13 0h1m18 0h1m18 0h1m-35 1h1m-32 1h1m-33 1h1m134 0h1m-135 1h1m43 0h1m19 0h1m21 0h1m-78 1h1m14 0h1m11 0h1m3 0h1m3 0h1m14 0h1m-47 1h1m10 0h1m16 0h1m10 0h1m-54 1h1m102 0h1m-102 1h1m51 0h1m31 0h1m4 0h1m-90 1h1m11 0h1m3 0h1m4 0h1m5 0h1m8 0h1m33 0h1m8 0h1m-59 1h1m5 0h1m68 0h1m8 0h1m27 0h1m-110 1h1m2 0h2m2 0h1m27 0h1m-45 1h1m68 0h1m26 0h1m-85 1h1m37 0h1m18 0h2m-81 1h1m9 0h1m18 0h1m-15 1h2m12 0h1m2 0h1m46 0h1m-58 1h1m11 0h1m41 0h1m7 0h1m-67 1h1m39 0h1m-49 1h1m41 0h1m28 0h1m-67 1h1m33 0h1m8 0h1m-2 1h1m21 0h1m-26 1h1m-3 1h1m17 0h1m2 0h1m5 0h1m48 0h1m-133 1h1m6 0h1m18 0h1m8 0h1m4 0h1m54 0h1m-71 1h1m1 0h1m4 0h1m39 0h1m37 0h1m-118 1h1m56 0h1m81 0h1m-57 1h1m-14 1h1m4 0h1m25 0h1m-100 1h1m38 0h1m49 0h1m6 0h1m3 0h1m-103 1h1m82 0h1m11 0h1m-73 1h1m11 0h1m59 0h1m-51 1h1m29 0h1m10 0h1m-66 1h1m46 0h1m-67 1h1m4 0h1m64 0h1m1 0h1m3 0h2m10 0h1m13 0h1m-63 1h1m6 0h1m9 0h1m16 0h1m20 0h1m9 0h1m36 0h1m-96 1h1m25 0h1m2 0h1m5 0h1m5 0h1m20 0h1m7 0h1m-103 1h1m2 0h1m19 0h2m32 0h1m3 0h1m2 0h1m33 0h1m-98 1h1m5 0h1m27 0h1m7 0h1m31 0h1m8 0h1m-102 1h1m8 0h1m114 0h1m-113 1h1m19 0h1m38 0h1m18 0h1m7 0h1m8 0h1m-102 1h1m31 0h1m31 0h1m-46 1h1m81 0h1m-103 1h1m71 0h2m11 0h1m-88 1h1m46 0h1m5 0h1m26 0h1m-51 1h1m52 0h1m17 0h1m44 0h1m-126 1h1m18 0h1m38 0h1m7 0h1m18 0h1m-104 1h1m15 0h1m25 0h1m1 0h1m10 0h1m10 0h1m17 0h1m38 0h1m-103 1h1m91 0h1m9 0h1m-69 1h1m6 0h1m75 0h1m-28 1h1m31 0h1m-101 1h1m28 0h1m2 0h1m25 0h1m31 0h1m-124 1h1m26 0h1m29 0h1m-51 1h1m11 0h1m59 0h1m-91 1h1m52 0h1m-47 1h1m60 0h1m1 0h1m4 0h1m3 0h1m13 0h1m4 0h1m45 0h1m-149 1h1m61 0h1m23 0h1m-80 1h1m18 0h1m7 0h1m9 0h1m6 0h1m6 0h1m10 0h1m11 0h1m36 0h1m-69 1h1m7 0h1m20 0h1m24 0h1m-11 1h1m-82 1h1m50 0h1m20 0h1m62 0h1m-114 1h1m64 0h1m47 0h1m-66 1h1m-69 1h1m31 0h1m58 0h1m-101 1h1m3 0h1m2 0h2m11 0h1m4 0h1m20 0h1m14 0h1m-63 1h2m52 0h1m17 0h2m27 0h1m-104 1h1m28 0h1m29 0h1m-50 1h1m14 0h2m48 0h1m7 0h1m3 0h1m37 0h1m-86 1h1m2 0h1m2 0h2m6 0h1m1 0h1m8 0h1m-70 1h1m23 0h1m8 0h2m3 0h1m13 0h1m2 0h1m4 0h1m30 0h1m10 0h1m4 0h1m3 0h1m-63 1h1m4 0h1m26 0h1m29 0h1m37 0h1m-146 1h1m1 0h1m2 0h1m17 0h2m2 0h1m4 0h1m41 0h1m11 0h1m28 0h1m19 0h1m-116 1h2m89 0h1m-92 1h1m35 0h1m7 0h1m5 0h1m4 0h1m22 0h1m-79 1h1m69 0h1m-53 1h1m8 0h1m52 0h1m24 0h1m14 0h1m-126 1h1m9 0h1m7 0h1m45 0h1m5 0h1m12 0h1m4 0h1m9 0h1m-94 1h1m34 0h1m43 0h1m-74 1h1m40 0h1m37 0h1m-111 1h1m75 0h1m7 0h1m14 0h1m8 0h1m-74 1h1m19 0h1m-28 1h1m27 0h1m17 0h1m-62 1h1m44 0h1m-37 1h1m26 0h1m-28 1h1m20 0h1m25 0h1m48 0h1m6 0h1m-114 1h1m66 0h1m5 0h1m-75 1h1m23 0h1m10 0h1m40 0h1m24 0h1m-94 1h1m16 0h1m8 0h1m33 0h1m5 0h1m1 0h1m42 0h1m14 0h1m-129 1h1m5 0h1m21 0h1m6 0h1m9 0h1m5 0h1m71 0h1m-131 1h1m16 0h1m18 0h1m2 0h1m5 0h1m27 0h1m24 0h1m-81 1h1m62 0h1m-91 1h1m3 0h1m25 0h1m-30 1h1m43 0h1m34 0h1m2 0h1m2 0h1m3 0h1m-53 1h1m39 0h1m-73 1h1m32 0h1m12 0h1m5 0h1m60 0h1m-119 1h1m41 0h1m2 0h1m35 0h1m56 0h1m-85 1h1m55 0h1m-67 1h1m13 0h1m30 0h1m10 0h1m1 0h1m3 0h1m5 0h1m-51 1h1m18 0h1m56 0h1m-135 1h1m13 1h1m5 0h1m56 0h1m1 0h1m6 0h1m17 0h1m-110 1h1m20 0h1m10 0h1m19 0h1m17 0h1m5 0h1m21 0h1m-45 1h1m32 0h1m56 0h1m-118 1h1m34 0h1m23 1h1m10 0h1m3 0h1m-86 1h1m25 0h1m17 0h1m10 0h1m-39 1h1m15 0h1m25 0h1m7 0h1m6 0h1m13 0h1m-57 1h2m7 0h1m17 0h1m10 0h1m37 0h1m24 0h1m-145 1h1m29 0h2m39 0h1m26 0h1m-90 1h1m11 0h1m60 0h1m-70 1h1m21 0h1m88 0h1m-123 1h1m19 0h1m2 0h1m17 0h1m58 0h1m16 0h1m9 0h1m-111 1h1m48 0h1m18 0h1m31 0h1m-93 1h1m42 0h1m17 0h1m4 0h1m20 0h1m-95 1h1m20 0h1m28 0h1m14 0h1m11 0h1m36 0h1m-118 1h1m37 0h1m36 0h1m21 0h1m-65 1h1m83 0h1m-97 1h1m26 0h1m15 0h1m-65 1h1m78 0h1m-97 1h1m6 0h1m1 0h1m13 0h1m14 0h1m4 0h1m18 0h1m14 0h1m-70 1h1m76 0h2m-43 1h1m-28 1h1m22 0h1m29 0h1m2 0h2m59 0h1m-62 1h1m23 0h1m-84 1h1m52 0h1m5 0h1m50 0h1m-106 1h1m64 0h1m-43 1h1m65 0h1m10 1h1m-113 1h1m1 0h1m3 0h1m19 0h1m27 1h1m5 1h1m-72 1h1m16 0h1m10 0h1m19 0h1m15 0h1m20 0h1m-35 1h1m19 0h1m6 0h1m6 0h1m-84 1h1m3 0h1m16 0h1m40 0h1m7 0h1m21 0h1m-90 1h1m7 0h1m7 0h1m56 0h1m2 0h1m3 0h1m37 0h1m-104 1h1m67 0h1m-70 1h2m15 0h1m77 0h1m-101 1h1m6 0h1m101 0h1m-125 1h1m13 0h1m22 0h1m1 0h1m13 0h1m24 0h1m40 0h1m-115 1h1m12 0h1m5 0h1m14 0h1m23 0h1m16 0h1m20 0h1m-93 1h1m7 0h1m1 0h2m63 0h1m54 0h1m-48 1h1m-64 1h1m24 0h1m3 0h1m15 0h1m6 0h1m-70 1h1m28 0h1m42 0h1m16 0h1m-93 1h1m63 0h1m10 0h1m-55 1h1m59 0h1m28 0h1m29 0h1m-127 1h1m30 0h1m-11 1h1m13 0h1m17 0h1m30 0h1m16 0h1m-104 1h1m11 0h1m22 0h1m12 0h1m2 0h1m1 0h1m9 0h1m2 0h1m-67 1h1m117 0h1m-140 1h1m34 0h1m55 0h1m19 0h1m-84 1h1m38 0h1m11 0h1m11 0h1m6 0h1m50 0h1m-96 1h1m24 0h2m36 0h1m-61 1h1m2 0h1m43 0h1m-63 1h1m23 0h1m6 0h1m5 0h1m44 0h1m-30 1h1m-78 1h1m18 0h1m34 0h1m10 0h1m6 0h1m48 0h1m-115 1h1m2 0h1m5 0h1m16 0h1m40 0h1m3 0h1m8 0h1m-95 1h1m71 0h1m65 0h1m-132 1h1m16 0h1m56 0h1m-53 1h1m13 0h1m8 0h1m53 0h1m-1 1h1m-65 1h1m34 0h1m26 0h1m1 0h1m-86 1h1m7 0h1m12 0h1m6 0h1m56 0h1m11 0h1m-128 1h1m66 0h1m69 0h1m-51 1h1m3 0h1m30 0h1m-103 1h1m65 0h2m11 0h1m-95 1h1m20 0h1m11 0h1m14 0h1m3 0h1m11 0h1m16 1h1m-33 1h2m23 0h1m16 0h1m-90 1h1m12 1h1m23 0h1m35 0h1m-23 1h1m17 0h2m-73 1h1m37 0h1m7 0h1m38 0h1m56 0h1m-150 1h1m5 0h1m27 0h1m13 0h1m15 0h1m37 0h1m21 0h1m-98 1h1m38 0h1m9 0h1m9 0h1m-60 1h1m24 0h1m25 0h1m-52 1h1m2 0h1m64 0h1m33 0h1m-114 1h1m5 0h1m5 0h1m6 0h1m13 0h1m36 0h1m-69 1h1m32 0h1m4 0h1m27 0h1m-67 1h1m3 0h1m29 0h1m64 0h1m11 0h1m9 0h1m-122 1h1m35 0h1m27 0h1m56 0h1m-104 1h1m8 0h1m78 0h1m-109 1h1m12 0h1m21 0h1m-49 1h1m23 0h1m8 0h1m14 0h1m1 0h1m53 0h1m-83 1h1m44 0h1m14 0h1m12 0h1m40 0h1m-62 1h2m6 0h1m24 0h1m-89 1h1m46 0h1m10 0h1m22 0h1m39 0h1m-72 1h1m4 0h1m3 0h1m10 0h1m-87 1h1m43 0h1m11 0h1m1 0h1m35 0h1m3 0h1m-61 1h1m5 0h1m19 0h1m12 0h2m12 0h1m20 0h1m4 0h1m24 0h1m-121 1h1m5 0h1m88 0h1m-109 1h1m4 0h1m91 0h1m-106 1h1m88 0h1m-99 1h1m4 0h1m18 0h1m24 0h1m41 0h1m26 0h1m-34 1h2m-57 1h1m33 0h1m6 0h1m32 0h1m25 0h1m-111 1h2m4 0h1m44 0h1m16 0h1m-65 1h1m5 0h1m3 0h1m-6 1h1m52 0h1m29 0h1m1 0h1m-93 1h1m62 0h2m21 0h1m-105 1h1m10 0h1m6 0h1m24 0h1m50 0h1m5 0h1m-86 1h1m14 0h1m27 0h1m3 0h1m7 0h2m16 0h1m-86 1h1m45 0h1m11 0h1m48 0h1m-87 1h1m30 0h1m2 0h1m13 0h1m9 0h1m-84 1h1m11 0h1m3 0h1m4 0h1m22 0h1m36 0h1m18 0h1m-52 1h1m6 0h1m9 0h1m2 0h1m3 0h1m16 0h1m-66 1h1m13 0h1m32 0h1m32 0h1m-101 1h1m36 0h1m1 0h1m70 0h1m-71 1h1m6 0h1m18 0h1m-58 1h1m11 0h1m-7 1h1m10 0h1m54 0h1m-71 1h1m45 0h1m15 0h1m36 1h1m-93 1h1m19 0h1m2 0h1m7 0h1m24 0h1m-82 1h1m20 0h3m67 0h1m3 0h1m2 0h1m35 0h1m-102 1h1m9 0h1m1 0h1m23 0h1m8 0h2m2 0h1m4 0h1m-61 2h1m36 0h1m-56 1h1m80 0h1m16 0h1m9 0h1m-100 1h1m63 0h1m5 0h1m16 0h1m-40 1h1m8 0h2m-70 1h1m2 0h1m69 0h1m-37 1h1m45 0h1m-47 1h1m48 0h1m1 0h1m19 0h1m33 0h1m-136 1h1m34 0h1m9 0h1m3 0h1m37 0h1m17 0h1m-106 1h1m23 0h1m30 0h1m23 0h1m-73 1h1m7 1h1m4 0h1m16 0h1m40 0h1m-71 1h1m6 0h1m5 0h1m52 0h1m-88 1h1m88 0h1m11 0h1m14 0h1m-95 1h1m31 0h1m-53 1h1m40 0h1m8 0h1m65 0h1m-28 1h1m-90 1h1m57 0h1m14 0h1m14 0h1m47 0h1m-122 1h1m15 0h1m78 0h1m-89 1h1m22 0h1m42 0h1m7 0h1m39 0h1m9 0h1m-139 1h1m16 0h1m19 0h1m12 0h1m11 0h1m55 0h1m-125 1h1m34 0h1m56 0h2m20 0h1m-96 1h1m24 0h1m8 0h1m32 0h1m32 0h1m-124 1h2m3 0h1m35 0h1m2 0h1m21 0h1m1 0h1m74 0h1m-86 1h1m13 0h1m22 0h1m-88 1h1m35 1h1m37 0h2m4 0h1m5 0h1m5 0h1m-95 1h1m13 0h1m23 0h1m98 0h1m-122 1h1m13 0h1m24 0h1m9 0h1m44 0h1m6 0h1m-104 1h1m7 1h1m18 0h1m9 0h1m10 0h1m3 1h1m19 0h1m1 0h1m-86 1h1m1 0h1m1 0h1m31 0h1m9 0h1m13 0h1m15 0h1m16 0h1m45 0h1m-149 1h1m7 0h1m49 0h1m13 0h1m29 0h1m13 0h1m1 0h1m-115 1h1m72 0h1m10 0h1m6 0h1m42 0h1m-90 1h1m-14 1h1m56 0h1m34 0h1m19 0h1m-134 1h1m53 0h1m11 0h1m6 0h1m-71 1h1m11 0h1m2 0h1m4 0h1m24 0h1m-30 1h1m27 0h1m16 0h1m38 0h1m-75 1h1m19 0h1m16 0h1m6 0h1m12 0h1m-29 1h1m17 0h1m9 0h1m-47 1h1m23 0h1m10 0h1m-66 1h1m9 0h1m13 0h1m5 0h1m16 0h2m16 0h1m-70 1h1m58 0h1m-77 1h1m16 0h1m3 0h1m24 0h1m3 0h1m15 0h1m1 0h1m3 0h1m13 0h1m19 1h1m-97 1h1m7 0h1m51 0h1m-43 1h1m40 0h1m49 0h1m-118 1h1m2 0h1m8 0h1m21 0h1m16 0h1m32 1h1m1 0h1m4 0h1m6 0h1m-76 1h2m65 0h1m3 0h1m-94 1h1m45 0h3m14 0h1m8 0h1m10 0h2m16 0h1m3 0h1m-109 1h1m19 0h1m7 0h1m21 0h3m5 0h1m17 0h1m9 0h1m19 0h1m1 0h1m-108 1h1m26 0h1m54 0h1m3 0h1m8 0h1m13 0h1m13 0h1m-107 1h1m31 0h1m4 0h1m10 0h1m32 0h1m2 0h1m41 0h1m-151 1h1m63 0h1m2 0h1m7 0h2m15 0h2m5 0h1m2 0h1m9 0h1m-93 1h1m13 0h1m6 0h1m24 0h1m17 0h1m55 0h1m-77 1h1m41 0h1m-77 1h1m33 0h1m9 0h1m11 0h1m14 0h1m8 0h1m-108 1h1m34 0h1m18 0h1m-51 1h1m65 0h1m8 0h1m4 0h1m2 0h1m5 0h1m7 0h1m13 0h1m11 0h1m-116 1h1m7 0h2m69 0h1m6 0h1m-78 1h1m10 0h1m34 0h1m11 0h1m19 0h1m-97 1h1m16 0h1m14 0h1m41 0h1m18 0h1m-93 1h1m20 0h1m73 0h1m-99 1h1m17 0h1m34 0h1m-54 1h1m5 0h1m87 0h1m9 0h1m-109 1h1m5 0h1m12 0h1m70 1h1m34 0h1m-104 1h1m42 0h1m84 0h1m-121 1h1m11 0h1m3 0h2m1 0h1m6 0h1m23 0h1m-78 1h1m13 0h1m73 0h1m11 0h1m-61 1h1m2 0h1m58 0h2m-68 1h1m6 0h1m50 0h1m7 0h1m-87 1h1m4 0h1m71 0h1m-90 1h1m7 0h1m2 0h1m47 0h1m3 0h1m9 0h1m24 0h1m-104 1h1m3 0h1m15 0h1m44 0h1m2 0h1m12 0h1m14 0h1m36 0h1m-122 1h1m4 0h1m67 0h1m8 0h1m-31 1h1m2 0h1m80 0h1m-87 1h1m22 0h1m1 0h1m14 0h1m-86 1h1m52 0h1m14 0h1m42 0h1m-40 1h1m58 0h1m-121 1h1m-23 1h1m19 0h1m76 0h1m-47 1h1m14 0h1m1 0h1m19 0h1m9 0h1m9 0h1m-111 1h1m16 0h1m36 0h2m10 0h1m8 0h1m10 0h1m-49 1h1m21 0h1m16 0h1m8 0h1m-67 1h1m48 0h1m14 0h1m-24 1h1m3 0h1m19 0h1m28 0h1m-119 1h1m3 0h1m101 0h1m-108 1h1m5 0h1m7 0h1m6 0h1m56 0h1m-67 1h1m16 0h1m54 0h1m28 0h1m-90 1h1m13 0h1m14 0h1m18 0h1m5 0h1m4 0h1m-9 1h1m-73 1h1m5 0h1m59 0h1m13 0h1m-51 1h1m54 0h1m6 0h2m-61 1h1m57 0h1m10 0h1m18 0h1m-57 1h1m48 0h1m-80 1h1m10 0h1m19 0h1m5 0h1m68 0h1m-138 1h1m1 0h1m19 1h1m28 0h1m43 0h1m-97 1h1m23 0h1m13 0h1m4 0h1m5 0h1m13 0h1m49 0h1m-85 1h1m113 0h1m-145 1h1m9 0h1m11 0h1m91 0h1m-115 1h1m29 0h1m61 0h1m-76 1h1m40 0h1m-41 1h1m29 0h1m22 0h1m13 0h1m38 0h1m9 0h1m-122 1h1m-18 1h1m29 0h1m14 0h1m72 0h1m-109 1h1m46 0h1m17 0h1m7 0h2m-80 1h1m11 0h1m6 0h1m14 0h1m16 0h1m8 0h2m29 0h1m46 0h1m-137 1h1m13 0h1m84 0h1m-74 1h1m14 0h1m27 0h1m35 0h1m-103 1h1m29 0h1"/>
<path stroke="#443983" d="M130 17.5h1m4 1h1m-78 3h1m81 0h1m-1 1h1m4 0h1m-115 2h2m80 0h1m1 0h1m39 0h1m-88 1h1m44 0h1m41 0h1m-144 1h1m18 0h1m83 0h1m1 0h1m12 0h1m-100 1h1m36 0h1m56 0h1m24 0h1m-125 1h1m68 0h1m15 0h1m33 0h1m4 0h1m-142 1h1m20 0h1m8 0h1m7 0h1m8 0h2m4 0h1m1 0h1m1 0h1m2 0h1m4 0h1m5 0h1m5 0h2m2 0h1m2 0h2m4 0h1m-85 1h2m5 0h1m10 0h1m8 0h1m18 0h1m1 0h1m3 0h1m8 0h1m2 0h1m16 0h1m5 0h1m6 0h1m-105 1h1m18 0h2m2 0h1m5 0h1m7 0h1m4 0h2m11 0h1m1 0h1m2 0h2m4 0h2m1 0h1m1 0h1m16 0h1m2 0h1m12 0h1m-100 1h2m2 0h1m2 0h1m9 0h1m7 0h1m5 0h1m5 0h2m7 0h1m4 0h1m3 0h2m4 0h1m5 0h1m1 0h1m4 0h1m2 0h2m2 0h1m10 0h1m-98 1h1m3 0h1m4 0h1m12 0h1m5 0h2m11 0h1m1 0h1m4 0h1m2 0h1m4 0h1m4 0h1m7 0h1m1 0h1m1 0h1m1 0h1m11 0h1m8 0h1m-94 1h2m1 0h1m8 0h1m4 0h1m3 0h1m3 0h1m3 0h1m3 0h1m8 0h1m4 0h2m7 0h1m16 0h1m1 0h3m1 0h1m2 0h1m5 0h1m6 0h1m-96 1h2m5 0h1m4 0h1m2 0h2m5 0h1m17 0h1m27 0h1m13 0h1m11 0h1m5 0h1m-100 1h1m14 0h1m9 0h1m15 0h1m10 0h1m-32 1h1m10 0h1m-6 1h1m2 0h1m22 0h1m13 0h1m7 0h1m4 0h1m-49 1h1m14 0h1m14 0h1m-66 1h1m-1 1h1m90 0h1m4 0h1m-78 2h1m4 0h1m86 1h1m5 2h1m6 0h1m19 2h1m-59 1h1m30 0h1m-45 1h1m-25 1h1m-14 2h1m21 0h1m-54 1h1m0 1h1m86 3h1m19 1h1m-95 1h1m60 0h1m17 0h1m-78 4h1m18 1h1m-12 1h1m44 1h1m-30 2h1m83 0h1m9 0h1m-119 1h1m42 0h1m38 0h1m13 0h1m-3 1h1m-105 1h1m46 0h1m46 0h1m-16 1h1m-72 1h1m66 0h1m3 2h1m6 1h1m-42 4h1m-56 1h1m49 0h1m-15 1h1m9 0h1m2 0h1m8 0h1m-55 1h1m85 0h1m-74 1h1m71 0h1m1 0h1m-3 1h1m-42 1h1m28 2h1m-34 1h1m13 0h1m30 1h1m-1 2h1m6 0h1m-86 1h1m20 0h1m1 0h1m37 1h1m-41 2h1m-19 1h1m70 1h1m3 1h1m53 0h1m-53 1h1m-3 1h1m-88 1h1m13 1h1m6 1h1m-1 1h1m10 0h1m37 0h1m-47 1h1m15 0h1m30 0h1m-12 1h1m5 0h1m4 2h1m6 0h1m-58 1h1m65 1h1m1 1h1m-62 1h1m-8 1h1m65 0h1m-67 2h1m41 0h1m37 1h1m-22 1h1m2 1h1m24 0h1m37 0h1m-126 1h1m31 0h1m40 0h1m19 0h1m-91 3h1m43 0h1m-53 1h1m59 0h1m11 0h1m25 0h1m-67 1h1m55 0h1m-18 1h1m-63 1h1m66 1h1m21 0h1m-99 1h1m53 0h2m3 1h1m11 0h1m-2 1h1m54 0h1m-79 1h1m44 0h1m-100 2h1m77 0h1m-50 1h1m-36 1h1m94 1h1m-53 1h1m-1 1h1m-45 2h1m35 0h1m38 1h1m1 0h1m7 0h1m-55 1h1m3 0h1m52 0h1m-70 1h1m15 0h1m4 0h1m40 0h1m57 2h1m-55 1h1m12 0h1m9 0h1m-41 2h1m-68 1h1m137 0h1m4 0h1m-60 1h1m-67 1h1m74 1h1m39 0h1m-50 2h1m-36 1h1m-34 1h1m12 0h1m29 2h1m-26 1h2m-7 1h1m6 0h1m106 0h1m-111 1h1m33 0h1m37 0h1m-22 2h1m-44 1h1m53 0h1m-7 1h1m-36 2h1m-28 1h1m56 0h1m-90 1h1m88 1h1m-31 1h1m5 0h1m23 0h1m-1 1h1m-1 1h1m-1 1h1m-17 1h1m11 0h1m-56 1h1m36 0h1m5 0h1m15 1h1m-35 1h1m-35 1h1m81 0h1m-15 1h1m-46 1h1m11 0h1m59 0h1m-111 1h1m25 0h1m28 1h1m27 0h1m48 0h1m-134 1h1m68 0h1m14 0h1m-85 1h2m14 0h1m11 0h1m-8 1h1m-18 1h1m102 0h1m-24 1h1m-42 1h1m-15 1h1m-30 1h1m63 0h1m-43 1h1m61 1h1m4 0h1m-72 1h1m3 0h1m51 0h1m9 0h1m-67 1h1m48 1h1m-25 1h1m30 1h1m-80 2h1m12 1h1m3 1h1m40 0h1m-48 2h1m33 0h1m97 0h1m-55 1h1m53 0h1m-140 1h1m49 0h1m88 0h1m-103 1h1m13 0h1m19 0h1m9 0h1m32 1h1m-87 2h1m54 3h1m40 0h1m-122 1h1m58 0h1m-2 1h1m31 0h1m-61 1h1m42 0h1m37 0h1m-62 1h1m25 0h1m-71 2h1m49 0h1m24 0h1m-85 1h1m11 0h1m101 0h1m-27 2h1m-82 1h1m98 0h1m27 0h1m-116 2h1m2 0h1m44 0h1m-51 1h1m-22 1h1m39 0h1m56 0h1m3 0h1m-98 2h1m101 0h1m-41 1h1m11 0h1m10 0h1m-17 1h1m-31 1h1m47 0h1m4 0h1m-99 1h1m14 0h1m25 0h1m12 0h1m85 0h1m-126 1h1m21 0h1m24 0h1m22 0h1m-33 1h1m35 0h1m-28 1h1m17 0h1m-50 2h1m18 0h1m-41 1h1m19 0h1m15 1h1m7 0h2m-41 1h1m38 0h1m85 0h1m-139 1h1m88 0h1m33 1h1m-86 1h1m33 0h1m-45 1h1m31 0h1m77 0h1m-57 1h1m-49 1h1m66 0h1m-91 1h1m126 0h1m-80 1h1m-25 2h1m8 1h1m23 0h1m-65 1h1m47 0h1m-24 1h1m20 0h1m52 0h1m-75 1h1m1 0h1m-17 1h1m12 1h1m69 1h1m-68 2h1m96 0h1m-52 1h1m70 0h1m-129 1h1m0 2h1m28 0h1m11 0h1m41 0h1m13 0h1m-113 2h1m84 1h1m2 0h1m-92 1h1m13 0h1m8 0h1m-6 1h1m52 0h1m8 1h1m-62 1h1m9 0h1m22 0h1m3 0h1m23 2h1m13 1h1m18 0h1m-53 1h1m-45 1h1m52 1h1m-72 1h1m-3 1h1m50 1h1m25 1h1m23 1h1m-100 2h1m70 0h1m-1 2h1m14 0h1m34 0h1m-40 2h1m-4 2h1m-42 1h1m38 0h1m-51 1h1m10 0h1m33 0h1m-49 1h1m29 0h1m-46 1h1m74 1h1m-83 1h1m19 0h1m1 0h1m-7 1h1m38 0h1m28 0h1m-6 1h1m18 0h1m-49 1h1m-34 1h1m96 0h1m14 0h1m4 0h1m-129 1h1m70 1h1m6 1h1m15 0h1m-61 1h1m17 0h1m6 0h1m14 1h1m-53 2h1m7 0h1m-24 1h1m47 1h1m24 0h1m9 1h1m37 0h1m-63 1h1m-32 1h1m16 0h1m19 0h2m28 0h1m-100 1h1m96 0h1m-71 1h1m44 0h1m-64 1h1m30 1h1m-10 1h1m-28 1h1m34 0h1m36 0h1m26 1h1m-26 1h1m24 1h1m26 2h1m-115 2h1m43 0h1m-17 1h1m4 0h1m55 0h1m-89 2h1m33 0h1m18 1h1m-78 1h1m41 2h1m7 0h1m41 0h1m15 0h1m-80 1h1m46 0h1m35 0h1m-80 2h1m98 0h1m-76 1h1m26 0h1m-73 1h1m99 0h1m-66 1h1m-46 1h1m6 0h1m132 0h1m-96 1h1m36 0h1m23 0h1m-88 1h1m6 0h1m45 0h1m6 0h1m18 0h1m-93 1h1m82 0h1m-36 1h1m9 1h1m23 2h1m-63 1h1m9 0h1m-13 1h1m-34 1h1m18 0h1m5 0h1m31 0h1m7 0h1m18 0h1m18 2h1m-16 1h1m-6 1h1m-65 2h1m-6 1h1m61 0h1m-29 1h1m43 0h1m-77 1h1m16 0h1m38 0h1m0 1h1m-53 1h1m40 1h1m36 0h1m15 0h1m-113 1h1m62 1h1m-43 1h2m66 0h1m11 0h1m24 1h1m-110 1h1m3 0h1m38 0h1m7 1h1m19 0h1m-68 1h1m2 0h1m83 0h1m-100 1h1m45 0h1m11 0h1m7 0h1m-57 1h1m116 0h1m-59 4h1m-48 1h1m55 0h1m7 0h1m-9 1h1m-79 1h1m75 1h1m-10 1h1m-65 1h1m7 0h1m-9 1h1m40 0h1m9 1h1m25 0h1m-27 1h1m7 0h1m30 0h1m9 0h1m-62 1h1m27 0h1m6 0h1m5 0h1m-27 1h1m-1 1h1m-4 1h1m14 0h1m19 0h1m-68 1h1m-30 1h1m34 1h1m60 2h1m2 0h1m-84 1h1m37 0h1m11 0h1m-47 1h1m25 1h1m29 0h1m-57 1h1m3 0h1m39 3h1m-12 1h1m-10 1h1m-36 1h1m30 0h1m2 0h1m24 0h1m-71 1h1"/>
<path stroke="#414487" d="M135 20.5h1m4 0h1m-11 1h1m9 2h1m-103 1h1m-13 1h1m90 0h1m-23 1h1m12 0h1m4 0h1m-88 1h1m68 0h1m-84 1h1m108 0h1m-112 1h1m2 0h1m3 0h1m2 0h1m2 0h1m1 0h1m9 0h1m5 0h1m8 0h1m34 0h1m5 0h2m7 0h2m1 0h1m-93 1h1m8 0h1m15 0h1m4 0h1m2 0h1m15 0h1m5 0h1m13 0h1m2 0h1m7 0h1m6 0h2m-91 1h1m1 0h1m3 0h1m2 0h1m1 0h1m12 0h1m19 0h1m1 0h1m8 0h1m2 0h1m1 0h1m7 0h1m2 0h2m8 0h1m-78 1h1m1 0h1m7 0h1m1 0h1m25 0h1m1 0h1m1 0h1m6 0h3m21 0h1m2 0h1m13 0h1m-96 1h1m1 0h2m7 0h1m10 0h1m4 0h2m8 0h1m18 0h1m4 0h1m1 0h1m5 0h1m-51 1h1m2 0h1m-6 1h1m36 1h1m29 0h1m3 1h1m48 1h1m-50 1h1m-74 1h1m97 1h1m-26 1h1m58 0h1m-59 1h1m-2 1h1m-1 1h1m-26 1h1m20 4h1m-52 2h1m113 1h1m-132 2h1m53 12h1m19 1h1m-21 4h1m46 0h1m-30 5h1m-1 1h1m-5 1h1m3 1h1m-89 3h1m51 6h1m23 5h1m-48 1h1m58 1h1m-1 3h1m53 2h1m-55 2h1m-5 2h1m3 1h1m-1 1h1m-67 1h1m-1 2h1m-17 2h1m15 1h1m-1 1h1m52 0h1m-54 2h1m65 0h1m-49 3h1m26 0h1m20 0h1m-37 2h1m35 4h1m53 1h1m-64 4h1m8 0h1m-25 1h1m62 4h1m-41 2h1m0 1h1m-86 3h1m84 0h1m-67 1h1m65 0h1m-67 2h1m2 0h1m62 0h1m-67 8h1m65 2h1m-28 3h1m-26 2h1m-1 1h1m1 0h1m49 0h1m-49 1h1m0 1h1m2 1h1m10 0h1m32 0h1m-43 5h1m41 0h1m7 0h1m-70 5h1m119 3h1m-145 4h1m85 2h1m-73 1h1m17 0h1m-11 6h1m62 2h1m7 1h1m20 0h1m-30 1h1m16 3h1m-18 3h1m-67 1h1m2 0h1m20 2h1m-22 1h1m20 0h1m-16 2h1m-33 1h1m7 7h1m17 0h1m89 0h1m-28 7h1m-35 1h1m58 2h1m-56 3h1m0 7h1m29 6h1m-58 1h1m18 0h1m32 0h1m-21 3h1m72 1h1m-87 1h1m-1 4h1m-1 4h1m48 0h1m-52 1h1m9 0h1m13 0h1m-23 2h1m7 2h1m-59 3h1m113 3h1m21 0h1m-79 1h1m-1 1h1m-11 1h1m50 1h1m46 0h1m-143 1h1m43 1h1m-1 9h1m27 2h1m3 5h1m55 0h1m-105 1h1m-35 3h1m31 1h1m-29 1h1m-6 2h1m32 4h1m38 1h1m-49 9h1m3 1h1m-29 2h1m21 0h1m-1 1h1m1 3h1m29 0h1m89 0h1m-114 1h1m10 0h1m-10 3h1m38 1h1m46 0h1m-75 2h1m37 0h1m-49 2h1m93 2h1m-108 1h1m35 0h1m4 2h1m22 3h1m-66 6h1m-8 5h1m124 3h1m-118 2h1m-11 1h1m2 2h1m128 7h1m-121 5h1m29 2h1m-31 2h1m27 2h1m-29 2h1m28 15h1m-9 2h1m34 1h1m-54 7h1m111 3h1"/>
<path stroke="#3d4d8a" d="M135 16.5h1m4 1h1m4 1h1m-1 1h1m-114 4h1m102 0h1m-68 1h1m54 0h1m1 0h1m24 0h1m-119 3h1m74 0h1m-103 2h1m21 0h1m12 0h1m2 0h1m32 0h1m4 0h2m14 0h1m6 0h1m-100 1h1m3 0h2m16 0h1m2 0h1m3 0h2m3 0h1m5 0h1m1 0h1m1 0h1m5 0h1m1 0h1m7 0h1m11 0h2m11 0h1m13 0h1m-95 1h1m5 0h2m5 0h1m11 0h1m1 0h1m2 0h1m2 0h2m16 0h1m16 0h1m3 0h1m5 0h1m2 0h1m6 0h2m-92 1h1m20 0h2m5 0h2m12 0h1m46 0h1m6 0h1m-92 1h1m15 0h1m67 0h1m6 0h1m-92 1h1m5 0h1m3 0h1m12 0h1m11 0h1m20 0h1m31 0h1m-6 2h1m-91 1h1m0 2h1m22 1h1m65 0h1m-67 2h1m65 1h1m-9 8h1m-9 1h1m-35 14h1m49 9h1m-1 4h1m-88 8h1m145 8h1m-117 6h1m56 0h1m-85 3h1m117 1h1m-35 6h1m-67 7h1m65 0h1m-1 4h1m-1 15h1m-67 13h1m65 0h1m-67 4h1m65 1h1m-54 4h1m1 1h1m4 3h1m45 4h1m-1 30h1m-64 5h1m-4 2h1m-1 2h1m-1 6h1m11 0h1m24 22h1m-1 1h1m-1 2h1m-9 2h1m7 5h1m-9 2h1m7 0h1m-1 3h1m-1 1h1m-1 5h1m-1 2h1m-9 2h1m-36 1h1m32 8h1m-1 1h1m32 7h1m-69 9h1m-12 4h1m123 5h1m-32 6h1m-75 7h1m6 10h1m-1 1h1m-11 1h1m2 0h1m38 0h1m-1 5h1m-1 2h1m-3 1h1m-38 30h1m-4 2h1m2 6h1m-1 7h1m-1 2h1m28 2h1m-1 5h1m-1 6h1"/>
<path stroke="#39568c" d="M140 15.5h1m4 1h1m-23 1h1m11 0h1m9 0h1m-88 1h1m-1 1h1m-20 3h1m55 0h1m39 0h1m-6 1h1m-10 1h1m-110 1h1m82 0h1m15 1h1m-53 1h1m-39 1h1m51 1h1m22 0h1m-89 1h1m4 0h1m5 0h1m4 0h1m3 0h1m8 0h1m12 0h2m12 0h1m4 0h1m3 0h1m12 0h1m6 0h2m-81 1h1m42 0h1m25 0h2m-67 1h1m1 0h1m7 0h1m28 0h1m18 0h1m-52 1h1m47 0h1m11 0h1m2 0h1m3 1h1m-7 2h1m-81 2h2m22 0h1m-25 1h1m23 2h1m65 41h1m-1 7h1m-1 9h1m-67 11h1m65 19h1m-1 29h1m-1 44h1m-67 1h1m-1 3h1m-1 5h1m36 21h1m-1 1h1m-9 9h1m-1 7h1m7 0h1m-9 4h1m7 1h1m-1 6h1m-1 1h1m-11 1h1m9 1h1m-1 1h1m-1 4h1m-57 26h1m18 16h1m-1 3h1m-1 2h1m-1 4h1m-1 2h1m-1 1h1m2 0h1m-4 1h1m-1 1h1m-1 1h1m-1 1h1m-1 1h1m38 1h1m-3 2h1m-38 29h1m67 2h1m-69 2h1m28 23h1m37 10h1"/>
<path stroke="#355f8d" d="M12 14.5h1m132 1h1m-16 1h1m9 0h1m-83 1h1m76 2h1m-78 1h1m71 0h1m14 0h1m-11 1h1m-98 2h1m29 0h1m26 0h1m-84 1h1m13 0h1m-6 3h1m16 0h1m72 0h1m-66 1h1m-39 1h1m79 0h1m-71 1h1m21 0h1m2 0h1m8 0h2m2 0h1m13 0h2m2 0h1m6 0h1m-74 1h1m20 0h1m43 0h1m27 0h1m1 0h1m1 0h1m-101 1h1m13 0h1m70 1h1m5 76h1m-1 20h1m-1 7h1m-1 4h1m-67 74h1m28 24h1m-1 6h1m7 1h1m-1 7h1m-38 58h1m-1 1h1m-1 6h1m2 5h1m-1 1h1m-4 36h1m28 18h1m-1 3h1m-1 3h1"/>
<path stroke="#31688e" d="M140 18.5h1m-110 4h1m76 0h1m21 0h1m-105 1h1m68 1h1m12 0h1m-50 1h1m-1 1h1m24 0h1m-31 2h1m36 0h1m-75 2h1m83 0h1m-75 1h1m22 0h1m34 0h2m2 0h1m-84 5h1m0 1h1m88 86h1m-1 26h1m-30 90h1m-57 52h1m18 25h1m36 10h1"/>
<path stroke="#2d708e" d="M95 14.5h1m23 8h1m-108 1h1m98 1h1m-66 1h1m61 0h1m-87 2h1m23 0h1m61 0h1m-1 1h1m-27 2h1m20 0h1m-97 4h1"/>
<path stroke="#2a788e" d="M58 1.5h1m71 14h1m-40 2h1m38 2h1m-12 2h1m-9 1h1m-81 1h1m22 1h1m52 0h1m-87 2h1m24 0h1m60 0h1m-48 1h1m49 0h1m-89 1h1m36 0h1m24 0h1m7 0h1m13 0h1m-51 3h1m-50 2h1m-1 3h1"/>
<path stroke="#27808e" d="M140 14.5h1m4 0h1m4 0h1m-16 1h1m-78 1h1m24 1h1m56 2h1m-110 1h1m36 0h1m-38 1h1m-20 1h1m93 0h1m-86 2h1m-1 1h1m85 0h1m-86 1h1m48 0h1m21 0h1m6 0h1m-2 1h1m-49 1h1m27 0h1m9 0h1m4 0h1m1 0h1m-91 7h2"/>
<path stroke="#23888e" d="M58 0.5h1m76 14h1m-43 3h1m17 0h1m-4 6h1m2 0h1m-14 1h1m-51 1h1m31 0h1m12 0h1m11 1h1m-67 1h1m69 0h1m-77 1h1m8 0h1m19 0h1m12 0h1m14 0h1m-85 5h1m-1 1h1"/>
<path stroke="#21908d" d="M130 13.5h1m9 0h1m-83 1h1m35 3h1m-4 1h1m25 2h1m37 0h1m-143 1h1m103 0h1m-86 1h1m5 0h1m59 0h1m18 0h1m-64 1h1m-6 1h1m43 0h1m-31 1h1m7 0h1m34 0h1m4 0h1m-49 1h1m11 0h1m7 0h1m-50 1h1m6 0h1m13 0h1m38 0h1m5 0h1m-92 1h1m3 0h1m2 0h1m3 0h1m28 0h1m13 0h1m36 0h1m6 0h1m-101 1h1"/>
<path stroke="#1f988b" d="M135 0.5h1m4 0h1m-11 10h1m4 3h1m-51 4h1m9 3h1m-50 1h1m103 0h1m-81 1h1m44 0h1m-70 2h1m12 0h1m34 0h1m11 0h1m3 0h1m-94 1h1m36 0h1m31 0h1m-73 1h1m2 0h1m11 0h1m6 0h1m18 0h1m4 0h1m31 0h1m-88 1h1m9 0h1m1 0h1m6 0h1m17 0h1m8 0h1m2 0h1m8 0h1m1 0h1m4 0h1m13 0h1m8 0h1m12 0h1m-93 1h2m9 0h1m1 0h1m11 0h1m1 0h1m1 0h1m16 0h1m3 0h1m17 0h2m4 0h1m4 0h1m3 0h2m2 0h2m2 0h1m-100 4h2"/>
<path stroke="#1fa188" d="M58 2.5h1m-1 11h1m30 2h1m2 2h1m-67 1h1m94 0h1m-3 1h1m-1 1h1m-25 1h1m-12 1h1m36 0h1m1 0h1m-103 1h1m37 0h1m57 0h1m-96 1h1m56 0h1m-61 1h1m2 0h1m39 0h1m26 0h1m6 0h1m5 0h1m2 0h1m3 0h1m-68 1h1m2 0h1m5 0h1m13 0h1m1 0h1m11 0h1m17 0h1m4 0h1m3 0h1m3 0h1m-100 1h1m17 0h1m7 0h1m11 0h1m2 0h1m9 0h1m3 0h1m4 0h2m7 0h1m10 0h1m6 0h1m-94 1h1m11 0h1m10 0h1m19 0h1m8 0h1m3 0h1m3 0h1m6 0h2m4 0h1m1 0h1m4 0h1m1 0h1m11 0h1m4 0h1"/>
<path stroke="#22a884" d="M135 9.5h1m-6 2h1m-1 1h1m14 1h1m-88 2h1m23 2h1m3 0h2m19 0h1m-24 1h1m1 0h1m-55 1h1m54 0h1m67 0h1m-124 1h1m92 0h1m-114 1h1m112 0h1m-58 1h1m22 0h1m17 0h1m40 0h1m-57 1h1m18 0h1m7 0h1m1 0h1m-111 1h1m4 0h2m4 0h1m45 0h1m1 0h1m9 0h1m13 0h1m3 0h1m-85 1h1m12 0h1m4 0h1m8 0h1m1 0h1m35 0h1m5 0h2m-70 1h2m18 0h1m8 0h1m3 0h1m1 0h1m19 0h1m3 0h1m22 0h1m7 0h1m-91 1h2m14 0h2m27 0h1m16 0h1m10 0h1m3 0h2m7 0h1m-76 1h1m13 0h2m9 0h2m9 0h1m7 0h1m34 0h2m-105 1h1"/>
<path stroke="#2ab07f" d="M130 0.5h1m14 11h1m-6 1h1m-22 4h1m1 0h1m-96 1h1m35 0h1m21 0h1m5 0h1m4 0h1m-18 1h1m44 0h1m-89 1h1m32 0h1m48 0h1m5 0h1m-112 1h1m13 0h1m80 0h1m15 0h1m-98 1h1m11 0h1m82 0h1m-34 1h1m10 0h1m10 0h1m14 0h1m-75 1h1m32 0h1m8 0h1m25 0h1m5 0h1m24 0h1m-146 1h1m22 0h1m10 0h1m34 0h1m2 0h1m24 0h1m-94 1h1m4 0h1m21 0h2m1 0h1m21 0h1m17 0h1m3 0h1m7 0h1m6 0h1m-94 1h1m2 0h1m7 0h1m13 0h1m3 0h2m7 0h2m2 0h1m1 0h1m3 0h1m3 0h1m4 0h1m7 0h1m1 0h2m11 0h1m2 0h1m7 0h1m1 0h2m4 0h1m-92 1h2m13 0h1m16 0h1m2 0h1m8 0h1m3 0h1m7 0h1m4 0h1m26 0h2m-84 1h1m14 0h1m5 0h1m9 0h1m18 0h3m-65 2h1m-2 1h1"/>
<path stroke="#35b779" d="M145 0.5h1m-51 1h1m39 11h1m19 3h1m-88 1h1m86 0h1m-144 1h1m18 0h2m55 0h2m35 0h1m29 0h1m-124 1h1m62 0h1m23 0h1m5 0h1m-44 1h1m42 0h1m24 0h1m-113 1h1m46 0h1m25 0h1m-87 1h1m42 0h1m23 0h1m20 0h1m9 0h1m-98 1h1m15 0h1m16 0h1m40 0h1m54 0h1m-134 1h1m23 0h1m35 0h1m32 0h1m39 0h1m-145 1h1m5 0h1m15 0h2m6 0h3m11 0h1m1 0h1m5 0h1m7 0h1m8 0h1m6 0h1m1 0h1m19 0h1m-99 1h1m3 0h1m4 0h1m9 0h1m10 0h2m6 0h1m5 0h1m4 0h1m11 0h2m1 0h1m2 0h1m5 0h1m5 0h1m12 0h1m6 0h1m-100 1h1m1 0h1m50 0h1m4 0h1m21 0h1m2 0h1m-72 1h1m6 0h1m9 0h1m2 0h1m3 0h1m2 0h1m2 0h1m13 0h1m10 0h2m2 0h1m21 0h1m-97 1h1m1 0h2m11 0h1m13 0h1m14 0h1m14 0h1m-62 2h1"/>
<path stroke="#44bf70" d="M32 0.5h1m25 11h1m76 0h1m-78 1h1m86 0h1m-27 3h1m-33 1h1m37 0h1m-88 1h1m29 0h1m39 0h1m12 0h1m-91 1h1m118 0h1m-60 1h1m8 0h1m-71 1h1m57 0h1m24 0h1m-30 1h1m30 0h1m39 0h1m-60 1h1m4 0h1m3 0h1m7 0h1m-78 1h1m2 0h1m47 0h1m18 0h2m-64 1h1m6 0h2m7 0h1m24 0h1m5 0h1m5 0h1m-71 1h1m23 0h3m12 0h2m1 0h1m15 0h1m6 0h1m1 0h1m2 0h1m-89 1h1m5 0h1m7 0h2m2 0h1m12 0h1m48 0h1m-82 1h2m15 0h1m1 0h1m28 0h1m16 0h1m1 0h1m7 0h1m2 0h3m1 0h1m-44 1h1m33 0h1m21 0h1m-97 3h1"/>
<path stroke="#54c568" d="M31 1.5h1m108 9h1m-110 5h1m15 0h1m15 0h1m53 0h1m3 0h1m-33 1h1m60 0h1m-1 1h1m-59 1h1m-62 1h1m52 0h2m9 0h1m-12 1h1m13 0h1m9 0h1m12 0h1m28 0h1m-92 1h1m33 0h1m14 0h1m-27 1h2m18 0h2m-93 1h1m2 0h1m14 0h1m30 0h1m10 0h1m7 0h1m11 0h1m-77 1h2m13 0h1m5 0h1m27 0h3m2 0h1m6 0h1m7 0h1m5 0h1m1 0h1m6 0h1m-95 1h1m2 0h1m9 0h1m16 0h1m8 0h1m20 0h1m8 0h1m1 0h1m22 0h1m-72 1h1m12 0h1m14 0h1m9 0h1m9 0h2m2 0h1m6 0h1m2 0h1m12 0h1m-94 1h1m5 0h1m27 0h1m31 0h2m7 0h1m3 0h1m13 0h1m-86 1h1m5 0h1m4 0h1m46 0h1m9 0h1"/>
<path stroke="#67cc5c" d="M31 0.5h1m98 9h1m14 1h1m-21 3h1m-71 1h1m61 0h1m1 0h1m5 0h1m-3 1h1m-49 1h1m30 1h1m10 0h1m-80 1h1m46 0h1m31 0h1m-106 1h1m80 0h1m-66 1h1m30 0h1m29 1h1m21 0h1m-91 1h1m24 0h1m40 0h1m4 0h1m4 0h1m-93 1h1m13 0h1m37 0h1m39 0h1m11 0h1m-96 1h1m5 0h1m14 0h1m4 0h1m4 0h1m2 0h1m12 0h1m5 0h1m5 0h1m1 0h1m2 0h1m24 0h1m-91 1h1m10 0h1m3 0h1m4 0h1m16 0h1m6 0h1m6 0h1m5 0h1m6 0h1m-68 1h1m26 0h1m12 0h1m31 0h1m-48 2h2m40 0h1"/>
<path stroke="#7ad151" d="M95 0.5h1m-38 7h1m76 3h1m4 1h1m-107 4h1m90 0h1m-94 1h1m66 1h1m5 0h1m-94 1h1m55 0h1m24 0h2m60 0h1m-62 1h1m-79 1h1m53 0h1m44 0h1m-28 1h1m2 0h1m-70 1h1m4 1h2m12 0h1m6 0h1m4 0h1m21 0h1m10 0h1m2 0h1m14 0h1m5 0h1m-102 1h2m18 0h1m17 0h1m2 0h1m2 0h1m2 0h1m5 0h1m18 0h1m1 0h1m20 0h2m-81 1h1m14 0h1m15 0h1m25 0h1m17 0h2m-41 1h1m-44 1h1m14 0h1m19 1h1"/>
<path stroke="#90d743" d="M12 0.5h1m25 0h1m-7 2h1m25 8h1m62 4h1m-96 1h1m5 0h1m38 0h1m23 0h1m-5 1h1m8 1h1m8 0h2m-28 1h1m6 0h1m-53 1h1m-30 1h1m81 0h2m7 0h1m-47 2h1m7 0h1m9 0h1m12 0h1m7 0h1m-79 1h1m4 0h1m21 0h1m1 0h2m6 0h1m24 0h1m10 0h1m7 0h1m2 0h1m-73 1h1m9 0h1m48 0h1m1 0h1m-79 1h1m36 0h1m56 0h1m-72 1h1m47 0h1m4 0h1"/>
<path stroke="#a5db36" d="M26 1.5h1m5 0h1m102 0h1m9 8h1m-115 4h1m57 1h1m-52 1h1m-27 1h1m80 0h1m29 0h1m-65 1h1m37 0h1m-29 2h1m22 0h1m15 0h1m-86 1h1m62 0h1m6 0h2m-56 1h1m46 0h1m11 0h1m-84 1h1m47 0h1m22 0h1m2 0h1m4 0h1m-79 1h2m37 0h1m5 0h2m7 0h1m1 0h2m26 0h1m1 0h1m-95 1h1m16 0h1m75 0h1m-84 2h1"/>
<path stroke="#bddf26" d="M130 1.5h1m9 0h1m-6 7h1m4 1h1m-109 4h1m-1 1h1m66 1h1m50 0h1m-113 1h1m55 0h1m22 0h1m-22 1h1m6 0h1m15 0h1m-38 1h1m4 0h1m-29 1h1m23 0h1m4 0h1m22 0h1m1 0h1m-101 1h1m69 0h1m5 0h1m6 0h1m5 0h1m-80 1h1m59 0h1m23 0h1m-79 1h1m19 0h1m1 0h1m5 0h1m21 0h2m9 0h1m-58 1h1m3 0h1m11 0h1m6 0h1m6 0h1m2 0h2m6 0h1m8 0h1m8 0h1m8 0h1m3 0h1m-83 2h1m1 1h1m-20 1h1"/>
<path stroke="#d2e21b" d="M68 0.5h1m-1 1h1m76 0h1m-134 1h1m45 1h1m64 10h1m-1 1h1m-98 2h1m4 0h1m50 0h1m2 0h1m16 1h1m-15 1h1m19 0h1m-63 2h1m7 0h1m54 0h1m-82 1h1m11 0h1m1 0h1m51 0h1m10 0h1m-65 1h1m24 0h1m2 0h1m4 0h1m2 0h1m26 0h1m-96 1h1m13 0h2m25 0h1m27 0h1m2 0h1m3 0h1m4 0h1m12 0h1m-97 2h1"/>
<path stroke="#eae51a" d="M108 0.5h1m-97 1h1m25 0h1m29 1h1m66 5h1m-78 1h1m-1 1h1m-21 2h1m29 2h1m26 0h1m25 0h1m-84 1h1m116 0h1m-144 1h1m74 0h1m-5 1h1m2 0h1m5 0h1m2 0h1m15 0h1m-53 2h1m55 1h1m-95 1h1m60 0h1m7 0h1m15 0h1m-85 1h1m42 0h1m16 0h1m2 0h1m11 0h1m-93 1h1m2 0h1m9 0h2m4 0h1m8 0h1m14 0h1m12 0h1m9 0h1m-59 1h1m4 0h1m6 0h1m4 0h1m12 0h1m20 0h2m3 0h1m6 0h1m-54 1h1"/>
<path stroke="#fde725" d="M5 0.5h7m1 0h18m2 0h5m1 0h19m1 0h9m1 0h26m1 0h12m1 0h3m1 0h1m1 0h1m1 0h1m1 0h1m1 0h1m1 0h1m1 0h1m24 0h1m4 0h1m-151 1h7m1 0h13m1 0h4m2 0h5m1 0h19m1 0h9m1 0h26m1 0h16m1 0h1m1 0h1m1 0h1m1 0h1m1 0h1m1 0h1m1 0h1m24 0h1m4 0h1m-151 1h7m1 0h19m1 0h25m1 0h9m1 0h43m1 0h1m1 0h1m1 0h1m1 0h1m1 0h1m1 0h1m1 0h1m4 0h1m4 0h1m4 0h1m4 0h1m4 0h1m4 0h1m-151 1h53m1 0h53m1 0h1m1 0h1m1 0h1m1 0h1m1 0h1m1 0h1m1 0h1m4 0h1m4 0h1m4 0h1m4 0h1m4 0h1m4 0h1m-151 1h107m1 0h1m1 0h1m1 0h1m1 0h1m1 0h1m1 0h1m1 0h1m4 0h1m4 0h1m4 0h1m4 0h1m4 0h1m4 0h1m-151 1h107m1 0h1m1 0h1m1 0h1m1 0h1m1 0h1m1 0h1m1 0h1m4 0h1m4 0h1m4 0h1m4 0h1m4 0h1m4 0h1m-151 1h107m1 0h1m1 0h1m1 0h1m1 0h1m1 0h1m1 0h1m1 0h1m4 0h1m4 0h1m4 0h1m4 0h1m4 0h1m4 0h1m-151 1h53m1 0h53m1 0h1m1 0h1m1 0h1m1 0h1m1 0h1m1 0h1m1 0h1m4 0h1m9 0h1m4 0h1m4 0h1m4 0h1m-151 1h53m1 0h53m1 0h1m1 0h1m1 0h1m1 0h1m1 0h1m1 0h1m1 0h1m4 0h1m9 0h1m4 0h1m4 0h1m4 0h1m-151 1h53m1 0h53m1 0h1m1 0h1m1 0h1m1 0h1m1 0h1m1 0h1m1 0h1m24 0h1m4 0h1m-151 1h53m1 0h53m1 0h1m1 0h1m1 0h1m1 0h1m1 0h1m1 0h1m1 0h1m24 0h1m4 0h1m-151 1h33m1 0h19m1 0h53m1 0h1m1 0h1m1 0h1m1 0h1m1 0h1m1 0h1m1 0h1m24 0h1m4 0h1m-151 1h53m1 0h53m1 0h1m1 0h1m1 0h1m1 0h1m1 0h1m1 0h1m1 0h1m24 0h1m4 0h1m-151 1h26m2 0h25m1 0h9m1 0h26m1 0h16m1 0h1m1 0h1m1 0h1m1 0h1m30 0h1m4 0h1m-151 1h7m1 0h19m1 0h5m1 0h16m1 0h2m1 0h30m1 0h5m1 0h16m1 0h1m1 0h1m-111 1h7m1 0h13m1 0h4m2 0h1m1 0h3m1 0h8m1 0h10m1 0h4m1 0h7m1 0h15m1 0h1m1 0h5m1 0h3m1 0h12m1 0h1m1 0h1m-111 1h7m1 0h13m1 0h4m2 0h5m1 0h19m1 0h9m1 0h6m1 0h6m2 0h1m3 0h1m1 0h1m5 0h15m2 0h1m1 0h1m-111 1h7m1 0h13m1 0h4m2 0h5m1 0h19m2 0h2m1 0h5m1 0h13m16 0h1m2 0h1m2 0h1m8 0h1m1 0h1m-111 1h7m1 0h13m1 0h4m2 0h5m1 0h19m2 0h8m1 0h9m1 0h3m7 0h1m6 0h12m1 0h3m1 0h1m1 0h1m-111 1h7m1 0h13m1 0h4m2 0h2m1 0h2m1 0h19m2 0h8m2 0h12m4 0h1m2 0h2m5 0h4m1 0h7m1 0h2m-106 1h4m1 0h2m2 0h2m1 0h4m1 0h1m1 0h2m1 0h1m1 0h1m3 0h5m1 0h7m1 0h7m1 0h3m2 0h8m1 0h1m1 0h11m5 0h1m9 0h1m1 0h1m1 0h1m1 0h3m4 0h1m-106 1h7m2 0h7m3 0h1m2 0h1m1 0h2m2 0h5m3 0h1m1 0h3m1 0h11m2 0h5m1 0h2m1 0h13m5 0h1m2 0h1m5 0h1m2 0h6m1 0h1m2 0h2m-105 1h2m1 0h3m1 0h2m1 0h2m2 0h1m2 0h1m1 0h1m1 0h2m1 0h1m3 0h4m2 0h1m2 0h3m1 0h1m2 0h1m1 0h2m1 0h2m3 0h1m3 0h2m1 0h1m5 0h1m1 0h2m1 0h1m2 0h1m-76 1h3m1 0h1m23 0h2m4 0h1m6 0h1m32 0h1m17 0h1m-93 1h2m-2 1h1m-1 1h2m-1 1h1m-2 1h2"/>
</g></g>
<rect x="1016.5" y="85.5" width="36.0" height="737.0" fill="url(#vir)"/>
<g fill="none" stroke="#000" stroke-width="1.1111" stroke-linecap="square">
<rect x="98.5" y="85.5" width="864.0" height="737.0"/>
<rect x="1016.5" y="85.5" width="36.0" height="737.0"/>
</g>
<path d="M179.5 822.5v5.000M287.5 822.5v5.000M395.5 822.5v5.000M503.5 822.5v5.000M611.5 822.5v5.000M719.5 822.5v5.000M827.5 822.5v5.000M935.5 822.5v5.000M98.5 810.5h-5.000M98.5 689.5h-5.000M98.5 569.5h-5.000M98.5 448.5h-5.000M98.5 327.5h-5.000M98.5 206.5h-5.000M98.5 85.5h-5.000M1052.5 822.5h5.000M1052.5 699.5h5.000M1052.5 577.5h5.000M1052.5 454.5h5.000M1052.5 331.5h5.000M1052.5 208.5h5.000M1052.5 85.5h5.000" fill="none" stroke="#000" stroke-width="1.1111"/>
<text class="t15" text-anchor="middle" x="178.641" y="847.944" xml:space="preserve" style="white-space:pre">2</text>
<text class="t15" text-anchor="middle" x="286.626" y="847.944" xml:space="preserve" style="white-space:pre">4</text>
<text class="t15" text-anchor="middle" x="394.611" y="847.944" xml:space="preserve" style="white-space:pre">6</text>
<text class="t15" text-anchor="middle" x="502.595" y="847.944" xml:space="preserve" style="white-space:pre">8</text>
<text class="t15" text-anchor="middle" x="610.580" y="847.944" xml:space="preserve" style="white-space:pre">10</text>
<text class="t15" text-anchor="middle" x="718.565" y="847.944" xml:space="preserve" style="white-space:pre">12</text>
<text class="t15" text-anchor="middle" x="826.550" y="847.944" xml:space="preserve" style="white-space:pre">14</text>
<text class="t15" text-anchor="middle" x="934.534" y="847.944" xml:space="preserve" style="white-space:pre">16</text>
<text class="t15" text-anchor="end" x="87.931" y="818.140" xml:space="preserve" style="white-space:pre">0</text>
<text class="t15" text-anchor="end" x="87.931" y="697.323" xml:space="preserve" style="white-space:pre">100</text>
<text class="t15" text-anchor="end" x="87.931" y="576.505" xml:space="preserve" style="white-space:pre">200</text>
<text class="t15" text-anchor="end" x="87.931" y="455.687" xml:space="preserve" style="white-space:pre">300</text>
<text class="t15" text-anchor="end" x="87.931" y="334.869" xml:space="preserve" style="white-space:pre">400</text>
<text class="t15" text-anchor="end" x="87.931" y="214.051" xml:space="preserve" style="white-space:pre">500</text>
<text class="t15" text-anchor="end" x="87.931" y="93.233" xml:space="preserve" style="white-space:pre">600</text>
<text class="t15" text-anchor="start" x="1062.595" y="830.222" xml:space="preserve" style="white-space:pre">0</text>
<text class="t15" text-anchor="start" x="1062.595" y="707.391" xml:space="preserve" style="white-space:pre">5</text>
<text class="t15" text-anchor="start" x="1062.595" y="584.559" xml:space="preserve" style="white-space:pre">10</text>
<text class="t15" text-anchor="start" x="1062.595" y="461.728" xml:space="preserve" style="white-space:pre">15</text>
<text class="t15" text-anchor="start" x="1062.595" y="338.896" xml:space="preserve" style="white-space:pre">20</text>
<text class="t15" text-anchor="start" x="1062.595" y="216.065" xml:space="preserve" style="white-space:pre">25</text>
<text class="t15" text-anchor="start" x="1062.595" y="93.233" xml:space="preserve" style="white-space:pre">30</text>
<text class="t15" text-anchor="middle" x="529.592" y="873.500" xml:space="preserve" style="white-space:pre">Frequency (MHz)</text>
<text class="t15" text-anchor="middle" transform="translate(37.500 454.228) rotate(-90)">Virtual range (km)</text>
<text class="t15" text-anchor="middle" transform="translate(1109.150 454.228) rotate(-90)">SNR (dB)</text>
<text class="t20" text-anchor="middle" x="529.592" y="43.700" xml:space="preserve" style="white-space:pre">IRF Kiruna Ionosonde KI167 2025-11-14 12:25:00  UT</text>
<text class="t20" text-anchor="middle" x="529.592" y="76.900" xml:space="preserve" style="white-space:pre">noise_floor=-120.99 (dB) peak SNR=103.70</text>
</svg></body></html>
